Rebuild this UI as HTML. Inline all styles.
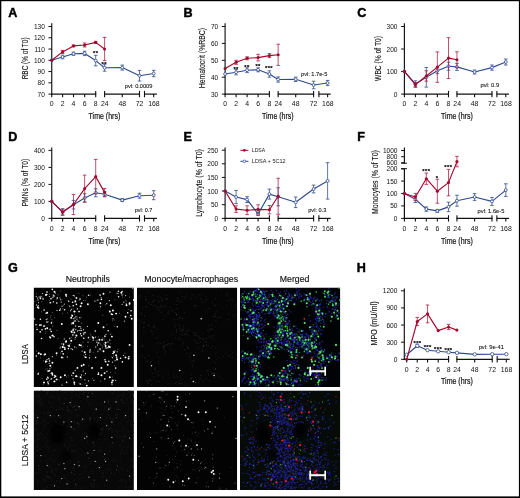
<!DOCTYPE html>
<html lang="en"><head><meta charset="utf-8"><title>Figure</title>
<style>html,body{margin:0;padding:0;background:#fff;}body{width:520px;height:498px;overflow:hidden;font-family:"Liberation Sans", Arial, sans-serif;}body>svg{display:block;will-change:transform;transform:translateZ(0);}</style>
</head><body>
<svg width="520" height="498" viewBox="0 0 520 498" font-family='"Liberation Sans", Arial, sans-serif'>
<rect x="0" y="0" width="520" height="498" fill="#fff"/>
<text x="8.2" y="17.1" font-size="12.6" text-anchor="start" font-weight="bold" fill="#000" stroke="#000" stroke-width="0.45" stroke-linejoin="round">A</text>
<line x1="51.75" y1="23.2" x2="51.75" y2="94.7" stroke="#111" stroke-width="1.15" />
<line x1="48.45" y1="26.5" x2="51.75" y2="26.5" stroke="#111" stroke-width="1.0" />
<text x="44.85" y="29" font-size="6.55" text-anchor="end" font-weight="normal" fill="#111" >130</text>
<line x1="48.45" y1="37.77" x2="51.75" y2="37.77" stroke="#111" stroke-width="1.0" />
<text x="44.85" y="40.27" font-size="6.55" text-anchor="end" font-weight="normal" fill="#111" >120</text>
<line x1="48.45" y1="49.04" x2="51.75" y2="49.04" stroke="#111" stroke-width="1.0" />
<text x="44.85" y="51.54" font-size="6.55" text-anchor="end" font-weight="normal" fill="#111" >110</text>
<line x1="48.45" y1="60.3" x2="51.75" y2="60.3" stroke="#111" stroke-width="1.0" />
<text x="44.85" y="62.8" font-size="6.55" text-anchor="end" font-weight="normal" fill="#111" >100</text>
<line x1="48.45" y1="71.57" x2="51.75" y2="71.57" stroke="#111" stroke-width="1.0" />
<text x="44.85" y="74.07" font-size="6.55" text-anchor="end" font-weight="normal" fill="#111" >90</text>
<line x1="48.45" y1="82.84" x2="51.75" y2="82.84" stroke="#111" stroke-width="1.0" />
<text x="44.85" y="85.34" font-size="6.55" text-anchor="end" font-weight="normal" fill="#111" >80</text>
<line x1="48.45" y1="94.1" x2="51.75" y2="94.1" stroke="#111" stroke-width="1.0" />
<text x="44.85" y="96.6" font-size="6.55" text-anchor="end" font-weight="normal" fill="#111" >70</text>
<line x1="51.2" y1="94.1" x2="96.2" y2="94.1" stroke="#111" stroke-width="1.2" />
<line x1="51.75" y1="94.1" x2="51.75" y2="97.3" stroke="#111" stroke-width="1.1" />
<line x1="62.6" y1="94.1" x2="62.6" y2="97.3" stroke="#111" stroke-width="1.1" />
<line x1="73.5" y1="94.1" x2="73.5" y2="97.3" stroke="#111" stroke-width="1.1" />
<line x1="84.65" y1="94.1" x2="84.65" y2="97.3" stroke="#111" stroke-width="1.1" />
<line x1="95.7" y1="90.9" x2="95.7" y2="97.3" stroke="#111" stroke-width="1.1" />
<line x1="104.1" y1="94.1" x2="140" y2="94.1" stroke="#111" stroke-width="1.2" />
<line x1="104.6" y1="90.9" x2="104.6" y2="97.3" stroke="#111" stroke-width="1.1" />
<line x1="122.25" y1="94.1" x2="122.25" y2="97.3" stroke="#111" stroke-width="1.1" />
<line x1="139.5" y1="90.9" x2="139.5" y2="97.3" stroke="#111" stroke-width="1.1" />
<line x1="144" y1="94.1" x2="156.9" y2="94.1" stroke="#111" stroke-width="1.2" />
<line x1="144.5" y1="90.9" x2="144.5" y2="97.3" stroke="#111" stroke-width="1.1" />
<line x1="153.7" y1="94.1" x2="153.7" y2="97.3" stroke="#111" stroke-width="1.1" />
<text x="51.75" y="106.3" font-size="6.9" text-anchor="middle" font-weight="normal" fill="#111" >0</text>
<text x="62.6" y="106.3" font-size="6.9" text-anchor="middle" font-weight="normal" fill="#111" >2</text>
<text x="73.5" y="106.3" font-size="6.9" text-anchor="middle" font-weight="normal" fill="#111" >4</text>
<text x="84.65" y="106.3" font-size="6.9" text-anchor="middle" font-weight="normal" fill="#111" >6</text>
<text x="95.7" y="106.3" font-size="6.9" text-anchor="middle" font-weight="normal" fill="#111" >8</text>
<text x="104.8" y="106.3" font-size="6.9" text-anchor="middle" font-weight="normal" fill="#111" >24</text>
<text x="122.25" y="106.3" font-size="6.9" text-anchor="middle" font-weight="normal" fill="#111" >48</text>
<text x="139.5" y="106.3" font-size="6.9" text-anchor="middle" font-weight="normal" fill="#111" >72</text>
<text x="153.9" y="106.3" font-size="6.9" text-anchor="middle" font-weight="normal" fill="#111" >168</text>
<text transform="translate(104.4,119)" x="0" y="0" font-size="8.7" text-anchor="middle" textLength="31.7" lengthAdjust="spacingAndGlyphs" fill="#111" stroke="#111" stroke-width="0.2">Time (hrs)</text>
<line x1="62.6" y1="55.2" x2="62.6" y2="58.8" stroke="#2F4B8C" stroke-width="0.75" />
<line x1="60.8" y1="55.2" x2="64.4" y2="55.2" stroke="#2F4B8C" stroke-width="0.8" />
<line x1="60.8" y1="58.8" x2="64.4" y2="58.8" stroke="#2F4B8C" stroke-width="0.8" />
<line x1="73.5" y1="52.1" x2="73.5" y2="55.3" stroke="#2F4B8C" stroke-width="0.75" />
<line x1="71.7" y1="52.1" x2="75.3" y2="52.1" stroke="#2F4B8C" stroke-width="0.8" />
<line x1="71.7" y1="55.3" x2="75.3" y2="55.3" stroke="#2F4B8C" stroke-width="0.8" />
<line x1="84.65" y1="51.2" x2="84.65" y2="55.6" stroke="#2F4B8C" stroke-width="0.75" />
<line x1="82.85" y1="51.2" x2="86.45" y2="51.2" stroke="#2F4B8C" stroke-width="0.8" />
<line x1="82.85" y1="55.6" x2="86.45" y2="55.6" stroke="#2F4B8C" stroke-width="0.8" />
<line x1="95.7" y1="55.3" x2="95.7" y2="65.9" stroke="#2F4B8C" stroke-width="0.75" />
<line x1="93.9" y1="55.3" x2="97.5" y2="55.3" stroke="#2F4B8C" stroke-width="0.8" />
<line x1="93.9" y1="65.9" x2="97.5" y2="65.9" stroke="#2F4B8C" stroke-width="0.8" />
<line x1="104.6" y1="64.2" x2="104.6" y2="71.2" stroke="#2F4B8C" stroke-width="0.75" />
<line x1="102.8" y1="64.2" x2="106.4" y2="64.2" stroke="#2F4B8C" stroke-width="0.8" />
<line x1="102.8" y1="71.2" x2="106.4" y2="71.2" stroke="#2F4B8C" stroke-width="0.8" />
<line x1="122.25" y1="65.1" x2="122.25" y2="70.1" stroke="#2F4B8C" stroke-width="0.75" />
<line x1="120.45" y1="65.1" x2="124.05" y2="65.1" stroke="#2F4B8C" stroke-width="0.8" />
<line x1="120.45" y1="70.1" x2="124.05" y2="70.1" stroke="#2F4B8C" stroke-width="0.8" />
<line x1="139.5" y1="70.4" x2="139.5" y2="81" stroke="#2F4B8C" stroke-width="0.75" />
<line x1="137.7" y1="70.4" x2="141.3" y2="70.4" stroke="#2F4B8C" stroke-width="0.8" />
<line x1="137.7" y1="81" x2="141.3" y2="81" stroke="#2F4B8C" stroke-width="0.8" />
<line x1="153.7" y1="70.3" x2="153.7" y2="76.7" stroke="#2F4B8C" stroke-width="0.75" />
<line x1="151.9" y1="70.3" x2="155.5" y2="70.3" stroke="#2F4B8C" stroke-width="0.8" />
<line x1="151.9" y1="76.7" x2="155.5" y2="76.7" stroke="#2F4B8C" stroke-width="0.8" />
<polyline points="51.75,60.2 62.6,57 73.5,53.7 84.65,53.4 95.7,60.6 104.6,67.7 122.25,67.6 139.5,75.7 153.7,73.5" fill="none" stroke="#2F4B8C" stroke-width="1.15" stroke-linejoin="round"/>
<circle cx="51.75" cy="60.2" r="1.45" fill="#fff" stroke="#2F4B8C" stroke-width="0.8"/>
<circle cx="62.6" cy="57" r="1.45" fill="#fff" stroke="#2F4B8C" stroke-width="0.8"/>
<circle cx="73.5" cy="53.7" r="1.45" fill="#fff" stroke="#2F4B8C" stroke-width="0.8"/>
<circle cx="84.65" cy="53.4" r="1.45" fill="#fff" stroke="#2F4B8C" stroke-width="0.8"/>
<circle cx="95.7" cy="60.6" r="1.45" fill="#fff" stroke="#2F4B8C" stroke-width="0.8"/>
<circle cx="104.6" cy="67.7" r="1.45" fill="#fff" stroke="#2F4B8C" stroke-width="0.8"/>
<circle cx="122.25" cy="67.6" r="1.45" fill="#fff" stroke="#2F4B8C" stroke-width="0.8"/>
<circle cx="139.5" cy="75.7" r="1.45" fill="#fff" stroke="#2F4B8C" stroke-width="0.8"/>
<circle cx="153.7" cy="73.5" r="1.45" fill="#fff" stroke="#2F4B8C" stroke-width="0.8"/>
<line x1="62.6" y1="50.4" x2="62.6" y2="53.4" stroke="#AE1A40" stroke-width="0.75" />
<line x1="60.8" y1="50.4" x2="64.4" y2="50.4" stroke="#AE1A40" stroke-width="0.8" />
<line x1="60.8" y1="53.4" x2="64.4" y2="53.4" stroke="#AE1A40" stroke-width="0.8" />
<line x1="73.5" y1="45.1" x2="73.5" y2="46.7" stroke="#AE1A40" stroke-width="0.75" />
<line x1="71.7" y1="45.1" x2="75.3" y2="45.1" stroke="#AE1A40" stroke-width="0.8" />
<line x1="71.7" y1="46.7" x2="75.3" y2="46.7" stroke="#AE1A40" stroke-width="0.8" />
<line x1="84.65" y1="43" x2="84.65" y2="47" stroke="#AE1A40" stroke-width="0.75" />
<line x1="82.85" y1="43" x2="86.45" y2="43" stroke="#AE1A40" stroke-width="0.8" />
<line x1="82.85" y1="47" x2="86.45" y2="47" stroke="#AE1A40" stroke-width="0.8" />
<line x1="95.7" y1="41.4" x2="95.7" y2="43.4" stroke="#AE1A40" stroke-width="0.75" />
<line x1="93.9" y1="41.4" x2="97.5" y2="41.4" stroke="#AE1A40" stroke-width="0.8" />
<line x1="93.9" y1="43.4" x2="97.5" y2="43.4" stroke="#AE1A40" stroke-width="0.8" />
<line x1="104.6" y1="37.4" x2="104.6" y2="60.6" stroke="#AE1A40" stroke-width="0.75" />
<line x1="102.8" y1="37.4" x2="106.4" y2="37.4" stroke="#AE1A40" stroke-width="0.8" />
<line x1="102.8" y1="60.6" x2="106.4" y2="60.6" stroke="#AE1A40" stroke-width="0.8" />
<polyline points="51.75,60.2 62.6,51.9 73.5,45.9 84.65,45 95.7,42.4 104.6,49" fill="none" stroke="#A5082E" stroke-width="1.15" stroke-linejoin="round"/>
<circle cx="51.75" cy="60.2" r="1.55" fill="#A5082E"/>
<circle cx="62.6" cy="51.9" r="1.55" fill="#A5082E"/>
<circle cx="73.5" cy="45.9" r="1.55" fill="#A5082E"/>
<circle cx="84.65" cy="45" r="1.55" fill="#A5082E"/>
<circle cx="95.7" cy="42.4" r="1.55" fill="#A5082E"/>
<circle cx="104.6" cy="49" r="1.55" fill="#A5082E"/>
<text transform="translate(28.3,58.4) rotate(-90)" x="0" y="0" font-size="8.7" text-anchor="middle" textLength="41.9" lengthAdjust="spacingAndGlyphs" fill="#111" stroke="#111" stroke-width="0.1">RBC (% of T0)</text>
<text x="95.72" y="55.3" font-size="5.8" text-anchor="middle" font-weight="bold" fill="#000" letter-spacing="0.45" stroke="#000" stroke-width="0.15">**</text>
<text x="104.22" y="66" font-size="5.8" text-anchor="middle" font-weight="bold" fill="#000" letter-spacing="0.45" stroke="#000" stroke-width="0.15">**</text>
<text x="138.6" y="87.7" font-size="6.0" text-anchor="middle" textLength="27.6" lengthAdjust="spacingAndGlyphs" fill="#1a1a1a" stroke="#1a1a1a" stroke-width="0.12">pvl: 0.0009</text>
<text x="183.6" y="17.1" font-size="12.6" text-anchor="start" font-weight="bold" fill="#000" stroke="#000" stroke-width="0.45" stroke-linejoin="round">B</text>
<line x1="225.1" y1="23.2" x2="225.1" y2="94.7" stroke="#111" stroke-width="1.15" />
<line x1="221.8" y1="26.5" x2="225.1" y2="26.5" stroke="#111" stroke-width="1.0" />
<text x="218.2" y="29" font-size="6.55" text-anchor="end" font-weight="normal" fill="#111" >70</text>
<line x1="221.8" y1="43.4" x2="225.1" y2="43.4" stroke="#111" stroke-width="1.0" />
<text x="218.2" y="45.9" font-size="6.55" text-anchor="end" font-weight="normal" fill="#111" >60</text>
<line x1="221.8" y1="60.3" x2="225.1" y2="60.3" stroke="#111" stroke-width="1.0" />
<text x="218.2" y="62.8" font-size="6.55" text-anchor="end" font-weight="normal" fill="#111" >50</text>
<line x1="221.8" y1="77.2" x2="225.1" y2="77.2" stroke="#111" stroke-width="1.0" />
<text x="218.2" y="79.7" font-size="6.55" text-anchor="end" font-weight="normal" fill="#111" >40</text>
<line x1="221.8" y1="94.1" x2="225.1" y2="94.1" stroke="#111" stroke-width="1.0" />
<text x="218.2" y="96.6" font-size="6.55" text-anchor="end" font-weight="normal" fill="#111" >30</text>
<line x1="224.55" y1="94.1" x2="269.9" y2="94.1" stroke="#111" stroke-width="1.2" />
<line x1="225.1" y1="94.1" x2="225.1" y2="97.3" stroke="#111" stroke-width="1.1" />
<line x1="236.1" y1="94.1" x2="236.1" y2="97.3" stroke="#111" stroke-width="1.1" />
<line x1="247.1" y1="94.1" x2="247.1" y2="97.3" stroke="#111" stroke-width="1.1" />
<line x1="258.1" y1="94.1" x2="258.1" y2="97.3" stroke="#111" stroke-width="1.1" />
<line x1="269.4" y1="90.9" x2="269.4" y2="97.3" stroke="#111" stroke-width="1.1" />
<line x1="277.65" y1="94.1" x2="314.1" y2="94.1" stroke="#111" stroke-width="1.2" />
<line x1="278.15" y1="90.9" x2="278.15" y2="97.3" stroke="#111" stroke-width="1.1" />
<line x1="295.7" y1="94.1" x2="295.7" y2="97.3" stroke="#111" stroke-width="1.1" />
<line x1="313.6" y1="90.9" x2="313.6" y2="97.3" stroke="#111" stroke-width="1.1" />
<line x1="318.4" y1="94.1" x2="330.7" y2="94.1" stroke="#111" stroke-width="1.2" />
<line x1="318.9" y1="90.9" x2="318.9" y2="97.3" stroke="#111" stroke-width="1.1" />
<line x1="327.6" y1="94.1" x2="327.6" y2="97.3" stroke="#111" stroke-width="1.1" />
<text x="225.1" y="106.3" font-size="6.9" text-anchor="middle" font-weight="normal" fill="#111" >0</text>
<text x="236.1" y="106.3" font-size="6.9" text-anchor="middle" font-weight="normal" fill="#111" >2</text>
<text x="247.1" y="106.3" font-size="6.9" text-anchor="middle" font-weight="normal" fill="#111" >4</text>
<text x="258.1" y="106.3" font-size="6.9" text-anchor="middle" font-weight="normal" fill="#111" >6</text>
<text x="269.4" y="106.3" font-size="6.9" text-anchor="middle" font-weight="normal" fill="#111" >8</text>
<text x="278.35" y="106.3" font-size="6.9" text-anchor="middle" font-weight="normal" fill="#111" >24</text>
<text x="295.7" y="106.3" font-size="6.9" text-anchor="middle" font-weight="normal" fill="#111" >48</text>
<text x="313.6" y="106.3" font-size="6.9" text-anchor="middle" font-weight="normal" fill="#111" >72</text>
<text x="327.8" y="106.3" font-size="6.9" text-anchor="middle" font-weight="normal" fill="#111" >168</text>
<text transform="translate(277.8,119)" x="0" y="0" font-size="8.7" text-anchor="middle" textLength="31.7" lengthAdjust="spacingAndGlyphs" fill="#111" stroke="#111" stroke-width="0.2">Time (hrs)</text>
<line x1="236.1" y1="69.6" x2="236.1" y2="74.8" stroke="#2F4B8C" stroke-width="0.75" />
<line x1="234.3" y1="69.6" x2="237.9" y2="69.6" stroke="#2F4B8C" stroke-width="0.8" />
<line x1="234.3" y1="74.8" x2="237.9" y2="74.8" stroke="#2F4B8C" stroke-width="0.8" />
<line x1="247.1" y1="67.8" x2="247.1" y2="72.6" stroke="#2F4B8C" stroke-width="0.75" />
<line x1="245.3" y1="67.8" x2="248.9" y2="67.8" stroke="#2F4B8C" stroke-width="0.8" />
<line x1="245.3" y1="72.6" x2="248.9" y2="72.6" stroke="#2F4B8C" stroke-width="0.8" />
<line x1="258.1" y1="67.8" x2="258.1" y2="71.8" stroke="#2F4B8C" stroke-width="0.75" />
<line x1="256.3" y1="67.8" x2="259.9" y2="67.8" stroke="#2F4B8C" stroke-width="0.8" />
<line x1="256.3" y1="71.8" x2="259.9" y2="71.8" stroke="#2F4B8C" stroke-width="0.8" />
<line x1="269.4" y1="70.8" x2="269.4" y2="77.2" stroke="#2F4B8C" stroke-width="0.75" />
<line x1="267.6" y1="70.8" x2="271.2" y2="70.8" stroke="#2F4B8C" stroke-width="0.8" />
<line x1="267.6" y1="77.2" x2="271.2" y2="77.2" stroke="#2F4B8C" stroke-width="0.8" />
<line x1="278.15" y1="76.9" x2="278.15" y2="82.1" stroke="#2F4B8C" stroke-width="0.75" />
<line x1="276.35" y1="76.9" x2="279.95" y2="76.9" stroke="#2F4B8C" stroke-width="0.8" />
<line x1="276.35" y1="82.1" x2="279.95" y2="82.1" stroke="#2F4B8C" stroke-width="0.8" />
<line x1="295.7" y1="77.1" x2="295.7" y2="81.5" stroke="#2F4B8C" stroke-width="0.75" />
<line x1="293.9" y1="77.1" x2="297.5" y2="77.1" stroke="#2F4B8C" stroke-width="0.8" />
<line x1="293.9" y1="81.5" x2="297.5" y2="81.5" stroke="#2F4B8C" stroke-width="0.8" />
<line x1="313.6" y1="81.2" x2="313.6" y2="88.8" stroke="#2F4B8C" stroke-width="0.75" />
<line x1="311.8" y1="81.2" x2="315.4" y2="81.2" stroke="#2F4B8C" stroke-width="0.8" />
<line x1="311.8" y1="88.8" x2="315.4" y2="88.8" stroke="#2F4B8C" stroke-width="0.8" />
<line x1="327.6" y1="80.4" x2="327.6" y2="85.6" stroke="#2F4B8C" stroke-width="0.75" />
<line x1="325.8" y1="80.4" x2="329.4" y2="80.4" stroke="#2F4B8C" stroke-width="0.8" />
<line x1="325.8" y1="85.6" x2="329.4" y2="85.6" stroke="#2F4B8C" stroke-width="0.8" />
<polyline points="225.1,74 236.1,72.2 247.1,70.2 258.1,69.8 269.4,74 278.15,79.5 295.7,79.3 313.6,85 327.6,83" fill="none" stroke="#2F4B8C" stroke-width="1.15" stroke-linejoin="round"/>
<circle cx="225.1" cy="74" r="1.45" fill="#fff" stroke="#2F4B8C" stroke-width="0.8"/>
<circle cx="236.1" cy="72.2" r="1.45" fill="#fff" stroke="#2F4B8C" stroke-width="0.8"/>
<circle cx="247.1" cy="70.2" r="1.45" fill="#fff" stroke="#2F4B8C" stroke-width="0.8"/>
<circle cx="258.1" cy="69.8" r="1.45" fill="#fff" stroke="#2F4B8C" stroke-width="0.8"/>
<circle cx="269.4" cy="74" r="1.45" fill="#fff" stroke="#2F4B8C" stroke-width="0.8"/>
<circle cx="278.15" cy="79.5" r="1.45" fill="#fff" stroke="#2F4B8C" stroke-width="0.8"/>
<circle cx="295.7" cy="79.3" r="1.45" fill="#fff" stroke="#2F4B8C" stroke-width="0.8"/>
<circle cx="313.6" cy="85" r="1.45" fill="#fff" stroke="#2F4B8C" stroke-width="0.8"/>
<circle cx="327.6" cy="83" r="1.45" fill="#fff" stroke="#2F4B8C" stroke-width="0.8"/>
<line x1="236.1" y1="60.3" x2="236.1" y2="64.3" stroke="#AE1A40" stroke-width="0.75" />
<line x1="234.3" y1="60.3" x2="237.9" y2="60.3" stroke="#AE1A40" stroke-width="0.8" />
<line x1="234.3" y1="64.3" x2="237.9" y2="64.3" stroke="#AE1A40" stroke-width="0.8" />
<line x1="247.1" y1="56.8" x2="247.1" y2="59.8" stroke="#AE1A40" stroke-width="0.75" />
<line x1="245.3" y1="56.8" x2="248.9" y2="56.8" stroke="#AE1A40" stroke-width="0.8" />
<line x1="245.3" y1="59.8" x2="248.9" y2="59.8" stroke="#AE1A40" stroke-width="0.8" />
<line x1="258.1" y1="54.3" x2="258.1" y2="60.9" stroke="#AE1A40" stroke-width="0.75" />
<line x1="256.3" y1="54.3" x2="259.9" y2="54.3" stroke="#AE1A40" stroke-width="0.8" />
<line x1="256.3" y1="60.9" x2="259.9" y2="60.9" stroke="#AE1A40" stroke-width="0.8" />
<line x1="269.4" y1="53.6" x2="269.4" y2="57.6" stroke="#AE1A40" stroke-width="0.75" />
<line x1="267.6" y1="53.6" x2="271.2" y2="53.6" stroke="#AE1A40" stroke-width="0.8" />
<line x1="267.6" y1="57.6" x2="271.2" y2="57.6" stroke="#AE1A40" stroke-width="0.8" />
<line x1="278.15" y1="44.2" x2="278.15" y2="65.4" stroke="#AE1A40" stroke-width="0.75" />
<line x1="276.35" y1="44.2" x2="279.95" y2="44.2" stroke="#AE1A40" stroke-width="0.8" />
<line x1="276.35" y1="65.4" x2="279.95" y2="65.4" stroke="#AE1A40" stroke-width="0.8" />
<polyline points="225.1,68.5 236.1,62.3 247.1,58.3 258.1,57.6 269.4,55.6 278.15,54.8" fill="none" stroke="#A5082E" stroke-width="1.15" stroke-linejoin="round"/>
<circle cx="225.1" cy="68.5" r="1.55" fill="#A5082E"/>
<circle cx="236.1" cy="62.3" r="1.55" fill="#A5082E"/>
<circle cx="247.1" cy="58.3" r="1.55" fill="#A5082E"/>
<circle cx="258.1" cy="57.6" r="1.55" fill="#A5082E"/>
<circle cx="269.4" cy="55.6" r="1.55" fill="#A5082E"/>
<circle cx="278.15" cy="54.8" r="1.55" fill="#A5082E"/>
<text transform="translate(205.4,58.1) rotate(-90)" x="0" y="0" font-size="8.7" text-anchor="middle" textLength="60.3" lengthAdjust="spacingAndGlyphs" fill="#111" stroke="#111" stroke-width="0.1">Hematocrit (%RBC)</text>
<text x="236.12" y="71.1" font-size="5.8" text-anchor="middle" font-weight="bold" fill="#000" letter-spacing="0.45" stroke="#000" stroke-width="0.15">**</text>
<text x="247.02" y="69.4" font-size="5.8" text-anchor="middle" font-weight="bold" fill="#000" letter-spacing="0.45" stroke="#000" stroke-width="0.15">**</text>
<text x="258.12" y="68.3" font-size="5.8" text-anchor="middle" font-weight="bold" fill="#000" letter-spacing="0.45" stroke="#000" stroke-width="0.15">**</text>
<text x="269.02" y="70.4" font-size="5.8" text-anchor="middle" font-weight="bold" fill="#000" letter-spacing="0.45" stroke="#000" stroke-width="0.15">***</text>
<text x="314.2" y="76" font-size="6.0" text-anchor="middle" textLength="26.3" lengthAdjust="spacingAndGlyphs" fill="#1a1a1a" stroke="#1a1a1a" stroke-width="0.12">pvl: 1.7e-5</text>
<text x="357.2" y="17.1" font-size="12.6" text-anchor="start" font-weight="bold" fill="#000" stroke="#000" stroke-width="0.45" stroke-linejoin="round">C</text>
<line x1="404.4" y1="23.2" x2="404.4" y2="94.7" stroke="#111" stroke-width="1.15" />
<line x1="401.1" y1="26.5" x2="404.4" y2="26.5" stroke="#111" stroke-width="1.0" />
<text x="397.5" y="29" font-size="6.55" text-anchor="end" font-weight="normal" fill="#111" >300</text>
<line x1="401.1" y1="49.03" x2="404.4" y2="49.03" stroke="#111" stroke-width="1.0" />
<text x="397.5" y="51.53" font-size="6.55" text-anchor="end" font-weight="normal" fill="#111" >200</text>
<line x1="401.1" y1="71.57" x2="404.4" y2="71.57" stroke="#111" stroke-width="1.0" />
<text x="397.5" y="74.07" font-size="6.55" text-anchor="end" font-weight="normal" fill="#111" >100</text>
<line x1="401.1" y1="94.1" x2="404.4" y2="94.1" stroke="#111" stroke-width="1.0" />
<text x="397.5" y="96.6" font-size="6.55" text-anchor="end" font-weight="normal" fill="#111" >0</text>
<line x1="403.85" y1="94.1" x2="449" y2="94.1" stroke="#111" stroke-width="1.2" />
<line x1="404.4" y1="94.1" x2="404.4" y2="97.3" stroke="#111" stroke-width="1.1" />
<line x1="415.4" y1="94.1" x2="415.4" y2="97.3" stroke="#111" stroke-width="1.1" />
<line x1="426.3" y1="94.1" x2="426.3" y2="97.3" stroke="#111" stroke-width="1.1" />
<line x1="437.35" y1="94.1" x2="437.35" y2="97.3" stroke="#111" stroke-width="1.1" />
<line x1="448.5" y1="90.9" x2="448.5" y2="97.3" stroke="#111" stroke-width="1.1" />
<line x1="456.45" y1="94.1" x2="492.45" y2="94.1" stroke="#111" stroke-width="1.2" />
<line x1="456.95" y1="90.9" x2="456.95" y2="97.3" stroke="#111" stroke-width="1.1" />
<line x1="474.6" y1="94.1" x2="474.6" y2="97.3" stroke="#111" stroke-width="1.1" />
<line x1="491.95" y1="90.9" x2="491.95" y2="97.3" stroke="#111" stroke-width="1.1" />
<line x1="496.4" y1="94.1" x2="509.1" y2="94.1" stroke="#111" stroke-width="1.2" />
<line x1="496.9" y1="90.9" x2="496.9" y2="97.3" stroke="#111" stroke-width="1.1" />
<line x1="505.8" y1="94.1" x2="505.8" y2="97.3" stroke="#111" stroke-width="1.1" />
<text x="404.4" y="106.3" font-size="6.9" text-anchor="middle" font-weight="normal" fill="#111" >0</text>
<text x="415.4" y="106.3" font-size="6.9" text-anchor="middle" font-weight="normal" fill="#111" >2</text>
<text x="426.3" y="106.3" font-size="6.9" text-anchor="middle" font-weight="normal" fill="#111" >4</text>
<text x="437.35" y="106.3" font-size="6.9" text-anchor="middle" font-weight="normal" fill="#111" >6</text>
<text x="448.5" y="106.3" font-size="6.9" text-anchor="middle" font-weight="normal" fill="#111" >8</text>
<text x="457.15" y="106.3" font-size="6.9" text-anchor="middle" font-weight="normal" fill="#111" >24</text>
<text x="474.6" y="106.3" font-size="6.9" text-anchor="middle" font-weight="normal" fill="#111" >48</text>
<text x="491.95" y="106.3" font-size="6.9" text-anchor="middle" font-weight="normal" fill="#111" >72</text>
<text x="506" y="106.3" font-size="6.9" text-anchor="middle" font-weight="normal" fill="#111" >168</text>
<text transform="translate(456.9,119)" x="0" y="0" font-size="8.7" text-anchor="middle" textLength="31.7" lengthAdjust="spacingAndGlyphs" fill="#111" stroke="#111" stroke-width="0.2">Time (hrs)</text>
<line x1="415.4" y1="80.8" x2="415.4" y2="87.4" stroke="#2F4B8C" stroke-width="0.75" />
<line x1="413.6" y1="80.8" x2="417.2" y2="80.8" stroke="#2F4B8C" stroke-width="0.8" />
<line x1="413.6" y1="87.4" x2="417.2" y2="87.4" stroke="#2F4B8C" stroke-width="0.8" />
<line x1="426.3" y1="67.5" x2="426.3" y2="87.1" stroke="#2F4B8C" stroke-width="0.75" />
<line x1="424.5" y1="67.5" x2="428.1" y2="67.5" stroke="#2F4B8C" stroke-width="0.8" />
<line x1="424.5" y1="87.1" x2="428.1" y2="87.1" stroke="#2F4B8C" stroke-width="0.8" />
<line x1="437.35" y1="67.7" x2="437.35" y2="73.7" stroke="#2F4B8C" stroke-width="0.75" />
<line x1="435.55" y1="67.7" x2="439.15" y2="67.7" stroke="#2F4B8C" stroke-width="0.8" />
<line x1="435.55" y1="73.7" x2="439.15" y2="73.7" stroke="#2F4B8C" stroke-width="0.8" />
<line x1="448.5" y1="62.2" x2="448.5" y2="70.2" stroke="#2F4B8C" stroke-width="0.75" />
<line x1="446.7" y1="62.2" x2="450.3" y2="62.2" stroke="#2F4B8C" stroke-width="0.8" />
<line x1="446.7" y1="70.2" x2="450.3" y2="70.2" stroke="#2F4B8C" stroke-width="0.8" />
<line x1="456.95" y1="63.4" x2="456.95" y2="70.4" stroke="#2F4B8C" stroke-width="0.75" />
<line x1="455.15" y1="63.4" x2="458.75" y2="63.4" stroke="#2F4B8C" stroke-width="0.8" />
<line x1="455.15" y1="70.4" x2="458.75" y2="70.4" stroke="#2F4B8C" stroke-width="0.8" />
<line x1="474.6" y1="70" x2="474.6" y2="74" stroke="#2F4B8C" stroke-width="0.75" />
<line x1="472.8" y1="70" x2="476.4" y2="70" stroke="#2F4B8C" stroke-width="0.8" />
<line x1="472.8" y1="74" x2="476.4" y2="74" stroke="#2F4B8C" stroke-width="0.8" />
<line x1="491.95" y1="65" x2="491.95" y2="70.2" stroke="#2F4B8C" stroke-width="0.75" />
<line x1="490.15" y1="65" x2="493.75" y2="65" stroke="#2F4B8C" stroke-width="0.8" />
<line x1="490.15" y1="70.2" x2="493.75" y2="70.2" stroke="#2F4B8C" stroke-width="0.8" />
<line x1="505.8" y1="59" x2="505.8" y2="65" stroke="#2F4B8C" stroke-width="0.75" />
<line x1="504" y1="59" x2="507.6" y2="59" stroke="#2F4B8C" stroke-width="0.8" />
<line x1="504" y1="65" x2="507.6" y2="65" stroke="#2F4B8C" stroke-width="0.8" />
<polyline points="404.4,71.3 415.4,84.1 426.3,77.3 437.35,70.7 448.5,66.2 456.95,66.9 474.6,72 491.95,67.6 505.8,62" fill="none" stroke="#2F4B8C" stroke-width="1.15" stroke-linejoin="round"/>
<circle cx="404.4" cy="71.3" r="1.45" fill="#fff" stroke="#2F4B8C" stroke-width="0.8"/>
<circle cx="415.4" cy="84.1" r="1.45" fill="#fff" stroke="#2F4B8C" stroke-width="0.8"/>
<circle cx="426.3" cy="77.3" r="1.45" fill="#fff" stroke="#2F4B8C" stroke-width="0.8"/>
<circle cx="437.35" cy="70.7" r="1.45" fill="#fff" stroke="#2F4B8C" stroke-width="0.8"/>
<circle cx="448.5" cy="66.2" r="1.45" fill="#fff" stroke="#2F4B8C" stroke-width="0.8"/>
<circle cx="456.95" cy="66.9" r="1.45" fill="#fff" stroke="#2F4B8C" stroke-width="0.8"/>
<circle cx="474.6" cy="72" r="1.45" fill="#fff" stroke="#2F4B8C" stroke-width="0.8"/>
<circle cx="491.95" cy="67.6" r="1.45" fill="#fff" stroke="#2F4B8C" stroke-width="0.8"/>
<circle cx="505.8" cy="62" r="1.45" fill="#fff" stroke="#2F4B8C" stroke-width="0.8"/>
<line x1="415.4" y1="82.6" x2="415.4" y2="86.6" stroke="#AE1A40" stroke-width="0.75" />
<line x1="413.6" y1="82.6" x2="417.2" y2="82.6" stroke="#AE1A40" stroke-width="0.8" />
<line x1="413.6" y1="86.6" x2="417.2" y2="86.6" stroke="#AE1A40" stroke-width="0.8" />
<line x1="426.3" y1="70.8" x2="426.3" y2="81.2" stroke="#AE1A40" stroke-width="0.75" />
<line x1="424.5" y1="70.8" x2="428.1" y2="70.8" stroke="#AE1A40" stroke-width="0.8" />
<line x1="424.5" y1="81.2" x2="428.1" y2="81.2" stroke="#AE1A40" stroke-width="0.8" />
<line x1="437.35" y1="51.9" x2="437.35" y2="82.3" stroke="#AE1A40" stroke-width="0.75" />
<line x1="435.55" y1="51.9" x2="439.15" y2="51.9" stroke="#AE1A40" stroke-width="0.8" />
<line x1="435.55" y1="82.3" x2="439.15" y2="82.3" stroke="#AE1A40" stroke-width="0.8" />
<line x1="448.5" y1="37.7" x2="448.5" y2="78.5" stroke="#AE1A40" stroke-width="0.75" />
<line x1="446.7" y1="37.7" x2="450.3" y2="37.7" stroke="#AE1A40" stroke-width="0.8" />
<line x1="446.7" y1="78.5" x2="450.3" y2="78.5" stroke="#AE1A40" stroke-width="0.8" />
<line x1="456.95" y1="51.8" x2="456.95" y2="67.8" stroke="#AE1A40" stroke-width="0.75" />
<line x1="455.15" y1="51.8" x2="458.75" y2="51.8" stroke="#AE1A40" stroke-width="0.8" />
<line x1="455.15" y1="67.8" x2="458.75" y2="67.8" stroke="#AE1A40" stroke-width="0.8" />
<polyline points="404.4,71.3 415.4,84.6 426.3,76 437.35,67.1 448.5,58.1 456.95,59.8" fill="none" stroke="#A5082E" stroke-width="1.15" stroke-linejoin="round"/>
<circle cx="404.4" cy="71.3" r="1.55" fill="#A5082E"/>
<circle cx="415.4" cy="84.6" r="1.55" fill="#A5082E"/>
<circle cx="426.3" cy="76" r="1.55" fill="#A5082E"/>
<circle cx="437.35" cy="67.1" r="1.55" fill="#A5082E"/>
<circle cx="448.5" cy="58.1" r="1.55" fill="#A5082E"/>
<circle cx="456.95" cy="59.8" r="1.55" fill="#A5082E"/>
<text transform="translate(381,58.5) rotate(-90)" x="0" y="0" font-size="8.7" text-anchor="middle" textLength="44.9" lengthAdjust="spacingAndGlyphs" fill="#111" stroke="#111" stroke-width="0.1">WBC (% of T0)</text>
<text x="489.8" y="87.2" font-size="6.0" text-anchor="middle" textLength="18.8" lengthAdjust="spacingAndGlyphs" fill="#1a1a1a" stroke="#1a1a1a" stroke-width="0.12">pvl: 0.9</text>
<text x="8.2" y="141.4" font-size="12.6" text-anchor="start" font-weight="bold" fill="#000" stroke="#000" stroke-width="0.45" stroke-linejoin="round">D</text>
<line x1="51.75" y1="147.4" x2="51.75" y2="219" stroke="#111" stroke-width="1.15" />
<line x1="48.45" y1="150.4" x2="51.75" y2="150.4" stroke="#111" stroke-width="1.0" />
<text x="44.85" y="152.9" font-size="6.55" text-anchor="end" font-weight="normal" fill="#111" >400</text>
<line x1="48.45" y1="167.4" x2="51.75" y2="167.4" stroke="#111" stroke-width="1.0" />
<text x="44.85" y="169.9" font-size="6.55" text-anchor="end" font-weight="normal" fill="#111" >300</text>
<line x1="48.45" y1="184.4" x2="51.75" y2="184.4" stroke="#111" stroke-width="1.0" />
<text x="44.85" y="186.9" font-size="6.55" text-anchor="end" font-weight="normal" fill="#111" >200</text>
<line x1="48.45" y1="201.4" x2="51.75" y2="201.4" stroke="#111" stroke-width="1.0" />
<text x="44.85" y="203.9" font-size="6.55" text-anchor="end" font-weight="normal" fill="#111" >100</text>
<line x1="48.45" y1="218.4" x2="51.75" y2="218.4" stroke="#111" stroke-width="1.0" />
<text x="44.85" y="220.9" font-size="6.55" text-anchor="end" font-weight="normal" fill="#111" >0</text>
<line x1="51.2" y1="218.4" x2="96.2" y2="218.4" stroke="#111" stroke-width="1.2" />
<line x1="51.75" y1="218.4" x2="51.75" y2="221.6" stroke="#111" stroke-width="1.1" />
<line x1="62.6" y1="218.4" x2="62.6" y2="221.6" stroke="#111" stroke-width="1.1" />
<line x1="73.5" y1="218.4" x2="73.5" y2="221.6" stroke="#111" stroke-width="1.1" />
<line x1="84.65" y1="218.4" x2="84.65" y2="221.6" stroke="#111" stroke-width="1.1" />
<line x1="95.7" y1="215.2" x2="95.7" y2="221.6" stroke="#111" stroke-width="1.1" />
<line x1="104.1" y1="218.4" x2="140" y2="218.4" stroke="#111" stroke-width="1.2" />
<line x1="104.6" y1="215.2" x2="104.6" y2="221.6" stroke="#111" stroke-width="1.1" />
<line x1="122.25" y1="218.4" x2="122.25" y2="221.6" stroke="#111" stroke-width="1.1" />
<line x1="139.5" y1="215.2" x2="139.5" y2="221.6" stroke="#111" stroke-width="1.1" />
<line x1="144" y1="218.4" x2="156.9" y2="218.4" stroke="#111" stroke-width="1.2" />
<line x1="144.5" y1="215.2" x2="144.5" y2="221.6" stroke="#111" stroke-width="1.1" />
<line x1="153.7" y1="218.4" x2="153.7" y2="221.6" stroke="#111" stroke-width="1.1" />
<text x="51.75" y="230.6" font-size="6.9" text-anchor="middle" font-weight="normal" fill="#111" >0</text>
<text x="62.6" y="230.6" font-size="6.9" text-anchor="middle" font-weight="normal" fill="#111" >2</text>
<text x="73.5" y="230.6" font-size="6.9" text-anchor="middle" font-weight="normal" fill="#111" >4</text>
<text x="84.65" y="230.6" font-size="6.9" text-anchor="middle" font-weight="normal" fill="#111" >6</text>
<text x="95.7" y="230.6" font-size="6.9" text-anchor="middle" font-weight="normal" fill="#111" >8</text>
<text x="104.8" y="230.6" font-size="6.9" text-anchor="middle" font-weight="normal" fill="#111" >24</text>
<text x="122.25" y="230.6" font-size="6.9" text-anchor="middle" font-weight="normal" fill="#111" >48</text>
<text x="139.5" y="230.6" font-size="6.9" text-anchor="middle" font-weight="normal" fill="#111" >72</text>
<text x="153.9" y="230.6" font-size="6.9" text-anchor="middle" font-weight="normal" fill="#111" >168</text>
<text transform="translate(104.4,243.5)" x="0" y="0" font-size="8.7" text-anchor="middle" textLength="31.7" lengthAdjust="spacingAndGlyphs" fill="#111" stroke="#111" stroke-width="0.2">Time (hrs)</text>
<line x1="62.6" y1="208.8" x2="62.6" y2="214.8" stroke="#2F4B8C" stroke-width="0.75" />
<line x1="60.8" y1="208.8" x2="64.4" y2="208.8" stroke="#2F4B8C" stroke-width="0.8" />
<line x1="60.8" y1="214.8" x2="64.4" y2="214.8" stroke="#2F4B8C" stroke-width="0.8" />
<line x1="73.5" y1="200.4" x2="73.5" y2="209" stroke="#2F4B8C" stroke-width="0.75" />
<line x1="71.7" y1="200.4" x2="75.3" y2="200.4" stroke="#2F4B8C" stroke-width="0.8" />
<line x1="71.7" y1="209" x2="75.3" y2="209" stroke="#2F4B8C" stroke-width="0.8" />
<line x1="84.65" y1="193.7" x2="84.65" y2="202.1" stroke="#2F4B8C" stroke-width="0.75" />
<line x1="82.85" y1="193.7" x2="86.45" y2="193.7" stroke="#2F4B8C" stroke-width="0.8" />
<line x1="82.85" y1="202.1" x2="86.45" y2="202.1" stroke="#2F4B8C" stroke-width="0.8" />
<line x1="95.7" y1="188.8" x2="95.7" y2="196.8" stroke="#2F4B8C" stroke-width="0.75" />
<line x1="93.9" y1="188.8" x2="97.5" y2="188.8" stroke="#2F4B8C" stroke-width="0.8" />
<line x1="93.9" y1="196.8" x2="97.5" y2="196.8" stroke="#2F4B8C" stroke-width="0.8" />
<line x1="104.6" y1="191.8" x2="104.6" y2="196.8" stroke="#2F4B8C" stroke-width="0.75" />
<line x1="102.8" y1="191.8" x2="106.4" y2="191.8" stroke="#2F4B8C" stroke-width="0.8" />
<line x1="102.8" y1="196.8" x2="106.4" y2="196.8" stroke="#2F4B8C" stroke-width="0.8" />
<line x1="122.25" y1="198.6" x2="122.25" y2="201.6" stroke="#2F4B8C" stroke-width="0.75" />
<line x1="120.45" y1="198.6" x2="124.05" y2="198.6" stroke="#2F4B8C" stroke-width="0.8" />
<line x1="120.45" y1="201.6" x2="124.05" y2="201.6" stroke="#2F4B8C" stroke-width="0.8" />
<line x1="139.5" y1="193.2" x2="139.5" y2="198.2" stroke="#2F4B8C" stroke-width="0.75" />
<line x1="137.7" y1="193.2" x2="141.3" y2="193.2" stroke="#2F4B8C" stroke-width="0.8" />
<line x1="137.7" y1="198.2" x2="141.3" y2="198.2" stroke="#2F4B8C" stroke-width="0.8" />
<line x1="153.7" y1="190.7" x2="153.7" y2="199.7" stroke="#2F4B8C" stroke-width="0.75" />
<line x1="151.9" y1="190.7" x2="155.5" y2="190.7" stroke="#2F4B8C" stroke-width="0.8" />
<line x1="151.9" y1="199.7" x2="155.5" y2="199.7" stroke="#2F4B8C" stroke-width="0.8" />
<polyline points="51.75,201.4 62.6,211.8 73.5,204.7 84.65,197.9 95.7,192.8 104.6,194.3 122.25,200.1 139.5,195.7 153.7,195.2" fill="none" stroke="#2F4B8C" stroke-width="1.15" stroke-linejoin="round"/>
<circle cx="51.75" cy="201.4" r="1.45" fill="#fff" stroke="#2F4B8C" stroke-width="0.8"/>
<circle cx="62.6" cy="211.8" r="1.45" fill="#fff" stroke="#2F4B8C" stroke-width="0.8"/>
<circle cx="73.5" cy="204.7" r="1.45" fill="#fff" stroke="#2F4B8C" stroke-width="0.8"/>
<circle cx="84.65" cy="197.9" r="1.45" fill="#fff" stroke="#2F4B8C" stroke-width="0.8"/>
<circle cx="95.7" cy="192.8" r="1.45" fill="#fff" stroke="#2F4B8C" stroke-width="0.8"/>
<circle cx="104.6" cy="194.3" r="1.45" fill="#fff" stroke="#2F4B8C" stroke-width="0.8"/>
<circle cx="122.25" cy="200.1" r="1.45" fill="#fff" stroke="#2F4B8C" stroke-width="0.8"/>
<circle cx="139.5" cy="195.7" r="1.45" fill="#fff" stroke="#2F4B8C" stroke-width="0.8"/>
<circle cx="153.7" cy="195.2" r="1.45" fill="#fff" stroke="#2F4B8C" stroke-width="0.8"/>
<line x1="62.6" y1="209.1" x2="62.6" y2="215.3" stroke="#AE1A40" stroke-width="0.75" />
<line x1="60.8" y1="209.1" x2="64.4" y2="209.1" stroke="#AE1A40" stroke-width="0.8" />
<line x1="60.8" y1="215.3" x2="64.4" y2="215.3" stroke="#AE1A40" stroke-width="0.8" />
<line x1="73.5" y1="194.4" x2="73.5" y2="214.6" stroke="#AE1A40" stroke-width="0.75" />
<line x1="71.7" y1="194.4" x2="75.3" y2="194.4" stroke="#AE1A40" stroke-width="0.8" />
<line x1="71.7" y1="214.6" x2="75.3" y2="214.6" stroke="#AE1A40" stroke-width="0.8" />
<line x1="84.65" y1="175.1" x2="84.65" y2="202.1" stroke="#AE1A40" stroke-width="0.75" />
<line x1="82.85" y1="175.1" x2="86.45" y2="175.1" stroke="#AE1A40" stroke-width="0.8" />
<line x1="82.85" y1="202.1" x2="86.45" y2="202.1" stroke="#AE1A40" stroke-width="0.8" />
<line x1="95.7" y1="159.4" x2="95.7" y2="193.8" stroke="#AE1A40" stroke-width="0.75" />
<line x1="93.9" y1="159.4" x2="97.5" y2="159.4" stroke="#AE1A40" stroke-width="0.8" />
<line x1="93.9" y1="193.8" x2="97.5" y2="193.8" stroke="#AE1A40" stroke-width="0.8" />
<line x1="104.6" y1="188.5" x2="104.6" y2="196.3" stroke="#AE1A40" stroke-width="0.75" />
<line x1="102.8" y1="188.5" x2="106.4" y2="188.5" stroke="#AE1A40" stroke-width="0.8" />
<line x1="102.8" y1="196.3" x2="106.4" y2="196.3" stroke="#AE1A40" stroke-width="0.8" />
<polyline points="51.75,201.4 62.6,212.2 73.5,204.5 84.65,188.6 95.7,176.6 104.6,192.4" fill="none" stroke="#A5082E" stroke-width="1.15" stroke-linejoin="round"/>
<circle cx="51.75" cy="201.4" r="1.55" fill="#A5082E"/>
<circle cx="62.6" cy="212.2" r="1.55" fill="#A5082E"/>
<circle cx="73.5" cy="204.5" r="1.55" fill="#A5082E"/>
<circle cx="84.65" cy="188.6" r="1.55" fill="#A5082E"/>
<circle cx="95.7" cy="176.6" r="1.55" fill="#A5082E"/>
<circle cx="104.6" cy="192.4" r="1.55" fill="#A5082E"/>
<text transform="translate(28.1,182.6) rotate(-90)" x="0" y="0" font-size="8.7" text-anchor="middle" textLength="47.7" lengthAdjust="spacingAndGlyphs" fill="#111" stroke="#111" stroke-width="0.1">PMNs (% of T0)</text>
<text x="143.5" y="212.2" font-size="6.0" text-anchor="middle" textLength="17.7" lengthAdjust="spacingAndGlyphs" fill="#1a1a1a" stroke="#1a1a1a" stroke-width="0.12">pvl: 0.7</text>
<text x="183.6" y="141.4" font-size="12.6" text-anchor="start" font-weight="bold" fill="#000" stroke="#000" stroke-width="0.45" stroke-linejoin="round">E</text>
<line x1="225.1" y1="147.4" x2="225.1" y2="219" stroke="#111" stroke-width="1.15" />
<line x1="221.8" y1="150.2" x2="225.1" y2="150.2" stroke="#111" stroke-width="1.0" />
<text x="218.2" y="152.7" font-size="6.55" text-anchor="end" font-weight="normal" fill="#111" >250</text>
<line x1="221.8" y1="163.8" x2="225.1" y2="163.8" stroke="#111" stroke-width="1.0" />
<text x="218.2" y="166.3" font-size="6.55" text-anchor="end" font-weight="normal" fill="#111" >200</text>
<line x1="221.8" y1="177.4" x2="225.1" y2="177.4" stroke="#111" stroke-width="1.0" />
<text x="218.2" y="179.9" font-size="6.55" text-anchor="end" font-weight="normal" fill="#111" >150</text>
<line x1="221.8" y1="191" x2="225.1" y2="191" stroke="#111" stroke-width="1.0" />
<text x="218.2" y="193.5" font-size="6.55" text-anchor="end" font-weight="normal" fill="#111" >100</text>
<line x1="221.8" y1="204.7" x2="225.1" y2="204.7" stroke="#111" stroke-width="1.0" />
<text x="218.2" y="207.2" font-size="6.55" text-anchor="end" font-weight="normal" fill="#111" >50</text>
<line x1="221.8" y1="218.4" x2="225.1" y2="218.4" stroke="#111" stroke-width="1.0" />
<text x="218.2" y="220.9" font-size="6.55" text-anchor="end" font-weight="normal" fill="#111" >0</text>
<line x1="224.55" y1="218.4" x2="269.9" y2="218.4" stroke="#111" stroke-width="1.2" />
<line x1="225.1" y1="218.4" x2="225.1" y2="221.6" stroke="#111" stroke-width="1.1" />
<line x1="236.1" y1="218.4" x2="236.1" y2="221.6" stroke="#111" stroke-width="1.1" />
<line x1="247.1" y1="218.4" x2="247.1" y2="221.6" stroke="#111" stroke-width="1.1" />
<line x1="258.1" y1="218.4" x2="258.1" y2="221.6" stroke="#111" stroke-width="1.1" />
<line x1="269.4" y1="215.2" x2="269.4" y2="221.6" stroke="#111" stroke-width="1.1" />
<line x1="277.65" y1="218.4" x2="314.1" y2="218.4" stroke="#111" stroke-width="1.2" />
<line x1="278.15" y1="215.2" x2="278.15" y2="221.6" stroke="#111" stroke-width="1.1" />
<line x1="295.7" y1="218.4" x2="295.7" y2="221.6" stroke="#111" stroke-width="1.1" />
<line x1="313.6" y1="215.2" x2="313.6" y2="221.6" stroke="#111" stroke-width="1.1" />
<line x1="318.4" y1="218.4" x2="330.7" y2="218.4" stroke="#111" stroke-width="1.2" />
<line x1="318.9" y1="215.2" x2="318.9" y2="221.6" stroke="#111" stroke-width="1.1" />
<line x1="327.6" y1="218.4" x2="327.6" y2="221.6" stroke="#111" stroke-width="1.1" />
<text x="225.1" y="230.6" font-size="6.9" text-anchor="middle" font-weight="normal" fill="#111" >0</text>
<text x="236.1" y="230.6" font-size="6.9" text-anchor="middle" font-weight="normal" fill="#111" >2</text>
<text x="247.1" y="230.6" font-size="6.9" text-anchor="middle" font-weight="normal" fill="#111" >4</text>
<text x="258.1" y="230.6" font-size="6.9" text-anchor="middle" font-weight="normal" fill="#111" >6</text>
<text x="269.4" y="230.6" font-size="6.9" text-anchor="middle" font-weight="normal" fill="#111" >8</text>
<text x="278.35" y="230.6" font-size="6.9" text-anchor="middle" font-weight="normal" fill="#111" >24</text>
<text x="295.7" y="230.6" font-size="6.9" text-anchor="middle" font-weight="normal" fill="#111" >48</text>
<text x="313.6" y="230.6" font-size="6.9" text-anchor="middle" font-weight="normal" fill="#111" >72</text>
<text x="327.8" y="230.6" font-size="6.9" text-anchor="middle" font-weight="normal" fill="#111" >168</text>
<text transform="translate(277.8,243.5)" x="0" y="0" font-size="8.7" text-anchor="middle" textLength="31.7" lengthAdjust="spacingAndGlyphs" fill="#111" stroke="#111" stroke-width="0.2">Time (hrs)</text>
<line x1="236.1" y1="190.4" x2="236.1" y2="203.6" stroke="#2F4B8C" stroke-width="0.75" />
<line x1="234.3" y1="190.4" x2="237.9" y2="190.4" stroke="#2F4B8C" stroke-width="0.8" />
<line x1="234.3" y1="203.6" x2="237.9" y2="203.6" stroke="#2F4B8C" stroke-width="0.8" />
<line x1="247.1" y1="196.7" x2="247.1" y2="202.5" stroke="#2F4B8C" stroke-width="0.75" />
<line x1="245.3" y1="196.7" x2="248.9" y2="196.7" stroke="#2F4B8C" stroke-width="0.8" />
<line x1="245.3" y1="202.5" x2="248.9" y2="202.5" stroke="#2F4B8C" stroke-width="0.8" />
<line x1="258.1" y1="212.5" x2="258.1" y2="215.5" stroke="#2F4B8C" stroke-width="0.75" />
<line x1="256.3" y1="212.5" x2="259.9" y2="212.5" stroke="#2F4B8C" stroke-width="0.8" />
<line x1="256.3" y1="215.5" x2="259.9" y2="215.5" stroke="#2F4B8C" stroke-width="0.8" />
<line x1="269.4" y1="189.1" x2="269.4" y2="199.1" stroke="#2F4B8C" stroke-width="0.75" />
<line x1="267.6" y1="189.1" x2="271.2" y2="189.1" stroke="#2F4B8C" stroke-width="0.8" />
<line x1="267.6" y1="199.1" x2="271.2" y2="199.1" stroke="#2F4B8C" stroke-width="0.8" />
<line x1="278.15" y1="187.8" x2="278.15" y2="205.8" stroke="#2F4B8C" stroke-width="0.75" />
<line x1="276.35" y1="187.8" x2="279.95" y2="187.8" stroke="#2F4B8C" stroke-width="0.8" />
<line x1="276.35" y1="205.8" x2="279.95" y2="205.8" stroke="#2F4B8C" stroke-width="0.8" />
<line x1="295.7" y1="197" x2="295.7" y2="207.6" stroke="#2F4B8C" stroke-width="0.75" />
<line x1="293.9" y1="197" x2="297.5" y2="197" stroke="#2F4B8C" stroke-width="0.8" />
<line x1="293.9" y1="207.6" x2="297.5" y2="207.6" stroke="#2F4B8C" stroke-width="0.8" />
<line x1="313.6" y1="185.1" x2="313.6" y2="192.9" stroke="#2F4B8C" stroke-width="0.75" />
<line x1="311.8" y1="185.1" x2="315.4" y2="185.1" stroke="#2F4B8C" stroke-width="0.8" />
<line x1="311.8" y1="192.9" x2="315.4" y2="192.9" stroke="#2F4B8C" stroke-width="0.8" />
<line x1="327.6" y1="162.7" x2="327.6" y2="199.1" stroke="#2F4B8C" stroke-width="0.75" />
<line x1="325.8" y1="162.7" x2="329.4" y2="162.7" stroke="#2F4B8C" stroke-width="0.8" />
<line x1="325.8" y1="199.1" x2="329.4" y2="199.1" stroke="#2F4B8C" stroke-width="0.8" />
<polyline points="225.1,191 236.1,197 247.1,199.6 258.1,214 269.4,194.1 278.15,196.8 295.7,202.3 313.6,189 327.6,180.9" fill="none" stroke="#2F4B8C" stroke-width="1.15" stroke-linejoin="round"/>
<circle cx="225.1" cy="191" r="1.45" fill="#fff" stroke="#2F4B8C" stroke-width="0.8"/>
<circle cx="236.1" cy="197" r="1.45" fill="#fff" stroke="#2F4B8C" stroke-width="0.8"/>
<circle cx="247.1" cy="199.6" r="1.45" fill="#fff" stroke="#2F4B8C" stroke-width="0.8"/>
<circle cx="258.1" cy="214" r="1.45" fill="#fff" stroke="#2F4B8C" stroke-width="0.8"/>
<circle cx="269.4" cy="194.1" r="1.45" fill="#fff" stroke="#2F4B8C" stroke-width="0.8"/>
<circle cx="278.15" cy="196.8" r="1.45" fill="#fff" stroke="#2F4B8C" stroke-width="0.8"/>
<circle cx="295.7" cy="202.3" r="1.45" fill="#fff" stroke="#2F4B8C" stroke-width="0.8"/>
<circle cx="313.6" cy="189" r="1.45" fill="#fff" stroke="#2F4B8C" stroke-width="0.8"/>
<circle cx="327.6" cy="180.9" r="1.45" fill="#fff" stroke="#2F4B8C" stroke-width="0.8"/>
<line x1="236.1" y1="205.8" x2="236.1" y2="212.4" stroke="#AE1A40" stroke-width="0.75" />
<line x1="234.3" y1="205.8" x2="237.9" y2="205.8" stroke="#AE1A40" stroke-width="0.8" />
<line x1="234.3" y1="212.4" x2="237.9" y2="212.4" stroke="#AE1A40" stroke-width="0.8" />
<line x1="247.1" y1="205.8" x2="247.1" y2="214.6" stroke="#AE1A40" stroke-width="0.75" />
<line x1="245.3" y1="205.8" x2="248.9" y2="205.8" stroke="#AE1A40" stroke-width="0.8" />
<line x1="245.3" y1="214.6" x2="248.9" y2="214.6" stroke="#AE1A40" stroke-width="0.8" />
<line x1="258.1" y1="204.8" x2="258.1" y2="214" stroke="#AE1A40" stroke-width="0.75" />
<line x1="256.3" y1="204.8" x2="259.9" y2="204.8" stroke="#AE1A40" stroke-width="0.8" />
<line x1="256.3" y1="214" x2="259.9" y2="214" stroke="#AE1A40" stroke-width="0.8" />
<line x1="269.4" y1="205.5" x2="269.4" y2="213.9" stroke="#AE1A40" stroke-width="0.75" />
<line x1="267.6" y1="205.5" x2="271.2" y2="205.5" stroke="#AE1A40" stroke-width="0.8" />
<line x1="267.6" y1="213.9" x2="271.2" y2="213.9" stroke="#AE1A40" stroke-width="0.8" />
<line x1="278.15" y1="178.3" x2="278.15" y2="214.3" stroke="#AE1A40" stroke-width="0.75" />
<line x1="276.35" y1="178.3" x2="279.95" y2="178.3" stroke="#AE1A40" stroke-width="0.8" />
<line x1="276.35" y1="214.3" x2="279.95" y2="214.3" stroke="#AE1A40" stroke-width="0.8" />
<polyline points="225.1,191 236.1,209.1 247.1,210.2 258.1,209.4 269.4,209.7 278.15,196.3" fill="none" stroke="#A5082E" stroke-width="1.15" stroke-linejoin="round"/>
<circle cx="225.1" cy="191" r="1.55" fill="#A5082E"/>
<circle cx="236.1" cy="209.1" r="1.55" fill="#A5082E"/>
<circle cx="247.1" cy="210.2" r="1.55" fill="#A5082E"/>
<circle cx="258.1" cy="209.4" r="1.55" fill="#A5082E"/>
<circle cx="269.4" cy="209.7" r="1.55" fill="#A5082E"/>
<circle cx="278.15" cy="196.3" r="1.55" fill="#A5082E"/>
<text transform="translate(201.9,183) rotate(-90)" x="0" y="0" font-size="8.7" text-anchor="middle" textLength="67.7" lengthAdjust="spacingAndGlyphs" fill="#111" stroke="#111" stroke-width="0.1">Lymphocyte (% of T0)</text>
<text x="317.3" y="212.2" font-size="6.0" text-anchor="middle" textLength="18.1" lengthAdjust="spacingAndGlyphs" fill="#1a1a1a" stroke="#1a1a1a" stroke-width="0.12">pvl: 0.3</text>
<line x1="240.4" y1="150.3" x2="248.4" y2="150.3" stroke="#A5082E" stroke-width="1.0" />
<circle cx="244.4" cy="150.3" r="1.35" fill="#A5082E"/>
<line x1="240.4" y1="161.3" x2="248.4" y2="161.3" stroke="#2F4B8C" stroke-width="1.0" />
<circle cx="244.4" cy="161.3" r="1.3" fill="#fff" stroke="#2F4B8C" stroke-width="0.75"/>
<text x="251.8" y="152.4" font-size="6.1" text-anchor="start" font-weight="normal" fill="#1a1a1a" textLength="13.4" lengthAdjust="spacingAndGlyphs">LDSA</text>
<text x="251.8" y="163.4" font-size="6.1" text-anchor="start" font-weight="normal" fill="#1a1a1a" textLength="33.9" lengthAdjust="spacingAndGlyphs">LDSA + 5C12</text>
<text x="357.2" y="141.4" font-size="12.6" text-anchor="start" font-weight="bold" fill="#000" stroke="#000" stroke-width="0.45" stroke-linejoin="round">F</text>
<line x1="404.4" y1="147.4" x2="404.4" y2="163.5" stroke="#111" stroke-width="1.15" />
<line x1="401.1" y1="163.2" x2="407" y2="163.2" stroke="#111" stroke-width="1.0" />
<line x1="404.4" y1="168.4" x2="404.4" y2="218.9" stroke="#111" stroke-width="1.2" />
<line x1="401" y1="168.7" x2="407" y2="168.7" stroke="#111" stroke-width="1.0" />
<line x1="401.1" y1="150.55" x2="404.4" y2="150.55" stroke="#111" stroke-width="1.0" />
<text x="397.5" y="153.05" font-size="6.55" text-anchor="end" font-weight="normal" fill="#111" >1000</text>
<line x1="401.1" y1="156.7" x2="404.4" y2="156.7" stroke="#111" stroke-width="1.0" />
<text x="397.5" y="159.2" font-size="6.55" text-anchor="end" font-weight="normal" fill="#111" >800</text>
<line x1="401.1" y1="162.75" x2="404.4" y2="162.75" stroke="#111" stroke-width="1.0" />
<text x="397.5" y="165.25" font-size="6.55" text-anchor="end" font-weight="normal" fill="#111" >600</text>
<line x1="401.1" y1="168.9" x2="404.4" y2="168.9" stroke="#111" stroke-width="1.0" />
<text x="397.5" y="171.4" font-size="6.55" text-anchor="end" font-weight="normal" fill="#111" >200</text>
<line x1="401.1" y1="181.1" x2="404.4" y2="181.1" stroke="#111" stroke-width="1.0" />
<text x="397.5" y="183.6" font-size="6.55" text-anchor="end" font-weight="normal" fill="#111" >150</text>
<line x1="401.1" y1="193.5" x2="404.4" y2="193.5" stroke="#111" stroke-width="1.0" />
<text x="397.5" y="196" font-size="6.55" text-anchor="end" font-weight="normal" fill="#111" >100</text>
<line x1="401.1" y1="205.9" x2="404.4" y2="205.9" stroke="#111" stroke-width="1.0" />
<text x="397.5" y="208.4" font-size="6.55" text-anchor="end" font-weight="normal" fill="#111" >50</text>
<line x1="401.1" y1="218.4" x2="404.4" y2="218.4" stroke="#111" stroke-width="1.0" />
<text x="397.5" y="220.9" font-size="6.55" text-anchor="end" font-weight="normal" fill="#111" >0</text>
<line x1="403.85" y1="218.4" x2="449" y2="218.4" stroke="#111" stroke-width="1.2" />
<line x1="404.4" y1="218.4" x2="404.4" y2="221.6" stroke="#111" stroke-width="1.1" />
<line x1="415.4" y1="218.4" x2="415.4" y2="221.6" stroke="#111" stroke-width="1.1" />
<line x1="426.3" y1="218.4" x2="426.3" y2="221.6" stroke="#111" stroke-width="1.1" />
<line x1="437.35" y1="218.4" x2="437.35" y2="221.6" stroke="#111" stroke-width="1.1" />
<line x1="448.5" y1="215.2" x2="448.5" y2="221.6" stroke="#111" stroke-width="1.1" />
<line x1="456.45" y1="218.4" x2="492.45" y2="218.4" stroke="#111" stroke-width="1.2" />
<line x1="456.95" y1="215.2" x2="456.95" y2="221.6" stroke="#111" stroke-width="1.1" />
<line x1="474.6" y1="218.4" x2="474.6" y2="221.6" stroke="#111" stroke-width="1.1" />
<line x1="491.95" y1="215.2" x2="491.95" y2="221.6" stroke="#111" stroke-width="1.1" />
<line x1="496.4" y1="218.4" x2="509.1" y2="218.4" stroke="#111" stroke-width="1.2" />
<line x1="496.9" y1="215.2" x2="496.9" y2="221.6" stroke="#111" stroke-width="1.1" />
<line x1="505.8" y1="218.4" x2="505.8" y2="221.6" stroke="#111" stroke-width="1.1" />
<text x="404.4" y="230.6" font-size="6.9" text-anchor="middle" font-weight="normal" fill="#111" >0</text>
<text x="415.4" y="230.6" font-size="6.9" text-anchor="middle" font-weight="normal" fill="#111" >2</text>
<text x="426.3" y="230.6" font-size="6.9" text-anchor="middle" font-weight="normal" fill="#111" >4</text>
<text x="437.35" y="230.6" font-size="6.9" text-anchor="middle" font-weight="normal" fill="#111" >6</text>
<text x="448.5" y="230.6" font-size="6.9" text-anchor="middle" font-weight="normal" fill="#111" >8</text>
<text x="457.15" y="230.6" font-size="6.9" text-anchor="middle" font-weight="normal" fill="#111" >24</text>
<text x="474.6" y="230.6" font-size="6.9" text-anchor="middle" font-weight="normal" fill="#111" >48</text>
<text x="491.95" y="230.6" font-size="6.9" text-anchor="middle" font-weight="normal" fill="#111" >72</text>
<text x="506" y="230.6" font-size="6.9" text-anchor="middle" font-weight="normal" fill="#111" >168</text>
<text transform="translate(456.9,243.5)" x="0" y="0" font-size="8.7" text-anchor="middle" textLength="31.7" lengthAdjust="spacingAndGlyphs" fill="#111" stroke="#111" stroke-width="0.2">Time (hrs)</text>
<line x1="415.4" y1="195.9" x2="415.4" y2="202.5" stroke="#2F4B8C" stroke-width="0.75" />
<line x1="413.6" y1="195.9" x2="417.2" y2="195.9" stroke="#2F4B8C" stroke-width="0.8" />
<line x1="413.6" y1="202.5" x2="417.2" y2="202.5" stroke="#2F4B8C" stroke-width="0.8" />
<line x1="426.3" y1="206.9" x2="426.3" y2="211.3" stroke="#2F4B8C" stroke-width="0.75" />
<line x1="424.5" y1="206.9" x2="428.1" y2="206.9" stroke="#2F4B8C" stroke-width="0.8" />
<line x1="424.5" y1="211.3" x2="428.1" y2="211.3" stroke="#2F4B8C" stroke-width="0.8" />
<line x1="437.35" y1="209.4" x2="437.35" y2="212.4" stroke="#2F4B8C" stroke-width="0.75" />
<line x1="435.55" y1="209.4" x2="439.15" y2="209.4" stroke="#2F4B8C" stroke-width="0.8" />
<line x1="435.55" y1="212.4" x2="439.15" y2="212.4" stroke="#2F4B8C" stroke-width="0.8" />
<line x1="448.5" y1="202.2" x2="448.5" y2="211.6" stroke="#2F4B8C" stroke-width="0.75" />
<line x1="446.7" y1="202.2" x2="450.3" y2="202.2" stroke="#2F4B8C" stroke-width="0.8" />
<line x1="446.7" y1="211.6" x2="450.3" y2="211.6" stroke="#2F4B8C" stroke-width="0.8" />
<line x1="456.95" y1="195.2" x2="456.95" y2="206.2" stroke="#2F4B8C" stroke-width="0.75" />
<line x1="455.15" y1="195.2" x2="458.75" y2="195.2" stroke="#2F4B8C" stroke-width="0.8" />
<line x1="455.15" y1="206.2" x2="458.75" y2="206.2" stroke="#2F4B8C" stroke-width="0.8" />
<line x1="474.6" y1="193.6" x2="474.6" y2="200.4" stroke="#2F4B8C" stroke-width="0.75" />
<line x1="472.8" y1="193.6" x2="476.4" y2="193.6" stroke="#2F4B8C" stroke-width="0.8" />
<line x1="472.8" y1="200.4" x2="476.4" y2="200.4" stroke="#2F4B8C" stroke-width="0.8" />
<line x1="491.95" y1="197.4" x2="491.95" y2="205.4" stroke="#2F4B8C" stroke-width="0.75" />
<line x1="490.15" y1="197.4" x2="493.75" y2="197.4" stroke="#2F4B8C" stroke-width="0.8" />
<line x1="490.15" y1="205.4" x2="493.75" y2="205.4" stroke="#2F4B8C" stroke-width="0.8" />
<line x1="505.8" y1="183.8" x2="505.8" y2="196.4" stroke="#2F4B8C" stroke-width="0.75" />
<line x1="504" y1="183.8" x2="507.6" y2="183.8" stroke="#2F4B8C" stroke-width="0.8" />
<line x1="504" y1="196.4" x2="507.6" y2="196.4" stroke="#2F4B8C" stroke-width="0.8" />
<polyline points="404.4,193.5 415.4,199.2 426.3,209.1 437.35,210.9 448.5,206.9 456.95,200.7 474.6,197 491.95,201.4 505.8,190.1" fill="none" stroke="#2F4B8C" stroke-width="1.15" stroke-linejoin="round"/>
<circle cx="404.4" cy="193.5" r="1.45" fill="#fff" stroke="#2F4B8C" stroke-width="0.8"/>
<circle cx="415.4" cy="199.2" r="1.45" fill="#fff" stroke="#2F4B8C" stroke-width="0.8"/>
<circle cx="426.3" cy="209.1" r="1.45" fill="#fff" stroke="#2F4B8C" stroke-width="0.8"/>
<circle cx="437.35" cy="210.9" r="1.45" fill="#fff" stroke="#2F4B8C" stroke-width="0.8"/>
<circle cx="448.5" cy="206.9" r="1.45" fill="#fff" stroke="#2F4B8C" stroke-width="0.8"/>
<circle cx="456.95" cy="200.7" r="1.45" fill="#fff" stroke="#2F4B8C" stroke-width="0.8"/>
<circle cx="474.6" cy="197" r="1.45" fill="#fff" stroke="#2F4B8C" stroke-width="0.8"/>
<circle cx="491.95" cy="201.4" r="1.45" fill="#fff" stroke="#2F4B8C" stroke-width="0.8"/>
<circle cx="505.8" cy="190.1" r="1.45" fill="#fff" stroke="#2F4B8C" stroke-width="0.8"/>
<line x1="415.4" y1="193.4" x2="415.4" y2="200.6" stroke="#AE1A40" stroke-width="0.75" />
<line x1="413.6" y1="193.4" x2="417.2" y2="193.4" stroke="#AE1A40" stroke-width="0.8" />
<line x1="413.6" y1="200.6" x2="417.2" y2="200.6" stroke="#AE1A40" stroke-width="0.8" />
<line x1="426.3" y1="173" x2="426.3" y2="184.4" stroke="#AE1A40" stroke-width="0.75" />
<line x1="424.5" y1="173" x2="428.1" y2="173" stroke="#AE1A40" stroke-width="0.8" />
<line x1="424.5" y1="184.4" x2="428.1" y2="184.4" stroke="#AE1A40" stroke-width="0.8" />
<line x1="437.35" y1="179.2" x2="437.35" y2="203.2" stroke="#AE1A40" stroke-width="0.75" />
<line x1="435.55" y1="179.2" x2="439.15" y2="179.2" stroke="#AE1A40" stroke-width="0.8" />
<line x1="435.55" y1="203.2" x2="439.15" y2="203.2" stroke="#AE1A40" stroke-width="0.8" />
<line x1="448.5" y1="169.4" x2="448.5" y2="195.8" stroke="#AE1A40" stroke-width="0.75" />
<line x1="446.7" y1="169.4" x2="450.3" y2="169.4" stroke="#AE1A40" stroke-width="0.8" />
<line x1="446.7" y1="195.8" x2="450.3" y2="195.8" stroke="#AE1A40" stroke-width="0.8" />
<line x1="456.95" y1="156.4" x2="456.95" y2="166.8" stroke="#AE1A40" stroke-width="0.75" />
<line x1="455.15" y1="156.4" x2="458.75" y2="156.4" stroke="#AE1A40" stroke-width="0.8" />
<line x1="455.15" y1="166.8" x2="458.75" y2="166.8" stroke="#AE1A40" stroke-width="0.8" />
<polyline points="404.4,193.5 415.4,197 426.3,178.7 437.35,191.2 448.5,182.6 456.95,161.6" fill="none" stroke="#A5082E" stroke-width="1.15" stroke-linejoin="round"/>
<circle cx="404.4" cy="193.5" r="1.55" fill="#A5082E"/>
<circle cx="415.4" cy="197" r="1.55" fill="#A5082E"/>
<circle cx="426.3" cy="178.7" r="1.55" fill="#A5082E"/>
<circle cx="437.35" cy="191.2" r="1.55" fill="#A5082E"/>
<circle cx="448.5" cy="182.6" r="1.55" fill="#A5082E"/>
<circle cx="456.95" cy="161.6" r="1.55" fill="#A5082E"/>
<text transform="translate(377.5,182.1) rotate(-90)" x="0" y="0" font-size="8.7" text-anchor="middle" textLength="63.8" lengthAdjust="spacingAndGlyphs" fill="#111" stroke="#111" stroke-width="0.1">Monocytes (% of T0)</text>
<text x="426.42" y="172.5" font-size="5.8" text-anchor="middle" font-weight="bold" fill="#000" letter-spacing="0.45" stroke="#000" stroke-width="0.15">***</text>
<text x="437.22" y="179.5" font-size="5.8" text-anchor="middle" font-weight="bold" fill="#000" letter-spacing="0.45" stroke="#000" stroke-width="0.15">*</text>
<text x="448.32" y="169.1" font-size="5.8" text-anchor="middle" font-weight="bold" fill="#000" letter-spacing="0.45" stroke="#000" stroke-width="0.15">***</text>
<text x="491" y="213.1" font-size="6.0" text-anchor="middle" textLength="26.9" lengthAdjust="spacingAndGlyphs" fill="#1a1a1a" stroke="#1a1a1a" stroke-width="0.12">pvl: 1.6e-5</text>
<text x="356.8" y="272.1" font-size="12.6" text-anchor="start" font-weight="bold" fill="#000" stroke="#000" stroke-width="0.45" stroke-linejoin="round">H</text>
<line x1="404.3" y1="288.4" x2="404.3" y2="359.9" stroke="#111" stroke-width="1.15" />
<line x1="401" y1="290.8" x2="404.3" y2="290.8" stroke="#111" stroke-width="1.0" />
<text x="397.4" y="293.3" font-size="6.55" text-anchor="end" font-weight="normal" fill="#111" >1200</text>
<line x1="401" y1="307.9" x2="404.3" y2="307.9" stroke="#111" stroke-width="1.0" />
<text x="397.4" y="310.4" font-size="6.55" text-anchor="end" font-weight="normal" fill="#111" >900</text>
<line x1="401" y1="325.05" x2="404.3" y2="325.05" stroke="#111" stroke-width="1.0" />
<text x="397.4" y="327.55" font-size="6.55" text-anchor="end" font-weight="normal" fill="#111" >600</text>
<line x1="401" y1="342.2" x2="404.3" y2="342.2" stroke="#111" stroke-width="1.0" />
<text x="397.4" y="344.7" font-size="6.55" text-anchor="end" font-weight="normal" fill="#111" >300</text>
<line x1="401" y1="359.3" x2="404.3" y2="359.3" stroke="#111" stroke-width="1.0" />
<text x="397.4" y="361.8" font-size="6.55" text-anchor="end" font-weight="normal" fill="#111" >0</text>
<line x1="403.75" y1="359.3" x2="449.1" y2="359.3" stroke="#111" stroke-width="1.2" />
<line x1="406.7" y1="359.3" x2="406.7" y2="362.5" stroke="#111" stroke-width="1.1" />
<line x1="417.25" y1="359.3" x2="417.25" y2="362.5" stroke="#111" stroke-width="1.1" />
<line x1="427.55" y1="359.3" x2="427.55" y2="362.5" stroke="#111" stroke-width="1.1" />
<line x1="438.2" y1="359.3" x2="438.2" y2="362.5" stroke="#111" stroke-width="1.1" />
<line x1="448.6" y1="356.1" x2="448.6" y2="362.5" stroke="#111" stroke-width="1.1" />
<line x1="456.4" y1="359.3" x2="492.7" y2="359.3" stroke="#111" stroke-width="1.2" />
<line x1="456.9" y1="356.1" x2="456.9" y2="362.5" stroke="#111" stroke-width="1.1" />
<line x1="474.7" y1="359.3" x2="474.7" y2="362.5" stroke="#111" stroke-width="1.1" />
<line x1="492.2" y1="356.1" x2="492.2" y2="362.5" stroke="#111" stroke-width="1.1" />
<line x1="496.7" y1="359.3" x2="509.6" y2="359.3" stroke="#111" stroke-width="1.2" />
<line x1="497.2" y1="356.1" x2="497.2" y2="362.5" stroke="#111" stroke-width="1.1" />
<line x1="506.3" y1="359.3" x2="506.3" y2="362.5" stroke="#111" stroke-width="1.1" />
<text x="406.7" y="371.5" font-size="6.9" text-anchor="middle" font-weight="normal" fill="#111" >0</text>
<text x="417.25" y="371.5" font-size="6.9" text-anchor="middle" font-weight="normal" fill="#111" >2</text>
<text x="427.55" y="371.5" font-size="6.9" text-anchor="middle" font-weight="normal" fill="#111" >4</text>
<text x="438.2" y="371.5" font-size="6.9" text-anchor="middle" font-weight="normal" fill="#111" >6</text>
<text x="448.6" y="371.5" font-size="6.9" text-anchor="middle" font-weight="normal" fill="#111" >8</text>
<text x="457.1" y="371.5" font-size="6.9" text-anchor="middle" font-weight="normal" fill="#111" >24</text>
<text x="474.7" y="371.5" font-size="6.9" text-anchor="middle" font-weight="normal" fill="#111" >48</text>
<text x="492.2" y="371.5" font-size="6.9" text-anchor="middle" font-weight="normal" fill="#111" >72</text>
<text x="506.5" y="371.5" font-size="6.9" text-anchor="middle" font-weight="normal" fill="#111" >168</text>
<text transform="translate(456.9,384.2)" x="0" y="0" font-size="8.7" text-anchor="middle" textLength="31.7" lengthAdjust="spacingAndGlyphs" fill="#111" stroke="#111" stroke-width="0.2">Time (hrs)</text>
<line x1="417.25" y1="344.2" x2="417.25" y2="347.4" stroke="#2F4B8C" stroke-width="0.75" />
<line x1="415.45" y1="344.2" x2="419.05" y2="344.2" stroke="#2F4B8C" stroke-width="0.8" />
<line x1="415.45" y1="347.4" x2="419.05" y2="347.4" stroke="#2F4B8C" stroke-width="0.8" />
<polyline points="406.7,354.7 417.25,345.8 427.55,350.2 438.2,351.3 448.6,352.2 456.9,352.9 474.7,354.4 492.2,354.2 506.3,354.2" fill="none" stroke="#2F4B8C" stroke-width="1.15" stroke-linejoin="round"/>
<circle cx="406.7" cy="354.7" r="1.7" fill="#fff" stroke="#2F4B8C" stroke-width="0.8"/>
<circle cx="417.25" cy="345.8" r="1.7" fill="#fff" stroke="#2F4B8C" stroke-width="0.8"/>
<circle cx="427.55" cy="350.2" r="1.7" fill="#fff" stroke="#2F4B8C" stroke-width="0.8"/>
<circle cx="438.2" cy="351.3" r="1.7" fill="#fff" stroke="#2F4B8C" stroke-width="0.8"/>
<circle cx="448.6" cy="352.2" r="1.7" fill="#fff" stroke="#2F4B8C" stroke-width="0.8"/>
<circle cx="456.9" cy="352.9" r="1.7" fill="#fff" stroke="#2F4B8C" stroke-width="0.8"/>
<circle cx="474.7" cy="354.4" r="1.7" fill="#fff" stroke="#2F4B8C" stroke-width="0.8"/>
<circle cx="492.2" cy="354.2" r="1.7" fill="#fff" stroke="#2F4B8C" stroke-width="0.8"/>
<circle cx="506.3" cy="354.2" r="1.7" fill="#fff" stroke="#2F4B8C" stroke-width="0.8"/>
<line x1="417.25" y1="317.4" x2="417.25" y2="325.6" stroke="#AE1A40" stroke-width="0.75" />
<line x1="415.45" y1="317.4" x2="419.05" y2="317.4" stroke="#AE1A40" stroke-width="0.8" />
<line x1="415.45" y1="325.6" x2="419.05" y2="325.6" stroke="#AE1A40" stroke-width="0.8" />
<line x1="427.55" y1="305" x2="427.55" y2="322.8" stroke="#AE1A40" stroke-width="0.75" />
<line x1="425.75" y1="305" x2="429.35" y2="305" stroke="#AE1A40" stroke-width="0.8" />
<line x1="425.75" y1="322.8" x2="429.35" y2="322.8" stroke="#AE1A40" stroke-width="0.8" />
<line x1="448.6" y1="324.4" x2="448.6" y2="329.6" stroke="#AE1A40" stroke-width="0.75" />
<line x1="446.8" y1="324.4" x2="450.4" y2="324.4" stroke="#AE1A40" stroke-width="0.8" />
<line x1="446.8" y1="329.6" x2="450.4" y2="329.6" stroke="#AE1A40" stroke-width="0.8" />
<polyline points="406.7,359.3 417.25,321.5 427.55,313.9 438.2,330.6 448.6,327 456.9,330.1" fill="none" stroke="#A5082E" stroke-width="1.15" stroke-linejoin="round"/>
<circle cx="406.7" cy="359.3" r="1.55" fill="#A5082E"/>
<circle cx="417.25" cy="321.5" r="1.55" fill="#A5082E"/>
<circle cx="427.55" cy="313.9" r="1.55" fill="#A5082E"/>
<circle cx="438.2" cy="330.6" r="1.55" fill="#A5082E"/>
<circle cx="448.6" cy="327" r="1.55" fill="#A5082E"/>
<circle cx="456.9" cy="330.1" r="1.55" fill="#A5082E"/>
<text transform="translate(376.8,323.5) rotate(-90)" x="0" y="0" font-size="8.7" text-anchor="middle" textLength="44.1" lengthAdjust="spacingAndGlyphs" fill="#111" stroke="#111" stroke-width="0.1">MPO (mU/ml)</text>
<text x="417.52" y="345.4" font-size="5.8" text-anchor="middle" font-weight="bold" fill="#000" letter-spacing="0.45" stroke="#000" stroke-width="0.15">***</text>
<text x="427.72" y="348.7" font-size="5.8" text-anchor="middle" font-weight="bold" fill="#000" letter-spacing="0.45" stroke="#000" stroke-width="0.15">***</text>
<text x="438.12" y="350.5" font-size="5.8" text-anchor="middle" font-weight="bold" fill="#000" letter-spacing="0.45" stroke="#000" stroke-width="0.15">***</text>
<text x="448.52" y="351.9" font-size="5.8" text-anchor="middle" font-weight="bold" fill="#000" letter-spacing="0.45" stroke="#000" stroke-width="0.15">***</text>
<text x="491.3" y="348.7" font-size="6.0" text-anchor="middle" textLength="25.3" lengthAdjust="spacingAndGlyphs" fill="#1a1a1a" stroke="#1a1a1a" stroke-width="0.12">pvl: 9e-41</text>
<text x="7.9" y="272.2" font-size="12.6" text-anchor="start" font-weight="bold" fill="#000" stroke="#000" stroke-width="0.45" stroke-linejoin="round">G</text>
<text transform="translate(87.8,282.45)" font-size="8.7" text-anchor="middle" textLength="44.2" lengthAdjust="spacingAndGlyphs" fill="#111" stroke="#111" stroke-width="0.15">Neutrophils</text>
<text transform="translate(191.2,282.45)" font-size="8.7" text-anchor="middle" textLength="93.9" lengthAdjust="spacingAndGlyphs" fill="#111" stroke="#111" stroke-width="0.15">Monocyte/macrophages</text>
<text transform="translate(294.6,282.45)" font-size="8.7" text-anchor="middle" textLength="29.6" lengthAdjust="spacingAndGlyphs" fill="#111" stroke="#111" stroke-width="0.15">Merged</text>
<text transform="translate(28.4,354.2) rotate(-90)" font-size="8.7" text-anchor="middle" textLength="19.8" lengthAdjust="spacingAndGlyphs" fill="#111" stroke="#111" stroke-width="0.15">LDSA</text>
<text transform="translate(28.4,440.4) rotate(-90)" font-size="8.7" text-anchor="middle" textLength="51.8" lengthAdjust="spacingAndGlyphs" fill="#111" stroke="#111" stroke-width="0.15">LDSA + 5C12</text>
<defs><filter id="sb" x="-5%" y="-5%" width="110%" height="110%"><feGaussianBlur stdDeviation="0.45"/></filter><filter id="hb" x="-20%" y="-20%" width="140%" height="140%"><feGaussianBlur stdDeviation="2.6"/></filter></defs>
<svg x="33.6" y="287.5" width="100.3" height="99.6" viewBox="33.6 287.5 100.3 99.6" overflow="hidden">
<rect x="33.6" y="287.5" width="100.3" height="99.6" fill="#030303"/>
<g filter="url(#sb)"><path d="M90.7 295.1h.01M114.1 326.4h.01M88.7 365.7h.01M74.5 314.4h.01M96.1 340.4h.01M59.4 297.8h.01M47.3 313.4h.01M71.7 314.5h.01M111.1 313.9h.01M104.1 339.9h.01M75.3 329.9h.01M92.6 378.4h.01M100.3 344.1h.01M99.8 343.2h.01M63.6 305.3h.01M79.6 311.4h.01M49.4 294.2h.01M51.9 321.3h.01M51.9 297.8h.01M93.2 352.3h.01M51.8 319.5h.01M77.2 320.4h.01M102.1 375.7h.01M73.6 321.3h.01M110.3 343.6h.01M129.7 317.2h.01M99.3 349.6h.01M112.3 377.1h.01M52.3 312.6h.01M63.8 345h.01M50.3 317.8h.01M125.6 300.2h.01M97.5 340.4h.01M83.6 300.6h.01M115 299.8h.01M91.1 336.1h.01M71 299.3h.01M67 383h.01M102.8 315.3h.01M60.6 298.1h.01M84 375.4h.01M105.8 336.2h.01M79.1 300.3h.01M81.7 347.1h.01M73.2 308.8h.01M66.5 377h.01M81 317.8h.01M41.8 301.9h.01M45.9 369.3h.01M69.6 344.4h.01M54.7 317.6h.01M74.1 319.8h.01M51 315.7h.01M110.4 372.6h.01M62 384.3h.01M85.2 300.6h.01M83.4 355.4h.01M90 339.6h.01M124.9 353.1h.01M83.5 332.4h.01M83 295.8h.01M58 294.7h.01M89.5 355.3h.01M43.3 360.9h.01M42.3 297.3h.01M60.8 346.5h.01M76.4 347.8h.01M98.6 336.9h.01M117.9 349.6h.01M46.8 379.5h.01M68.1 375.9h.01M57 330.5h.01M101.2 345.1h.01M40.4 357.9h.01M126.2 301.4h.01M45.2 325.7h.01M93.2 338.3h.01M114.7 320.1h.01M49.3 380.6h.01M45.2 333.6h.01M89.2 357.6h.01M81.6 323.2h.01M50.4 330.2h.01M116.6 293.1h.01M75.1 339.2h.01M107.8 365.2h.01M47.2 368.8h.01M98.2 350.1h.01M105.3 304.8h.01M100.9 350.1h.01M47.3 318.5h.01M103.9 343.8h.01M52.6 297.9h.01M104.8 335.9h.01M110.8 333.9h.01M89.5 357.6h.01M36.5 351.2h.01M45.9 331.8h.01M71.7 337.7h.01M58.1 338.6h.01M114.6 365.9h.01M51.3 367.7h.01M106.9 324.6h.01M41.6 311.8h.01M122.5 297.2h.01M49.3 300.6h.01M42.1 378.6h.01M96.8 300.7h.01M112.8 320.9h.01M62.7 385.2h.01M79 382.9h.01M119.5 313.3h.01M59.1 379.7h.01M83 342.2h.01M65.3 341.7h.01M52.7 326.1h.01M52.2 373.6h.01M61.6 385.3h.01M36.5 293.9h.01M72 324h.01M73 376h.01M90.6 334.2h.01M74.5 328.8h.01M70.7 343.7h.01M111.2 356.9h.01M129.6 297h.01M93.5 339.8h.01M87.5 346.4h.01M69.2 305.5h.01M74.9 339h.01M104.1 337.9h.01M81.4 375.1h.01M56.4 355.3h.01M62.8 308.8h.01M81.7 379h.01M62.4 313.3h.01M74.1 334.9h.01M73.6 380.2h.01M70.2 338h.01M47.7 319.2h.01M86.2 297.2h.01M130.1 304.6h.01M99.1 342.1h.01M60.3 291.1h.01M102.9 339.2h.01M129 309.5h.01M77 336.1h.01M35 301.6h.01M83 346.5h.01M67.4 312.9h.01M113.7 356.2h.01M85.2 383.6h.01M49.5 329.5h.01M78.9 293.3h.01M77.8 376.5h.01M82 384.6h.01M77.3 317.1h.01M122.9 294.6h.01M100.4 381.3h.01M56.3 299.6h.01M60.5 353h.01M102.3 338h.01M102.5 347.9h.01M36.9 327.2h.01M43.1 384.4h.01M102.7 346.2h.01M48.4 321.7h.01M61.9 347h.01M115.2 372.9h.01M110.7 334.5h.01" stroke="#7a7a7a" stroke-width="0.9" stroke-linecap="round" fill="none"/><path d="M68.8 301.4h.01M78.8 321.3h.01M85.5 373.5h.01M102.1 340.2h.01M88 342.1h.01M73.1 378.6h.01M64.3 338.9h.01M68 345.3h.01M106 334.3h.01M112.6 353.4h.01M47 359.4h.01M55.3 292.9h.01M50.7 302.7h.01M38 300h.01M72.2 322.9h.01M46.3 319.5h.01M80.7 326.8h.01M68.2 345.6h.01M126.3 304h.01M69.8 306.6h.01M105 344.4h.01M81.5 374.8h.01M108 342h.01M61.2 302.1h.01M114.9 350.9h.01M71.1 348.7h.01M54.4 296h.01M70.6 310.7h.01M109.4 300.7h.01M38.2 353.6h.01M95.6 337.1h.01M109.8 340h.01M79.2 330.5h.01M94.9 301.2h.01M39.2 296.9h.01M63.7 343.6h.01M51.6 378.7h.01M53.3 302h.01M82.2 351.1h.01M48.6 358.7h.01M69.6 338.5h.01M48.3 378.2h.01M54.5 336.8h.01M49.9 368.8h.01M61.8 343.8h.01M60.8 299.7h.01M97.9 351.6h.01M93.9 380.3h.01M74.4 295.9h.01M92.7 338.1h.01M36.6 305h.01M42.4 293.6h.01M63.1 347.4h.01M95.7 347h.01M75.1 302h.01M89.5 357.9h.01M124.5 321.1h.01M113.3 351.5h.01M53.6 295.8h.01M132.6 288.2h.01M53.4 335.8h.01M45.6 362.3h.01M53.5 336.6h.01M49.5 296.6h.01M75.2 370.6h.01M113.5 353.6h.01M50.1 329.1h.01M117.9 293.5h.01M122 295h.01M49.2 358.9h.01M101.2 297.9h.01M84.8 379.8h.01M60.2 347.9h.01M123.8 302.2h.01M75.9 316.7h.01M71.7 375.3h.01M88.6 380.9h.01M47 294.4h.01M60.4 309h.01M77.5 331h.01M97.5 345h.01M77.2 308.9h.01M53.2 295h.01M72.1 332h.01M112.2 380.7h.01M87.5 326.3h.01M100.5 306.7h.01M115.7 380.3h.01M109.9 292.1h.01M49.7 336.7h.01M53.5 301.7h.01M112 384.6h.01M51 379.2h.01M74.9 317.9h.01M38.3 305.6h.01M117.2 351.8h.01M79.8 317.7h.01M67.4 357h.01M75.1 311.6h.01M74.7 347h.01M71.3 309.3h.01M63 357.8h.01M72.9 335.6h.01M112.5 357.7h.01M122.2 304.3h.01M98.5 372.7h.01M49.2 363.3h.01M98.5 374.4h.01M77.6 308.8h.01M75.6 326h.01M106.8 303.7h.01M129.3 304.7h.01M38.5 302.6h.01M72.5 349.5h.01M125.6 295.6h.01M68.4 300.9h.01M85.5 354.4h.01M76.9 319.1h.01M73.2 295.4h.01M57 310.4h.01M72.8 334.5h.01M75.4 337.3h.01M41 296.4h.01M112.5 362.2h.01M53 297.2h.01M73.3 318.6h.01M97.9 300h.01M96.7 342.2h.01M83.2 371.1h.01M123.5 355.3h.01M106.9 371.5h.01M50.4 329.1h.01M64.4 304.1h.01M83.4 329.7h.01M116.4 358.8h.01M51 373.3h.01M34.6 319h.01M54 381.6h.01M38.5 373.2h.01M93.1 340.3h.01M71.7 323.7h.01M112.9 318.8h.01M36.3 296.6h.01M75.8 329.3h.01M54.4 375.4h.01M62 306.2h.01M115.1 360.6h.01M52.4 356.7h.01M37.6 298.1h.01M80.9 328.3h.01" stroke="#c8c8c8" stroke-width="1.3" stroke-linecap="round" fill="none"/><path d="M40.4 319.2h.01M116.7 357.1h.01M79 311.6h.01M88.5 337.6h.01M115.7 368.1h.01M71.2 331.2h.01M66.3 296.1h.01M48 371.1h.01M64.6 309.7h.01M127.7 312.8h.01M45.8 295.1h.01M68.4 348.6h.01M85.1 357h.01M47.7 377.2h.01M76.4 304.4h.01M128.9 356.8h.01M51 298.8h.01M83.8 338.3h.01M49.6 361h.01M108.8 361.2h.01M118.6 296.7h.01M81.1 345.3h.01M78.9 326.5h.01M100.1 349h.01M111.4 314.1h.01M80.2 384h.01M83.7 334h.01M59.7 310.3h.01M52.3 289.4h.01M72.6 302.3h.01M73.1 330.4h.01M54.4 377.3h.01M95.3 331h.01M122.1 291.5h.01M64.7 347.6h.01M45.7 361.4h.01M130.8 315.6h.01M49 370.9h.01M48.3 383.8h.01M43.1 299h.01M81.5 335.8h.01M104.9 336.2h.01M42 329.7h.01M89.9 352h.01M52 372.9h.01M44.1 310h.01M101.4 299.5h.01M118.4 291.2h.01M73.2 323.6h.01M56.8 303h.01M38.6 308.1h.01M40.2 331.9h.01M51.2 331.5h.01M74.4 384.1h.01M120.6 358.2h.01M66.6 382.3h.01M40.5 298h.01M81.1 330.5h.01M71.7 332.2h.01M37.1 329.5h.01M63.5 344.8h.01M46.8 379.1h.01M92.6 337h.01M108.8 346.4h.01M106 348.1h.01M98.2 343h.01M75.7 376.2h.01M46.6 361.4h.01M102 339.7h.01M105 359.8h.01M41.5 338.5h.01M50.1 302.8h.01M47 322.1h.01M62 351.4h.01M46.1 313.3h.01M85.9 357.4h.01M90.1 350h.01M117.3 326.7h.01M49.5 370.7h.01M108 347.7h.01M112.4 314.5h.01M131.1 310.7h.01M100.1 295.1h.01M57.3 298.1h.01M66.2 341h.01M41.1 325.1h.01M122.4 361.9h.01M88.6 295.2h.01M63.2 353.9h.01M104.8 379h.01M36.3 356h.01M36 324.7h.01M47 292.1h.01M40.4 298.5h.01M95.6 357.5h.01M51.5 322.9h.01M45.4 328.9h.01M85 332.6h.01M80.6 345.5h.01M52.4 375h.01M47.9 382.1h.01M93.6 337.9h.01M80.6 333.8h.01M73.2 305.8h.01M108.2 330.7h.01M73.2 329.2h.01M44.3 354.7h.01M38.1 374.1h.01M80 299.1h.01M75 321.1h.01" stroke="#f6f6f6" stroke-width="1.6" stroke-linecap="round" fill="none"/><path d="M54.5 291.7h.01M66 294.8h.01M46.1 294.8h.01M103.5 293.8h.01M121.3 292.7h.01M126.5 305.2h.01M129.6 303.2h.01M133.8 300h.01M76.4 297.9h.01M75.4 301.1h.01M81.6 303.2h.01M80.6 306.3h.01M87.9 304.2h.01M100.4 303.2h.01M110.8 305.2h.01M112.9 310.5h.01M109.8 311.5h.01M116.1 313.6h.01M47.2 312.6h.01M74.3 311.5h.01M72.2 315.7h.01M71.2 317.8h.01M73.3 323h.01M61.8 324h.01M37.8 307.3h.01M125.5 316.7h.01M131.7 318.8h.01M39.9 325.1h.01M44 326.1h.01M47.2 328.2h.01M98.3 323h.01M103.5 327.2h.01M74.3 332.4h.01M76.4 335.5h.01M52.4 335.5h.01M50.3 337.6h.01M111.9 336.6h.01M71.2 340.7h.01M66 341.8h.01M69.1 346h.01M62.8 347h.01M64.9 349.1h.01M99.4 339.7h.01M105.6 342.8h.01M105.6 346h.01M109.8 347h.01M79.5 344.9h.01M129.6 344.9h.01M38.8 353.3h.01M40.9 354.3h.01M45.1 354.3h.01M56.6 353.3h.01M61.8 357.4h.01M84.7 352.2h.01M103.5 351.2h.01M114 352.2h.01M116.1 355.3h.01M117.1 359.5h.01M125.5 357.4h.01M128.6 358.5h.01M52.4 362.7h.01M50.3 365.8h.01M105.6 361.6h.01M107.7 364.7h.01M83.7 364.7h.01M81.6 365.8h.01M77.4 367.9h.01M92.1 367.9h.01M101.4 367.9h.01M52.4 374.1h.01M55.5 376.2h.01M56.6 379.4h.01M54.5 381.4h.01M73.3 373.1h.01M76.4 376.2h.01M80.6 377.3h.01M74.3 382.5h.01M98.3 374.1h.01M101.4 375.2h.01M104.6 373.1h.01M109.8 377.3h.01M112.9 380.4h.01M60.7 377.3h.01M64.9 375.2h.01M44 382.5h.01M86.8 385.6h.01M111.9 382.5h.01" stroke="#fff" stroke-width="1.9" stroke-linecap="round" fill="none"/></g>
</svg>
<svg x="136.9" y="287.5" width="100.3" height="99.6" viewBox="136.9 287.5 100.3 99.6" overflow="hidden">
<rect x="136.9" y="287.5" width="100.3" height="99.6" fill="#050505"/>
<g filter="url(#sb)"><path d="M147.6 361.8h.01M213.3 373.1h.01M151.4 331.4h.01M182.5 318.4h.01M215.7 353h.01M195.9 297.2h.01M158.9 363.3h.01M193.8 333.3h.01M169 383.8h.01M217.5 374.8h.01M153.8 327.4h.01M179.7 383.3h.01M190 357.1h.01M176.6 382.3h.01M162 300.7h.01M138.9 297.9h.01M159 301.1h.01M158 296.5h.01M217.5 317.7h.01M182.3 296.5h.01M228.3 296.1h.01M142.3 355.3h.01M221.2 358.6h.01M184.8 297.2h.01M187.5 385.3h.01M192.5 365.7h.01M167.6 313.2h.01M188.3 330h.01M146.5 380.7h.01M216.9 359.1h.01M206.4 344.9h.01M184.6 312.7h.01M160.3 307.2h.01M177.7 319.6h.01M206.1 296.5h.01M145.7 299.6h.01M228.7 319.9h.01M205 341h.01M176.4 329.7h.01M157.2 309.3h.01M144.4 322.5h.01M158.5 361.4h.01M157.6 343.8h.01M214.2 373.6h.01M156.6 305.9h.01M195.3 352.8h.01M232.6 300.5h.01M154.5 368.2h.01M207.2 370.8h.01M191.3 298.7h.01M181.5 383.3h.01M180.4 377.4h.01M179.8 330.5h.01M143.6 323.1h.01M160.9 297.3h.01M176.3 304.4h.01M213.2 316.7h.01M162.4 300.9h.01M153.3 327.1h.01M228.8 313.7h.01M157.3 337.7h.01M188.7 334.8h.01M167.9 344.8h.01M164.4 315.3h.01M172.1 309.9h.01M198.6 343.5h.01M145.3 300.1h.01M193.8 332.4h.01M148.6 325.9h.01M148.7 325.3h.01M201.7 376h.01M158.7 371.3h.01M148.8 355.7h.01M174.4 326.9h.01M158.9 357.8h.01M165.2 353.2h.01M232.9 353.1h.01M181 339.8h.01M177.4 376.8h.01M166.3 317h.01M175.1 324.8h.01M149.4 380h.01M182 331h.01M183.4 372.8h.01M226.8 293h.01M228.8 355.7h.01M154.7 300.5h.01M144.4 357.7h.01M209.9 329.4h.01M214.1 305.5h.01M200.9 298.9h.01M196.8 343h.01M202.4 333.1h.01M158.8 374.9h.01M141 296.8h.01M183.2 343.1h.01M215.7 327h.01M228.9 356.6h.01M160.5 343.3h.01M200.3 378.5h.01M148.6 324.5h.01M196.1 335.4h.01M168.2 344.2h.01M150.8 369.2h.01M144.6 316.3h.01M206.1 378.7h.01M171 350h.01M144.4 315.8h.01M174.1 376.9h.01M168.5 313.1h.01M177.2 308.1h.01M202.7 350.9h.01M208.7 375.1h.01M211 348.1h.01M215.6 305.1h.01M215.9 347.8h.01M157.1 329.4h.01M208.4 345.4h.01M151.5 384.8h.01M219.7 377.2h.01M205.7 350h.01M158 307.5h.01M181.3 331h.01M209.7 331.9h.01M148.2 383.2h.01M187.9 330.2h.01M165.1 298.6h.01M143.3 328h.01M164 347.2h.01M183.7 329.7h.01M161.7 312.6h.01M154.8 326.1h.01M215.1 313.5h.01M146.6 299.6h.01M184.8 349.7h.01M183.4 326.6h.01M177.8 300.7h.01M203.2 338.7h.01M207.9 370.6h.01M157.4 352.9h.01M235.6 305.2h.01M174.2 319.7h.01M215.2 315.7h.01M146.1 306.2h.01M193.1 361.8h.01M212.7 302.9h.01M186.4 295.8h.01M165.5 351.5h.01M209.4 308.4h.01M214.8 316.7h.01M216.2 311.8h.01M172.1 344.5h.01M151.1 361.7h.01M141.4 321.5h.01M178.1 339.2h.01M198.6 336.4h.01M147.5 381.4h.01M166.1 295.3h.01M151 304.7h.01M187.4 346.1h.01M227.4 352.1h.01M229.7 300.3h.01M217.5 352h.01M138.1 319.9h.01M153.8 376.4h.01M146.2 307.1h.01M198.9 335.9h.01M202.5 339.6h.01M186.3 334.1h.01M148.4 302.9h.01M180.9 384h.01M176.7 331.7h.01M206.2 338.4h.01M181 301.5h.01M179.8 337.4h.01M191.7 374.8h.01M209.5 380.6h.01M212.7 329h.01M170 307.7h.01M169.9 377.4h.01M159.2 381.4h.01M214.4 305.3h.01M158.6 302.5h.01M148.5 291.4h.01M213.8 361.2h.01M168.6 310.8h.01M206.5 299.3h.01M201.6 294.5h.01M206.5 310.4h.01M153.9 301.5h.01M211.8 324.6h.01M168.7 343.3h.01M206.8 345.3h.01M187.2 353.8h.01M192.2 294.8h.01M223.4 356.6h.01M215.4 362.8h.01M173.7 376h.01M180.2 318h.01M203.5 345.3h.01M145.7 296.4h.01M170.3 346.2h.01M152.8 334.1h.01M163.2 348.3h.01M163.6 378h.01M171.7 334.6h.01M186.4 331.7h.01M175.5 383.2h.01M212 337.9h.01M215.9 381.4h.01M178.9 292.7h.01M199.4 338.6h.01M206.2 342h.01M156.4 373.6h.01M164.6 350.1h.01M218.5 357.1h.01M235.6 359.8h.01M171.2 343.1h.01M155.6 337.8h.01M155.8 371h.01M202.1 302.4h.01M231.4 299.1h.01M182.1 329.2h.01M195.7 342h.01M202.7 348.1h.01M162.3 376.1h.01M179.2 325.1h.01M175.1 312.8h.01M210 336.2h.01M200.5 338h.01M164.1 306.8h.01M142.9 307.4h.01M180.4 334.1h.01M200.5 341.8h.01M172.9 343.4h.01M175.6 338h.01M220.7 316.8h.01M188.6 348.5h.01M177.5 297.9h.01M211.2 329.1h.01M179.4 317.7h.01M143.8 327.4h.01M225.6 353.4h.01M179.3 383.5h.01M222.2 379.1h.01M165.2 305.8h.01M219.3 317.3h.01M185.1 334.3h.01M167.7 298.9h.01M226.7 305.8h.01M234.2 315.1h.01M207.7 330.2h.01M140.2 295.4h.01M162.8 319.6h.01M221.7 290.8h.01M153.4 331.5h.01M154 305.6h.01M180.2 327h.01M190.9 361.7h.01M227.7 294h.01M150.1 380.2h.01M179.7 328.5h.01M159.1 310h.01M168.7 343.4h.01M189.9 356h.01M159.9 311.9h.01M160.4 305h.01M182.6 330.2h.01M141.6 314.7h.01M227.1 300h.01M172.9 311.3h.01M198.9 294.4h.01M203.2 380.7h.01M167 299.2h.01M232.2 357.6h.01M163.9 342.2h.01M152.8 295.3h.01M150.8 330.3h.01M213.2 335.7h.01M215.9 320.9h.01M187.6 347.9h.01M214.3 378.2h.01M212.5 345.7h.01M165.8 344.8h.01M156.7 381.2h.01M150.2 362.1h.01M184.9 386h.01M194.1 340.8h.01M194.7 335.5h.01M167.1 299.6h.01M200.8 375.1h.01M184.2 334.2h.01M147 360.7h.01M155.1 369.3h.01M226.2 295.9h.01M141.6 312.3h.01M190.7 353.2h.01M215.4 298.7h.01M178.9 298.5h.01M181.7 379.8h.01M214.9 373h.01M162.3 299.5h.01M168.7 374h.01M162.1 306.9h.01M158.8 342.1h.01M206.3 341.9h.01M180.2 317.9h.01M208.8 325.8h.01M196 333.6h.01M212.3 373.5h.01M152.3 373.5h.01M193.5 360.4h.01M167.3 344.5h.01M152.7 301.9h.01M198.3 347.6h.01M209.9 329.1h.01M205.2 301.6h.01M182.5 335h.01M150.1 362.5h.01M181.9 345.3h.01" stroke="#202020" stroke-width="1.2" stroke-linecap="round" fill="none"/><path d="M194.9 305.7h.01M176.6 314.6h.01M203.7 346h.01M164 346h.01M142.3 346h.01M215.2 368.9h.01M191.2 378.3h.01M195.4 382.5h.01" stroke="#5a5a5a" stroke-width="1.0" stroke-linecap="round" fill="none"/><path d="M193.9 355.3h.01M208.9 357.9h.01M151.5 365.8h.01M179.7 370.6h.01M214.1 375.6h.01M193.3 381.4h.01M201.2 318.8h.01" stroke="#e0e0e0" stroke-width="1.5" stroke-linecap="round" fill="none"/></g>
</svg>
<svg x="240" y="287.5" width="100.3" height="99.6" viewBox="240 287.5 100.3 99.6" overflow="hidden">
<rect x="240" y="287.5" width="100.3" height="99.6" fill="#020305"/>
<g filter="url(#sb)"><path d="M316.4 347.8h.01M320.2 376h.01M323.9 379.8h.01M252.8 324.5h.01M247.1 381.4h.01M319.2 386.3h.01M281.4 348.8h.01M261.3 332.5h.01M253.7 384.5h.01M308.4 348.3h.01M282.1 298.7h.01M277.7 335.8h.01M287.5 385.3h.01M256.7 376.9h.01M279.3 307.5h.01M289 370.4h.01M303.1 345.8h.01M285.8 339.6h.01M335.9 360.5h.01M315.7 356h.01M307 334.1h.01M252.4 370.2h.01M283.4 334.4h.01M306.8 352.3h.01M276.5 300.8h.01M279 342.9h.01M305.3 342.3h.01M284 295.7h.01M292.1 366h.01M245.8 297.7h.01M240.9 309.8h.01M319.6 344.3h.01M268.5 299.6h.01M273.9 313.4h.01M306.5 334.3h.01M295.1 380.4h.01M248.3 359.5h.01M317 320.5h.01M316.5 371.3h.01M265.4 305.2h.01M280.2 310.2h.01M312 369.9h.01M258.9 306.4h.01M264 300.7h.01M281.4 375.4h.01M299.9 295.1h.01M264.1 298h.01M260.9 301.2h.01M280.1 302.7h.01M304.4 377.6h.01M254.3 301.8h.01M305.2 345.2h.01M277.3 330.1h.01M279.6 311.6h.01M294.5 293.9h.01M330.7 294.6h.01M312.3 343.7h.01M259.8 380.3h.01M314.5 347.2h.01M264.2 340.9h.01M255.5 310.5h.01M306.8 379h.01M300.3 382.1h.01M305.2 337h.01M251.9 329.3h.01M244.5 376.3h.01M242 326.6h.01M269.2 350h.01M328.7 358.1h.01M261.6 354.6h.01M251.2 332.6h.01M293.5 334.8h.01M280.2 302.5h.01M261.5 351.9h.01M318.7 311.2h.01M259.8 356h.01M309.1 296.1h.01M294.9 297.1h.01M308.9 372.7h.01M300 374.8h.01M319 375.5h.01M306.8 334.7h.01M241.6 352h.01M292.1 346.4h.01M323.4 361.7h.01M269.7 303.1h.01M291.3 332.8h.01M291.1 380.6h.01M270.4 308h.01M249 379.7h.01M297.2 328.6h.01M257 300.7h.01M251.9 296.3h.01M289.1 309.9h.01M306 349.9h.01M301.6 295.4h.01M294.3 337.6h.01M252.8 328.5h.01M283.5 312.9h.01M284.9 338.9h.01M274.1 375.8h.01M315.8 318.9h.01M302.2 343.3h.01M265.4 319.6h.01M312.2 349.8h.01M263.9 336.9h.01M319.5 305.2h.01M253.6 362.7h.01M297.9 352.4h.01M246.9 328.1h.01M254.1 364.4h.01M320.7 363.4h.01M286.9 299.8h.01M250.6 299.2h.01M281.4 342.9h.01M282.9 367.7h.01M284.7 370.1h.01M258.2 334.5h.01M288.2 340.7h.01M311.2 337.6h.01M302.7 335h.01M299 336.6h.01M319.7 359.9h.01M287 332.9h.01M278.2 310.7h.01M253.5 327.3h.01M250.8 361.5h.01M313.9 330.8h.01M305.2 333.4h.01M268.4 377.5h.01M260.8 297.1h.01M305.1 347.7h.01M297.7 356.7h.01M323.3 319.2h.01M269.8 312.7h.01M253.4 360.9h.01M311.2 346.3h.01M281.4 339.6h.01M262.8 305.1h.01M280.2 380.9h.01M275.9 305.8h.01M288 297.1h.01M308.9 339.3h.01M274 384.9h.01M332.6 308.9h.01M248.8 362.3h.01M319.2 343h.01M303.6 376.8h.01M263.2 294.4h.01M292.4 340.1h.01M263.1 298.3h.01M314.4 353.6h.01M320.5 329.4h.01M331.7 354.7h.01M258.1 375.3h.01M287.6 299.1h.01M312.3 332.8h.01M273 309.6h.01M299.8 339.8h.01M281.8 311.6h.01M311.6 330h.01M272.5 349.6h.01M267.9 380.3h.01M252.6 331.1h.01M279.3 315.9h.01M271.2 290.4h.01M324 363.1h.01M253.6 381.9h.01M277.2 312.4h.01M262.7 297.4h.01M337.6 305.5h.01M274 303.7h.01M252.9 296.3h.01M319.3 300.6h.01M251.7 329.6h.01M300.6 380.4h.01M287.8 314.3h.01M320.6 384h.01M275.4 307.9h.01M278.6 303.4h.01M268.9 300.9h.01M244.5 357.1h.01M310.4 373.4h.01M299.9 296.8h.01M286.5 290.9h.01M328.3 359.1h.01M263.5 339h.01M253.9 310.3h.01M255.3 381.5h.01M332.2 295.7h.01M264.2 320.4h.01M336.3 357h.01M282.7 332.2h.01M265 356.8h.01M269.3 341.1h.01M306.2 340.3h.01M291.2 369.3h.01M284.7 344.1h.01M276 306.7h.01M252.7 374.7h.01M286.6 342.9h.01M291.7 333.9h.01M292.5 363.1h.01M327.2 295.2h.01M251.8 363.6h.01M252.4 356.3h.01M257.1 318.6h.01M270.1 350.5h.01M313.2 326.4h.01M290.3 348.4h.01M305.3 302.1h.01M331.4 313.2h.01M293.5 384.1h.01M302.2 339.5h.01M322.1 349.4h.01M276.3 377.4h.01M284.7 379h.01M286.1 378.9h.01M266.7 380h.01M250 316.7h.01M317.6 369.6h.01M322.4 330.3h.01M262.7 302.3h.01M294.9 362.4h.01M285.6 317.9h.01M313.7 298.6h.01M287.4 331.6h.01M311 302.2h.01M280.5 309.2h.01M293.6 344.9h.01M277.1 326.1h.01M273.9 337.9h.01M271.6 353h.01M279.1 308.7h.01M337.4 296.7h.01M284.2 316.8h.01M254.6 329.5h.01M322.6 315.3h.01M302.9 337.1h.01M304.9 348.5h.01M311.1 297.2h.01M254.8 322.8h.01M336.1 307.8h.01M319.2 328.5h.01M338.7 313.5h.01M292.8 339h.01M281.2 315.6h.01M280.7 317.8h.01M300.6 384.4h.01M293.9 343h.01M268.1 379.7h.01M308.5 379h.01M250 325.1h.01M285.8 313.7h.01M297.1 381.4h.01M279.2 376.5h.01M310.2 335.7h.01M247 300.2h.01M280.9 381.7h.01M281.7 339.6h.01M314.4 374.9h.01M282.4 329.8h.01M280.6 378.9h.01M265.1 322.1h.01M300.5 338.6h.01M285.8 372.3h.01M280.6 322.6h.01M315.1 322.8h.01M248.9 315.8h.01M280.9 339.8h.01M291.8 366.4h.01M323.4 377.4h.01M257.9 376.1h.01M281.6 372.3h.01M283.1 344.8h.01M257.4 380.6h.01M289 293.2h.01M301.1 370.4h.01M291.1 294.8h.01M260.6 338.8h.01M308.3 345.7h.01M257.6 377.9h.01M314.5 375.7h.01M270.3 304.5h.01M270.8 349h.01M269.6 313.7h.01M256.1 358.9h.01M262.2 305.1h.01M281.7 301.5h.01M332.3 359.9h.01M289.2 344.9h.01M255.6 385.5h.01M290.7 364.3h.01M309.3 305.1h.01M271 300.2h.01M305.7 341.7h.01M284.4 349.8h.01M307.9 349.5h.01M251.4 358.6h.01M317.2 354.8h.01M278.5 304.6h.01M298.2 344.6h.01M244.1 377.6h.01M311.3 343.5h.01M290 384.7h.01M269.4 346.7h.01M274.3 327.1h.01M288 304.5h.01M297.6 337.5h.01M319.5 312.3h.01M260.8 309.2h.01M265.2 355.4h.01M298.3 385.3h.01M257.2 306.4h.01M308.1 372.6h.01M248.9 309.2h.01M255.3 293.8h.01M295.1 302.7h.01M308.3 335.8h.01M247 318.1h.01M252.3 303.8h.01M310.5 296.7h.01M259.1 356h.01M262.3 300.8h.01M254.4 379.6h.01M278.8 315.1h.01M307 344.1h.01M284.6 312.6h.01M250.8 381.3h.01M287.8 336.8h.01M318.9 351.4h.01M296.1 294.7h.01M326.3 356.5h.01M277.6 376.7h.01M320.6 322.9h.01M250.5 326.2h.01M270.1 350.1h.01M249.1 315.3h.01M276.9 342h.01M288.1 378.1h.01M287.6 297h.01M304.5 294.8h.01M270.9 303.5h.01M266.3 303.1h.01M295.2 352.5h.01M284.1 380.6h.01M247.1 358.4h.01M268.7 343.9h.01M293.6 385.8h.01M290.3 339.7h.01M300.9 384.6h.01M303.3 344.1h.01M290.3 377.6h.01M318.1 317.3h.01M287.1 360.6h.01M265.9 351.7h.01M243.1 293.4h.01M333.3 298.4h.01M283.7 378.1h.01M312.2 345.4h.01M272.2 301.3h.01M304.8 380.1h.01M252.8 358.2h.01M292.7 298.6h.01M287.7 344.7h.01M315 333.4h.01M306.7 298.7h.01M266 356.9h.01M252.3 319.9h.01M315 340h.01M309.9 342.2h.01M244.8 307.8h.01M307.1 353h.01M285.5 331.9h.01M265.8 354h.01M311.6 373.2h.01M320.3 304.4h.01M298.4 336.9h.01M291 311.9h.01M317.1 324.9h.01M310.9 371.2h.01M265 299.9h.01M287.1 331.9h.01M266.9 303.1h.01M334.4 310.9h.01M252.9 369.5h.01M259.3 316.6h.01M290.4 347.7h.01M323.5 320.2h.01M313.2 329h.01M261.2 376.7h.01M248 311.5h.01M301.1 340.9h.01M298.8 297.7h.01M334 301.8h.01M285 342h.01M330.9 355.4h.01M282.4 327.8h.01M328.2 296.2h.01M276.7 313.8h.01M294.8 334h.01M245.3 302.5h.01M267.9 307.3h.01M314.9 297h.01M317.5 318.7h.01M309 371.5h.01M255.7 318.4h.01M280.1 329.5h.01M303.6 342.8h.01M254.9 376h.01M334.2 297.2h.01M249 320.9h.01M295.3 358.2h.01M317 365.9h.01M262.3 381.4h.01M281.8 343.4h.01M297 347.5h.01M282 378.1h.01M259.3 313.4h.01M285 318.7h.01M336.6 314.6h.01M286.7 332.4h.01M263.6 352.6h.01M283 329.6h.01M300.7 344.4h.01M245.6 311h.01M265.2 291.3h.01M263 294.4h.01M316.6 339.9h.01M312 374.1h.01M245 377.6h.01M290.8 339.7h.01M311.2 371.7h.01M252.7 325.5h.01M274.2 315.3h.01M295.5 368.7h.01M312.1 344.4h.01M308.3 351.7h.01M280.8 321.6h.01M302 336.5h.01M279.2 345.9h.01M269.3 381h.01M315.8 331.8h.01M314.3 335.5h.01M302 335.2h.01M248.4 325.5h.01M278.7 315.5h.01M278.6 331h.01M290 300.1h.01M256.1 328h.01M278.8 337.2h.01M318.6 372.6h.01M321 320.2h.01M253.9 306h.01M258.5 330.8h.01M258.4 297.6h.01M300.5 338.4h.01M304.1 343.2h.01M258.6 309.4h.01M303.6 355.9h.01M280 347h.01M247.9 325.5h.01M244.3 374h.01M317.4 299.5h.01M319.3 370.2h.01M280 327.6h.01M301.5 343.9h.01M272.4 347.5h.01M285.4 302.7h.01M323.5 307.5h.01M284.1 339.8h.01M269 296.2h.01M311 370h.01M289.9 324.2h.01M267.4 305.7h.01M258.3 297h.01M295.3 333.9h.01M269.3 382h.01M293.8 368.2h.01M257 347h.01M310 347.7h.01M277.8 381.7h.01M263.3 299.6h.01M261.9 318.3h.01M294.1 360.5h.01M254.3 375.4h.01M284.5 305.8h.01M243.1 327.1h.01M256.7 359.7h.01M262 377.6h.01M289 350.2h.01M286.9 343.4h.01M325.2 361.3h.01M286.3 319.7h.01M316.1 375.8h.01M254.1 378.7h.01M278.7 319.8h.01M288.5 370.7h.01M249.6 327.1h.01M306.3 300.1h.01M244 320.1h.01M287.1 373.4h.01M322.9 350.9h.01M255.5 371.8h.01M269.6 354.5h.01M262.2 311.5h.01M313 369.6h.01M320.6 316.8h.01M249.7 296.4h.01M263.7 327.1h.01M306.9 347h.01M334.2 359.4h.01M307.3 341.9h.01M298 378.5h.01M301.1 375.5h.01M334.5 302.9h.01M296.2 292.7h.01M248.8 384.9h.01M324 357.4h.01M254.3 322.5h.01M300.7 341.5h.01M254.5 325.7h.01M312.6 334.6h.01M256.7 365.8h.01M254.8 299.7h.01M248.9 359h.01M285.4 382.3h.01M253.5 330.3h.01M267.4 379.4h.01M285.8 293.7h.01M301.1 337.7h.01M277.4 383.2h.01M286.6 290.6h.01M243.5 325h.01M253.6 327.8h.01M322.4 354.9h.01M284.6 376.4h.01M262 310.6h.01M329 303h.01M267.9 345.3h.01M258.6 358.1h.01M295.7 347.3h.01M316.9 316.2h.01M256.1 368.6h.01M282.9 311.3h.01M314.9 342.4h.01M299.3 290h.01M316.9 308.5h.01M310.2 364.4h.01M317.9 333.8h.01M316.6 321.1h.01M257.6 365.7h.01M273.4 335.7h.01M297.7 339.3h.01M264 300.2h.01M338.9 303.9h.01M282.7 334.5h.01M327.7 307.4h.01M282.4 306.3h.01M272 348.6h.01M313.1 336h.01M283.5 344.6h.01M288.6 293.3h.01M244 323.5h.01M308.1 353h.01M252.6 359h.01M253.1 369.1h.01M316.2 377.6h.01M283 373.6h.01M290.8 370h.01M269.5 348.3h.01M285.2 373.5h.01M291.4 361.6h.01M319.1 368.8h.01M259.2 297.7h.01M280.9 342.3h.01M292.5 348h.01M263.7 339.7h.01M264.9 305h.01M287.2 337.3h.01M289.1 341.4h.01M316.9 349.5h.01M282.7 319.5h.01M266.9 298.1h.01M294 339.8h.01M249.7 297.7h.01M241.9 302.6h.01M314.7 351.8h.01M246.8 312.2h.01M251.7 295.8h.01M249.6 336.5h.01M277.8 341.2h.01M315.6 332.1h.01M256 291h.01M255.3 380.2h.01M322.2 351.9h.01M244.8 359.8h.01M325.7 314.4h.01M318.3 371.2h.01M315.5 309.3h.01M330.4 291.5h.01M269.9 352h.01M284.3 290.9h.01M275.4 342.1h.01M291 352.6h.01M321.1 359h.01M309.2 343.4h.01M332 295.2h.01M318.2 381.6h.01M253.9 326.8h.01M293.1 340.6h.01M290 362h.01M251.4 299.6h.01M326.8 300.8h.01M304.2 342.2h.01M318.3 378.4h.01M250 357.5h.01M311.6 332h.01M304.5 341.9h.01M316.9 375h.01M252.6 380.2h.01M298.5 297.2h.01M271.7 308.7h.01M280.6 319.6h.01M328.1 292.1h.01M311.9 352.1h.01M255.4 369.4h.01M316 318.5h.01M258.4 336.3h.01M339.2 353h.01M287.7 297.4h.01M307.8 336.3h.01M284 375h.01M277.1 371.8h.01M265.8 294.9h.01M251.5 328.6h.01M318.1 327h.01M258.2 300.2h.01M326.3 378h.01M273.8 341.2h.01M254.3 291h.01M319.5 358.8h.01M291 366.4h.01M270.8 349.1h.01M291.7 296.2h.01M286.1 337.6h.01M249.5 356.9h.01M312.5 304.6h.01M286.7 341.4h.01M326.5 292.1h.01M307.4 375.7h.01M249.7 298.4h.01M330.4 359.9h.01M279.4 318.6h.01M283.6 342.1h.01M257.3 365.9h.01M294 381.1h.01M282.4 308.3h.01M304.6 340.4h.01M304.7 337.9h.01M291.8 329.1h.01M263.7 379.9h.01M251.6 370.3h.01M258.2 370.7h.01M259.2 292.4h.01M311.5 298.1h.01M302.2 334.9h.01M255.4 358h.01M298.8 336.3h.01M304.6 343.5h.01M241.7 306.8h.01M294 349.1h.01M329.3 296.9h.01M315.3 349.1h.01M259 315.1h.01M299.4 330h.01M302.9 342.2h.01M251.7 379.4h.01M252.4 311.8h.01M252 316.6h.01M269.6 344.8h.01M243.2 378.9h.01M281.8 328.1h.01M315.1 331.5h.01M306 294.6h.01M293.5 342.2h.01M296.4 378.8h.01M299.6 331.3h.01M302.2 342h.01M296.4 299.3h.01M335.4 292.4h.01M249.4 315.7h.01M272.4 296.9h.01M325 295.8h.01M275 317.1h.01M266.7 304.3h.01M279.1 324.1h.01M259.5 314.2h.01M297.9 342.4h.01M260.4 374.3h.01M261.6 333.5h.01M269.2 312h.01M279.3 317h.01M322.4 317.7h.01M252.7 295.1h.01M256.2 315.9h.01M245.1 383h.01M316.2 307.8h.01M325.8 380h.01M256.1 368.7h.01M269.3 341h.01M257.4 292.1h.01M262.9 335.2h.01M332.2 297.7h.01M251.7 365.5h.01M276.6 304.2h.01M254.6 312.9h.01M317.3 308.1h.01M291.5 348.7h.01M287.1 384.6h.01M265.3 350.8h.01M273.8 308h.01M254.9 314.8h.01M314.4 330.8h.01M256.7 331.1h.01M269.4 297.5h.01M267.9 343.3h.01M268.5 352.9h.01M251.7 327.6h.01M293.3 338.2h.01M276.7 318.2h.01M304.5 340h.01M297.4 380.6h.01M306.1 299.9h.01M302.7 357.3h.01M287.1 376.3h.01M322.8 356h.01M281.1 331.1h.01M292.7 366.8h.01M284.2 298.5h.01M252.7 362.6h.01M313.7 326.4h.01M304.6 344.1h.01M314.8 332.3h.01M257.7 378h.01M296.4 337.3h.01M255.1 380.2h.01M283.5 311.7h.01M247.8 302.3h.01M271.1 300.3h.01M324.9 295.6h.01M293.9 342.5h.01M259 359.3h.01M308.3 340h.01M264.2 348.8h.01M248.9 294h.01M257.2 321.3h.01M258.6 378.6h.01M261.1 294.9h.01M317.3 386.3h.01M316 337.8h.01M278.4 297h.01M288.3 368.9h.01M310.2 341.9h.01M256.7 301.2h.01M258.7 322.5h.01M312.2 329.7h.01M289.2 333.5h.01M300.5 301.8h.01M252.3 324.6h.01M264.9 294.9h.01M278.6 329.4h.01M259.9 295.5h.01M317.2 350.3h.01M261.3 346.8h.01M254.3 331.1h.01M260.3 364.4h.01M245.3 319.7h.01M320.5 308.5h.01M298.8 344.8h.01M289.5 374.7h.01M316.1 359.8h.01M321.9 366.7h.01M303.8 338.3h.01M279.8 299.8h.01M280.4 325.1h.01M254.5 327.6h.01M296.9 291.9h.01M262 299h.01M271.5 302.6h.01M314.9 332.4h.01M269.3 312.9h.01M274.3 298.4h.01M241 299h.01M264.4 380.1h.01M256.4 355.8h.01M253.9 293h.01M284.6 371.8h.01M282.7 347.9h.01M277.8 342.9h.01" stroke="#1e1e84" stroke-width="1.5" stroke-linecap="round" fill="none"/><path d="M307.9 349.2h.01M272.7 342.5h.01M320.2 318h.01M317.6 299.1h.01M317.7 379.2h.01M264 297h.01M252.6 376.5h.01M319.3 304.5h.01M318.5 330h.01M317.8 366.9h.01M277.8 376.4h.01M246.9 293.3h.01M259.5 325.2h.01M294.1 354.6h.01M256.5 324.2h.01M249.5 381.4h.01M297.9 331.4h.01M267.5 349.1h.01M326.7 366h.01M288.8 343.3h.01M255.1 310.8h.01M316.8 332.2h.01M259.3 355.4h.01M282.6 323.6h.01M259 356.5h.01M328.9 301.6h.01M309.9 298.5h.01M313 356.9h.01M243.1 299.4h.01M272.9 292.5h.01M319.5 307.9h.01M268 313.2h.01M287.6 340.9h.01M281.3 377.1h.01M244.2 373.3h.01M302.7 342h.01M279 326.7h.01M295 335.7h.01M277.1 340h.01M284.6 301.5h.01M270.7 310.6h.01M326.4 303.5h.01M298.1 291.3h.01M283.7 301.3h.01M270.4 307.1h.01M318.5 374.8h.01M275.5 379.1h.01M316.9 304.8h.01M300.7 334.7h.01M319 378.4h.01M309.2 300h.01M243.3 326.7h.01M269.4 377.6h.01M280.6 328.1h.01M316 318.4h.01M280.5 318.1h.01M275.4 340h.01M260.7 321.3h.01M249.2 325.2h.01M315.7 344.8h.01M288.6 368.7h.01M315.2 377.2h.01M291.4 332.4h.01M288.3 347.4h.01M260.4 366.9h.01M269.7 347.3h.01M260 315.4h.01M276.7 378.8h.01M264.5 355.6h.01M242.3 358.4h.01M286.1 321.5h.01M269.4 311.4h.01M258.6 328.1h.01M309.1 344.1h.01M319.1 358.5h.01M260.1 355h.01M243.5 301h.01M260 378.1h.01M264.2 380.5h.01M328.8 288.6h.01M242.9 302.7h.01M289.2 294.8h.01M305.8 375.6h.01M319 380.7h.01M327.2 297.2h.01M287 336.6h.01M255.5 333.4h.01M252.1 362.5h.01M279.6 334.3h.01M261.8 312.5h.01M260.9 338.5h.01M266.1 334.2h.01M307.5 349.7h.01M248.8 332.8h.01M259.8 342.4h.01M297.2 343.9h.01M252.1 312.6h.01M283.9 380.2h.01M280.5 291.9h.01M320.4 379.9h.01M331.7 356.2h.01M282.6 313.9h.01M318 316.5h.01M276.7 309.2h.01M271.2 294.7h.01M321.7 377.9h.01M336 310.1h.01M290.4 345.3h.01M320.3 303.9h.01M306 371.9h.01M316.9 313.5h.01M307.2 378.4h.01M316.3 370.1h.01M329.8 359.4h.01M315.4 348.1h.01M317.5 383.4h.01M306.5 334.4h.01M258.9 306.6h.01M290.2 353.2h.01M303.5 341h.01M275.2 336.1h.01M257.5 330.2h.01M320.9 334.6h.01M267.4 304.3h.01M302.3 340.1h.01M297.2 361h.01M261.2 320.1h.01M303.9 348.1h.01M300.1 337.7h.01M252.8 305.1h.01M271.2 382.1h.01M284 330.1h.01M323.5 358.3h.01M310.3 340.1h.01M273.9 302.1h.01M309.2 300h.01M296.2 380.5h.01M307.7 299.4h.01M316.6 331h.01M305.8 373.2h.01M275 332.3h.01M283.6 379.8h.01M256.6 378h.01M329 311.8h.01M263.2 356.3h.01M273 299.8h.01M248.4 309.6h.01M256.8 375.4h.01M318.5 331.4h.01M296.1 333.3h.01M257.6 300.5h.01M248.2 351.9h.01M243.5 357.8h.01M295.7 339.9h.01M292.4 333.4h.01M279.2 339h.01M339.1 354h.01M258.7 317.9h.01M306.1 376h.01M285.3 378.9h.01M334.9 355.6h.01M242.7 293.6h.01M330 359.9h.01M294.4 334h.01M301.5 296.3h.01M250.1 307.6h.01M319.6 374.6h.01M264.8 325.3h.01M280.1 326.1h.01M260.5 356.6h.01M289.2 320.4h.01M281.9 330.9h.01M290 344.1h.01M286.3 323.4h.01M256.9 295.1h.01M333.7 301h.01M316 307.1h.01M298.8 365.2h.01M271.6 342.7h.01M269 305.6h.01M332.7 357.7h.01M277.2 327.9h.01M287.5 335.2h.01M325.1 294.4h.01M316.5 323.4h.01M297.6 341.6h.01M292.2 355.2h.01M321.1 364.4h.01M254.3 291.3h.01M265.2 345.2h.01M320.9 351.9h.01M242.4 380.2h.01M280.9 307.3h.01M287.7 336.1h.01M313.7 378.7h.01M249.6 322.2h.01M313.8 331.7h.01M284.4 311.9h.01M304 343.6h.01M246 371.9h.01M321.6 312.6h.01M263.4 345.4h.01M274.7 296.4h.01M253.1 360.7h.01M249 324.8h.01M269.1 340.4h.01M283.1 307.4h.01M321 333.5h.01M265.7 300.4h.01M243.2 335.4h.01M284.2 301.2h.01M336.8 298h.01M275 340.2h.01M309.5 343.7h.01M255.9 362.3h.01M304.2 380.7h.01M249.6 325h.01M338.6 317.3h.01M263.7 342.4h.01M279.7 342.8h.01M256.6 376.2h.01M304.8 337.8h.01M261.6 339.5h.01M317.3 354.2h.01M255.3 290.8h.01M303.6 344.2h.01M257.6 331.9h.01M288.4 301.2h.01M258.1 340.7h.01M260.1 308.8h.01M290.4 336.3h.01M262.8 292h.01M248 313h.01M261.6 307.7h.01M301.8 346.4h.01M327 306.7h.01M282.4 331.9h.01M246 358.4h.01M276.6 310.9h.01M287.5 335.4h.01M286.4 325.7h.01M280 327.4h.01M312.8 301h.01M253 320.3h.01M271.2 353.3h.01M310.1 343.9h.01M318.2 311.1h.01M312.3 331h.01M290.1 350.7h.01M270.8 312.2h.01M263 303h.01M278 381.6h.01M308.4 374.7h.01M336.2 312.1h.01M248.6 384h.01M287.3 340.6h.01M241.4 297.3h.01M295.9 337.3h.01M300.2 334.6h.01M254.8 312.9h.01M294.4 338.5h.01M306.3 342.5h.01M313.7 299h.01M291.7 377.7h.01M281.4 379.9h.01M299.6 347.3h.01M287 324.1h.01M294.7 340.5h.01M276.4 290.8h.01M259.7 335.6h.01M288.4 331.9h.01M313.1 369.7h.01M307.4 342.7h.01M308.4 301.1h.01M252.8 322.3h.01M268 300h.01M262.3 352.9h.01M296.2 288.6h.01M260.3 381.4h.01M317.9 365.6h.01M261.6 341.7h.01M288.5 366.9h.01M265.9 345.8h.01M282.9 327.2h.01M286.2 315.4h.01M254.4 294.9h.01M292.5 330.5h.01M243.8 378.6h.01M331.3 300.4h.01M253.7 324.8h.01M257.6 334.2h.01M280.6 304.3h.01M265.4 299.7h.01M313.5 333.7h.01M241.9 381.6h.01M254.5 382.7h.01M313 366.9h.01M251.7 329.4h.01M316.1 334.2h.01M262.9 294h.01M300.2 339.1h.01M307.2 350.1h.01M254.2 375.8h.01M259.1 323.9h.01M278 304.1h.01M288.1 367.9h.01M308.9 344.2h.01M268.9 354.9h.01M317.7 354.4h.01M334.1 314.9h.01M287.5 349.5h.01M251.6 376.4h.01M331.9 301.4h.01M310.8 345.6h.01M252.7 298.2h.01M280.2 378.8h.01M281.5 379.7h.01M253.3 294.4h.01M273.9 303.3h.01M283.4 333.5h.01M295.5 367.3h.01M265.3 380h.01M330.7 316h.01M292.6 335.3h.01M280.6 340h.01M307.3 353.6h.01M318.4 351.5h.01M252.7 385h.01M250.9 376.4h.01M252.5 308.9h.01M315.9 373.3h.01M276 297.9h.01M331 301.6h.01M296.6 343.3h.01M261.2 324.3h.01M253.7 332.1h.01M265 355.2h.01M317.4 365.8h.01M264.8 292.9h.01M250 311.7h.01M288.5 380.6h.01M287.2 381.7h.01M293.4 344.8h.01M304.9 299.2h.01M253.6 365.6h.01M287.1 379.8h.01M290.6 300.2h.01M266.2 356.3h.01M289.3 321.7h.01M287.3 332.2h.01M266.3 308.7h.01M293.7 373.8h.01M263.2 291.2h.01M264.7 292h.01M282.3 374.6h.01M335 299.7h.01M250.3 318.3h.01M253.7 300h.01M253.6 323.7h.01M247.4 319.8h.01M257.5 288.4h.01M293.9 363.4h.01M291.6 297.4h.01M274.9 315.8h.01M256.1 336.6h.01M266.5 342.6h.01M296.8 336.2h.01M268.2 348.4h.01M296.2 381.9h.01M287.5 344.3h.01M324.9 316.6h.01M256.8 290h.01M277.9 304.4h.01M308.4 346.2h.01M265.1 298h.01M257.8 300.6h.01M253.7 381h.01M291 385.8h.01M249.7 316.2h.01M338.9 313h.01M279 327.1h.01M275.1 343.9h.01M303.2 330.7h.01M296.2 381h.01M261.3 350.3h.01M289.3 365.6h.01M302.1 340.9h.01M319.2 317.2h.01M271.8 302.5h.01M290.3 329.6h.01M279.1 325.6h.01M266.4 349.5h.01M245.3 323.2h.01M248.9 330.7h.01M334.5 307h.01M254.7 365.9h.01M319 353.5h.01M254.5 330h.01M295.1 382h.01M269.8 301.9h.01M309.2 301.4h.01M268.2 386.4h.01M312.3 346.7h.01M275.6 335.2h.01M260.3 337h.01M257.8 379.5h.01M256.3 320h.01M256.7 359.7h.01M326.8 358.6h.01M254.3 320.2h.01M252.8 382.3h.01M316 306h.01M323.4 322.3h.01M280.4 307.5h.01M291.4 298.6h.01M295 365.5h.01M262.4 324.9h.01M305.4 344.1h.01M260.3 334.2h.01M281.4 298.7h.01M298.8 342.7h.01M282.5 380h.01M252.8 335.3h.01M251.2 326.6h.01M264.7 378.2h.01M263.3 349.9h.01M278.2 331.1h.01M323.6 355.6h.01M248.5 300.1h.01M301.4 342.5h.01M269.6 345.8h.01M249.4 328.6h.01M335.3 358.6h.01M274.9 306.3h.01M275.1 315.7h.01M254.6 320.8h.01M324.3 324.3h.01M296.4 382.4h.01M329.5 354.4h.01M280 376.9h.01M293 386.4h.01M277 306h.01M258.7 333.1h.01M247 297.7h.01M260.2 290.1h.01M280.4 377.2h.01M295.9 326.2h.01M245.3 355.2h.01M338.6 359.7h.01M314.9 374.3h.01M260.5 350.6h.01M335.5 305.6h.01M259.2 316.7h.01M304.2 294.1h.01M322.5 358h.01M272 309.1h.01M266.4 341.3h.01M277.3 332.4h.01M297.5 293.1h.01M253.1 326.4h.01M253.3 300.7h.01M247 325h.01M330.8 355.7h.01M265.2 379.6h.01M293.4 338.6h.01M276.1 316.3h.01M272.5 381.9h.01M258.3 339.9h.01M260.1 375.3h.01M314.1 345.4h.01M334.5 294.2h.01M337.8 360.5h.01M256.1 309.1h.01M335.4 300.3h.01M250 291.8h.01M320 313h.01M297.1 339.6h.01M285.2 306.1h.01M282.1 334h.01M298.1 342.3h.01M324.4 350.2h.01M277.9 336.9h.01M316.6 326.9h.01M262 305.2h.01M263.9 376.4h.01M279.2 381.4h.01M317 373.4h.01M265.5 383.2h.01M308.6 343h.01M277.8 380.9h.01M322.2 341.3h.01M332.4 308.8h.01M313.6 334.1h.01M276.2 301.8h.01M310.2 320.9h.01M319.1 367.2h.01M253.3 312h.01M266.9 343.1h.01M270.4 352.2h.01M275.1 341.8h.01" stroke="#2828a4" stroke-width="1.4" stroke-linecap="round" fill="none"/><path d="M273.6 311.5h.01M323 357h.01M253.9 316.7h.01M297.3 340.2h.01M253.6 332.4h.01M310.2 336.3h.01M322.3 360.9h.01M288.4 338.4h.01M306.9 350.7h.01M316 312.4h.01M294.1 339.4h.01M307.8 345h.01M249.8 332.5h.01M250 314.8h.01M277.9 334.5h.01M257.7 300.7h.01M242.2 360.7h.01M244.6 362.5h.01M275 309.8h.01M256.3 316.3h.01M290.4 347.4h.01M337.8 359.5h.01M280.7 337.3h.01M293.3 382.1h.01M290.1 347.4h.01M297.2 343.7h.01M310 372.8h.01M314 342.8h.01M268 309.9h.01M255.5 296.2h.01M258.3 383h.01M275.9 342.1h.01M255.1 383.9h.01M302.7 345.4h.01M310.1 352.7h.01M299.2 374.4h.01M254.9 367h.01M254.4 355.1h.01M308.2 298.5h.01M281.9 379.7h.01M292.1 382.2h.01M276 313h.01M285.8 370.9h.01M246.9 330.9h.01M307.8 349h.01M265.1 313.7h.01M329.4 356.1h.01M310.2 295.1h.01M255.8 305h.01M297.4 349.1h.01M307.8 295.1h.01M289.7 326.9h.01M290.3 343.4h.01M276.3 381.6h.01M334.1 309.6h.01M261.7 302.6h.01M266 385.7h.01M252.9 299h.01M243.3 304.8h.01M261.3 305h.01M333.6 312.2h.01M302.2 334.5h.01M258.4 369.5h.01M256.4 301.4h.01M282.2 300.9h.01M278.8 293.4h.01M263.3 309.7h.01M258.6 329.7h.01M252.1 360.1h.01M258.5 309.3h.01M316.4 326.4h.01M260.7 299.3h.01M263.1 306.4h.01M267.5 308.9h.01M314.8 303.9h.01M294.6 379.3h.01M260.8 383.4h.01M247.6 325.2h.01M319.1 320.4h.01M256.5 334.6h.01M299.6 293.5h.01M313.1 333.7h.01M258.6 378.7h.01M262 293.9h.01M291.7 344.2h.01M266.2 302.6h.01M248.7 326.5h.01M309.3 299.4h.01M273.8 346h.01M244.5 318.7h.01M253.5 327.9h.01M316.3 310h.01M297.5 381.7h.01M256.3 358.3h.01M299 332.1h.01M258.8 356.3h.01M241.2 294.9h.01M256.5 382.9h.01M254.1 324.2h.01M311.5 326.6h.01M297 381h.01M259.7 351.7h.01M282.1 343h.01M282.9 374.2h.01M281.7 318.9h.01M308.1 374.7h.01M293.9 340.2h.01M285.1 300.2h.01M315.5 345h.01M254.1 336h.01M258.6 303.9h.01M288.6 338.7h.01M259.5 335h.01M291.1 338.9h.01M264.6 346.8h.01M287.3 302.1h.01M265.2 299.6h.01M282.2 325.3h.01M319.9 313.9h.01M282.1 308.8h.01M302.1 336.2h.01M248.6 357.9h.01M308.7 341.1h.01M319 370.7h.01M285.5 324.1h.01M256.2 324.1h.01M277.3 305.7h.01M309.9 329.5h.01M253.9 293.9h.01M269 294.9h.01M289.5 328.8h.01M281.9 343.7h.01M317.1 350.4h.01M322.6 319.5h.01M321.2 363.4h.01M253.5 327h.01M317.6 318.1h.01M267.7 309h.01M253.6 357.1h.01M281.4 342.5h.01M337.3 356.1h.01M277.3 331.8h.01M254.6 318.4h.01M264.1 338.3h.01M303 340.6h.01M287.3 379h.01M286.8 379.2h.01M322.6 356h.01M255.6 322.3h.01M291.7 339.3h.01M294 297.7h.01M278.1 339.1h.01M288.2 297.8h.01M265.6 296.4h.01M257.2 325.2h.01M313.7 343.4h.01M259.9 328.5h.01M312 349.5h.01M286.9 330.3h.01M264.5 309.2h.01M264.2 307.3h.01M269.3 343.5h.01M256.4 314.5h.01M288.1 296.3h.01M315.1 384.8h.01M250.3 331.3h.01M299.5 339h.01M291.3 337h.01M278.8 340.9h.01M305.3 340.6h.01M272.9 303.8h.01M266.5 352h.01M308.2 337h.01M242.1 357.9h.01M244.3 291.7h.01M296.9 364.5h.01M290.6 336.6h.01M320.9 347.9h.01M292.8 351.9h.01M251.3 314.5h.01M251.4 367.4h.01M290.7 364.1h.01M314.6 338.2h.01M318.7 321.8h.01M273.8 380.5h.01M292 334.9h.01M262.7 305.4h.01M315.8 371.1h.01M316.7 299.9h.01M275.7 309.7h.01M261.9 327.9h.01M287.5 324.8h.01M287.1 342.8h.01M258.6 384.9h.01M320 342.9h.01M254.3 372.2h.01M248.1 331.4h.01M257.6 294.5h.01M255.2 358.3h.01M310 343.3h.01" stroke="#343cc0" stroke-width="1.2" stroke-linecap="round" fill="none"/><path d="M297.1 295.1h.01M320.5 326.4h.01M295.1 365.7h.01M280.9 314.4h.01M302.5 340.4h.01M265.8 297.8h.01M253.7 313.4h.01M278.1 314.5h.01M317.5 313.9h.01M310.5 339.9h.01M281.7 329.9h.01M299 378.4h.01M306.7 344.1h.01M306.2 343.2h.01M270 305.3h.01M286 311.4h.01M255.8 294.2h.01M258.3 321.3h.01M258.3 297.8h.01M299.6 352.3h.01M258.2 319.5h.01M283.6 320.4h.01M308.5 375.7h.01M280 321.3h.01M316.7 343.6h.01M336.1 317.2h.01M305.7 349.6h.01M318.7 377.1h.01M258.7 312.6h.01M270.2 345h.01M256.7 317.8h.01M332 300.2h.01M303.9 340.4h.01M290 300.6h.01M321.4 299.8h.01M297.5 336.1h.01M277.4 299.3h.01M273.4 383h.01M309.2 315.3h.01M267 298.1h.01M290.4 375.4h.01M312.2 336.2h.01M285.5 300.3h.01M288.1 347.1h.01M279.6 308.8h.01M272.9 377h.01M287.4 317.8h.01M248.2 301.9h.01M252.3 369.3h.01M276 344.4h.01M261.1 317.6h.01M280.5 319.8h.01M257.4 315.7h.01M316.8 372.6h.01M268.4 384.3h.01M291.6 300.6h.01M289.8 355.4h.01M296.4 339.6h.01M331.3 353.1h.01M289.9 332.4h.01M289.4 295.8h.01M264.4 294.7h.01M295.9 355.3h.01M249.7 360.9h.01M248.7 297.3h.01M267.2 346.5h.01M282.8 347.8h.01M305 336.9h.01M324.3 349.6h.01M253.2 379.5h.01M274.5 375.9h.01M263.4 330.5h.01M307.6 345.1h.01M246.8 357.9h.01M332.6 301.4h.01M251.6 325.7h.01M299.6 338.3h.01M321.1 320.1h.01M255.7 380.6h.01M251.6 333.6h.01M295.6 357.6h.01M288 323.2h.01M256.8 330.2h.01M323 293.1h.01M281.5 339.2h.01M314.2 365.2h.01M253.6 368.8h.01M304.6 350.1h.01M311.7 304.8h.01M307.3 350.1h.01M253.7 318.5h.01M310.3 343.8h.01M259 297.9h.01M311.2 335.9h.01M317.2 333.9h.01M295.9 357.6h.01M242.9 351.2h.01M252.3 331.8h.01M278.1 337.7h.01M264.5 338.6h.01M321 365.9h.01M257.7 367.7h.01M313.3 324.6h.01M248 311.8h.01M328.9 297.2h.01M255.7 300.6h.01M248.5 378.6h.01M303.2 300.7h.01M319.2 320.9h.01M269.1 385.2h.01M285.4 382.9h.01M325.9 313.3h.01M265.5 379.7h.01M289.4 342.2h.01M271.7 341.7h.01M259.1 326.1h.01M258.6 373.6h.01M268 385.3h.01M242.9 293.9h.01M278.4 324h.01M279.4 376h.01M297 334.2h.01M280.9 328.8h.01M277.1 343.7h.01M317.6 356.9h.01M336 297h.01M299.9 339.8h.01M293.9 346.4h.01M275.6 305.5h.01M281.3 339h.01M310.5 337.9h.01M287.8 375.1h.01M262.8 355.3h.01M269.2 308.8h.01M288.1 379h.01M268.8 313.3h.01M280.5 334.9h.01M280 380.2h.01M276.6 338h.01M254.1 319.2h.01M292.6 297.2h.01M336.5 304.6h.01M305.5 342.1h.01M266.7 291.1h.01M309.3 339.2h.01M335.4 309.5h.01M283.4 336.1h.01M241.4 301.6h.01M289.4 346.5h.01M273.8 312.9h.01M320.1 356.2h.01M291.6 383.6h.01M255.9 329.5h.01M285.3 293.3h.01M284.2 376.5h.01M288.4 384.6h.01M283.7 317.1h.01M329.3 294.6h.01M306.8 381.3h.01M262.7 299.6h.01M266.9 353h.01M308.7 338h.01M308.9 347.9h.01M243.3 327.2h.01M249.5 384.4h.01M309.1 346.2h.01M254.8 321.7h.01M268.3 347h.01M321.6 372.9h.01M317.1 334.5h.01" stroke="#1e8a30" stroke-width="1.2" stroke-linecap="round" fill="none"/><path d="M275.2 301.4h.01M285.2 321.3h.01M291.9 373.5h.01M308.5 340.2h.01M294.4 342.1h.01M279.5 378.6h.01M270.7 338.9h.01M274.4 345.3h.01M312.4 334.3h.01M319 353.4h.01M253.4 359.4h.01M261.7 292.9h.01M257.1 302.7h.01M244.4 300h.01M278.6 322.9h.01M252.7 319.5h.01M287.1 326.8h.01M274.6 345.6h.01M332.7 304h.01M276.2 306.6h.01M311.4 344.4h.01M287.9 374.8h.01M314.4 342h.01M267.6 302.1h.01M321.3 350.9h.01M277.5 348.7h.01M260.8 296h.01M277 310.7h.01M315.8 300.7h.01M244.6 353.6h.01M302 337.1h.01M316.2 340h.01M285.6 330.5h.01M301.3 301.2h.01M245.6 296.9h.01M270.1 343.6h.01M258 378.7h.01M259.7 302h.01M288.6 351.1h.01M255 358.7h.01M276 338.5h.01M254.7 378.2h.01M260.9 336.8h.01M256.3 368.8h.01M268.2 343.8h.01M267.2 299.7h.01M304.3 351.6h.01M300.3 380.3h.01M280.8 295.9h.01M299.1 338.1h.01M243 305h.01M248.8 293.6h.01M269.5 347.4h.01M302.1 347h.01M281.5 302h.01M295.9 357.9h.01M330.9 321.1h.01M319.7 351.5h.01M260 295.8h.01M339 288.2h.01M259.8 335.8h.01M252 362.3h.01M259.9 336.6h.01M255.9 296.6h.01M281.6 370.6h.01M319.9 353.6h.01M256.5 329.1h.01M324.3 293.5h.01M328.4 295h.01M255.6 358.9h.01M307.6 297.9h.01M291.2 379.8h.01M266.6 347.9h.01M330.2 302.2h.01M282.3 316.7h.01M278.1 375.3h.01M295 380.9h.01M253.4 294.4h.01M266.8 309h.01M283.9 331h.01M303.9 345h.01M283.6 308.9h.01M259.6 295h.01M278.5 332h.01M318.6 380.7h.01M293.9 326.3h.01M306.9 306.7h.01M322.1 380.3h.01M316.3 292.1h.01M256.1 336.7h.01M259.9 301.7h.01M318.4 384.6h.01M257.4 379.2h.01M281.3 317.9h.01M244.7 305.6h.01M323.6 351.8h.01M286.2 317.7h.01M273.8 357h.01M281.5 311.6h.01M281.1 347h.01M277.7 309.3h.01M269.4 357.8h.01M279.3 335.6h.01M318.9 357.7h.01M328.6 304.3h.01M304.9 372.7h.01M255.6 363.3h.01M304.9 374.4h.01M284 308.8h.01M282 326h.01M313.2 303.7h.01M335.7 304.7h.01M244.9 302.6h.01M278.9 349.5h.01M332 295.6h.01M274.8 300.9h.01M291.9 354.4h.01M283.3 319.1h.01M279.6 295.4h.01M263.4 310.4h.01M279.2 334.5h.01M281.8 337.3h.01M247.4 296.4h.01M318.9 362.2h.01M259.4 297.2h.01M279.7 318.6h.01M304.3 300h.01M303.1 342.2h.01M289.6 371.1h.01M329.9 355.3h.01M313.3 371.5h.01M256.8 329.1h.01M270.8 304.1h.01M289.8 329.7h.01M322.8 358.8h.01M257.4 373.3h.01M241 319h.01M260.4 381.6h.01M244.9 373.2h.01M299.5 340.3h.01M278.1 323.7h.01M319.3 318.8h.01M242.7 296.6h.01M282.2 329.3h.01M260.8 375.4h.01M268.4 306.2h.01M321.5 360.6h.01M258.8 356.7h.01M244 298.1h.01M287.3 328.3h.01" stroke="#34b846" stroke-width="1.6" stroke-linecap="round" fill="none"/><path d="M246.8 319.2h.01M323.1 357.1h.01M285.4 311.6h.01M294.9 337.6h.01M322.1 368.1h.01M277.6 331.2h.01M272.7 296.1h.01M254.4 371.1h.01M271 309.7h.01M334.1 312.8h.01M252.2 295.1h.01M274.8 348.6h.01M291.5 357h.01M254.1 377.2h.01M282.8 304.4h.01M335.3 356.8h.01M257.4 298.8h.01M290.2 338.3h.01M256 361h.01M315.2 361.2h.01M325 296.7h.01M287.5 345.3h.01M285.3 326.5h.01M306.5 349h.01M317.8 314.1h.01M286.6 384h.01M290.1 334h.01M266.1 310.3h.01M258.7 289.4h.01M279 302.3h.01M279.5 330.4h.01M260.8 377.3h.01M301.7 331h.01M328.5 291.5h.01M271.1 347.6h.01M252.1 361.4h.01M337.2 315.6h.01M255.4 370.9h.01M254.7 383.8h.01M249.5 299h.01M287.9 335.8h.01M311.3 336.2h.01M248.4 329.7h.01M296.3 352h.01M258.4 372.9h.01M250.5 310h.01M307.8 299.5h.01M324.8 291.2h.01M279.6 323.6h.01M263.2 303h.01M245 308.1h.01M246.6 331.9h.01M257.6 331.5h.01M280.8 384.1h.01M327 358.2h.01M273 382.3h.01M246.9 298h.01M287.5 330.5h.01M278.1 332.2h.01M243.5 329.5h.01M269.9 344.8h.01M253.2 379.1h.01M299 337h.01M315.2 346.4h.01M312.4 348.1h.01M304.6 343h.01M282.1 376.2h.01M253 361.4h.01M308.4 339.7h.01M311.4 359.8h.01M247.9 338.5h.01M256.5 302.8h.01M253.4 322.1h.01M268.4 351.4h.01M252.5 313.3h.01M292.3 357.4h.01M296.5 350h.01M323.7 326.7h.01M255.9 370.7h.01M314.4 347.7h.01M318.8 314.5h.01M337.5 310.7h.01M306.5 295.1h.01M263.7 298.1h.01M272.6 341h.01M247.5 325.1h.01M328.8 361.9h.01M295 295.2h.01M269.6 353.9h.01M311.2 379h.01M242.7 356h.01M242.4 324.7h.01M253.4 292.1h.01M246.8 298.5h.01M302 357.5h.01M257.9 322.9h.01M251.8 328.9h.01M291.4 332.6h.01M287 345.5h.01M258.8 375h.01M254.3 382.1h.01M300 337.9h.01M287 333.8h.01M279.6 305.8h.01M314.6 330.7h.01M279.6 329.2h.01M250.7 354.7h.01M244.5 374.1h.01M286.4 299.1h.01M281.4 321.1h.01" stroke="#4cdc5c" stroke-width="1.9" stroke-linecap="round" fill="none"/><path d="M260.9 291.7h.01M272.4 294.8h.01M252.5 294.8h.01M309.9 293.8h.01M327.7 292.7h.01M332.9 305.2h.01M336 303.2h.01M340.2 300h.01M282.8 297.9h.01M281.8 301.1h.01M288 303.2h.01M287 306.3h.01M294.3 304.2h.01M306.8 303.2h.01M317.2 305.2h.01M319.3 310.5h.01M316.2 311.5h.01M322.5 313.6h.01M253.6 312.6h.01M280.7 311.5h.01M278.6 315.7h.01M277.6 317.8h.01M279.7 323h.01M268.2 324h.01M244.2 307.3h.01M331.9 316.7h.01M338.1 318.8h.01M246.3 325.1h.01M250.4 326.1h.01M253.6 328.2h.01M304.7 323h.01M309.9 327.2h.01M280.7 332.4h.01M282.8 335.5h.01M258.8 335.5h.01M256.7 337.6h.01M318.3 336.6h.01M277.6 340.7h.01M272.4 341.8h.01M275.5 346h.01M269.2 347h.01M271.3 349.1h.01M305.8 339.7h.01M312 342.8h.01M312 346h.01M316.2 347h.01M285.9 344.9h.01M336 344.9h.01M245.2 353.3h.01M247.3 354.3h.01M251.5 354.3h.01M263 353.3h.01M268.2 357.4h.01M291.1 352.2h.01M309.9 351.2h.01M320.4 352.2h.01M322.5 355.3h.01M323.5 359.5h.01M331.9 357.4h.01M335 358.5h.01M258.8 362.7h.01M256.7 365.8h.01M312 361.6h.01M314.1 364.7h.01M290.1 364.7h.01M288 365.8h.01M283.8 367.9h.01M298.5 367.9h.01M307.8 367.9h.01M258.8 374.1h.01M261.9 376.2h.01M263 379.4h.01M260.9 381.4h.01M279.7 373.1h.01M282.8 376.2h.01M287 377.3h.01M280.7 382.5h.01M304.7 374.1h.01M307.8 375.2h.01M311 373.1h.01M316.2 377.3h.01M319.3 380.4h.01M267.1 377.3h.01M271.3 375.2h.01M250.4 382.5h.01M293.2 385.6h.01M318.3 382.5h.01" stroke="#58e868" stroke-width="2.1" stroke-linecap="round" fill="none"/><path d="M297 355.3h.01M312 357.9h.01M254.6 365.8h.01M282.8 370.6h.01M317.2 375.6h.01M296.4 381.4h.01M304.3 318.8h.01" stroke="#e8204a" stroke-width="1.8" stroke-linecap="round" fill="none"/></g>
</svg>
<svg x="33.6" y="390.4" width="100.3" height="99.6" viewBox="33.6 390.4 100.3 99.6" overflow="hidden">
<rect x="33.6" y="390.4" width="100.3" height="99.6" fill="#080808"/>
<g filter="url(#hb)" fill="#000" opacity="0.85"><ellipse cx="57.6" cy="433.4" rx="8" ry="11.5"/><ellipse cx="94.1" cy="430.4" rx="6.5" ry="8.5"/><ellipse cx="65.6" cy="455.4" rx="4.5" ry="5.5"/></g>
<g filter="url(#sb)"><path d="M63 404.5h.01M37.2 396.2h.01M44.4 412.4h.01M43.6 421.3h.01M44.8 406.5h.01M102 413.7h.01M98.7 418.7h.01M76.7 415.9h.01M43.2 489.2h.01M59.8 391.3h.01M95.2 396.5h.01M44.3 413.4h.01M67.4 421.4h.01M111.3 428.5h.01M123.4 460.1h.01M121.8 433.5h.01M67.6 448.1h.01M133.2 398.8h.01M101.7 472.2h.01M88.9 403.2h.01M133.1 423.2h.01M125.6 437.7h.01M45.9 443.5h.01M63.4 421.4h.01M122.5 479.6h.01M91.2 455.6h.01M100.1 435.2h.01M110.3 450.7h.01M132.6 470h.01M122.1 394.7h.01M80.5 405.9h.01M64.5 398.2h.01M120.3 435.8h.01M89.4 472.3h.01M110.4 476.4h.01M37.8 401h.01M81.2 448.6h.01M131.8 425.6h.01M47.9 415.1h.01M46.6 464.5h.01M88.2 415.6h.01M109.2 428.7h.01M53.7 398.1h.01M111.3 472.6h.01M104.6 485.4h.01M129.7 391.5h.01M47.5 440.5h.01M85.4 425.8h.01M55.6 417.1h.01M130.9 439.5h.01M75.9 463.8h.01M106.8 469.7h.01M111.9 421.3h.01M107.4 417.4h.01M124.1 402.9h.01M51.8 404h.01M65.1 391.8h.01M93.8 445h.01M48.4 463.9h.01M75 444.9h.01M121.9 440.2h.01M45 423.8h.01M49.4 478.4h.01M57.8 398h.01M78.9 424h.01M111.8 393.2h.01M56.3 422h.01M44.9 441.5h.01M122.8 481.8h.01M92.3 392.1h.01M97.4 405.7h.01M87.3 452.1h.01M128 446.9h.01M59.3 399.4h.01M108.7 425.8h.01M65.2 444.4h.01M100.7 450.5h.01M35.4 473.3h.01M99.8 476.6h.01M100.5 455.7h.01M126.7 421.9h.01M124.5 416.6h.01M79.5 485.9h.01M97.6 442.2h.01M35.1 429.8h.01M47.2 446.7h.01M131.1 416.6h.01M126.3 482h.01M51.3 478.1h.01M104.7 407.5h.01M48.4 451.4h.01M120.5 420.7h.01M110.5 454h.01M46.8 460.4h.01M62.9 407.7h.01M79.6 394.5h.01M120.8 394.6h.01M131.8 488.1h.01M122.4 449.6h.01M132.1 395.4h.01M70.9 437.7h.01M50.3 458.6h.01M115.3 434.9h.01M39.7 423.6h.01M119.2 488.1h.01M72.3 392.4h.01M120.4 460.4h.01M38.3 440.3h.01M70.2 488.5h.01M90.8 482.5h.01M75.6 425.1h.01M86.7 399.8h.01M74.3 421.9h.01M51.7 473.4h.01M91 461.8h.01M94.2 413.1h.01M61.8 409.2h.01M96.5 421.1h.01M47.1 471.8h.01M47.1 487h.01M131.8 415h.01M121.3 423.7h.01M87.3 435.6h.01M87.8 458.3h.01M110.2 428.3h.01M103 477.2h.01M84.7 437.3h.01M80.1 409h.01M94.4 416.9h.01M71.1 482.5h.01M62.8 423.8h.01M99.4 450.4h.01M118.4 403.4h.01M60.1 408.3h.01M48.3 429.8h.01M110.4 472.9h.01M53.8 460.8h.01M46.8 414.4h.01M114.9 461.6h.01M83.2 478.3h.01M45.2 420.2h.01M101.1 403.7h.01M78.5 433.1h.01M51.6 418.2h.01M60.1 444.5h.01M67.8 447h.01M66.8 462h.01M121.2 451.6h.01M116.9 436.7h.01M42.6 479.2h.01M53.8 398.3h.01M108.2 400.3h.01M84.8 433.1h.01M39.3 435.6h.01M45.5 459.9h.01M117.7 432.2h.01M93.5 486.4h.01M57.6 449.7h.01M35.5 481.2h.01M39.8 433.1h.01M70.5 444.7h.01M59 408.7h.01M86.4 471.2h.01M130.3 431.7h.01M45.9 477h.01M113.8 404.6h.01M124.5 439.9h.01M93 453.1h.01M108.4 411.9h.01M69.4 445.1h.01M96.7 462.1h.01M56.5 410.3h.01M101.1 432.9h.01M130.8 485.1h.01M129.3 487.5h.01M122 469.3h.01M39.4 469.5h.01M117.4 407.8h.01M45.2 479.8h.01M51.4 395.7h.01M69.5 425.4h.01M64.2 409.4h.01M79.5 474h.01M37.7 438.2h.01M127.3 470.6h.01M37 447h.01M53.4 406.1h.01M120 481h.01M132.9 392.5h.01M35.8 424.3h.01M71.3 401.6h.01M124.8 436.8h.01M131.9 395.5h.01M80.6 401.3h.01M130.5 479.3h.01M45.7 425.8h.01M130.6 449.5h.01M73.8 451h.01M80.9 474.1h.01M43.2 447.5h.01M124.6 393.9h.01M93.5 472.9h.01M87.9 399.4h.01M128.7 409.2h.01M114.2 402h.01M44.6 456.4h.01M73.8 474.3h.01M40.2 401.4h.01M42.3 435.1h.01M50.8 407h.01M79.2 467.5h.01M112.5 430.4h.01M68.6 416.6h.01M102.7 427.6h.01M104 402.4h.01M56.3 444.8h.01M34.7 479.3h.01M117.5 433.9h.01M44.1 428.2h.01M68.5 425.8h.01M77.5 405.1h.01M40.3 398.5h.01M48.3 410.3h.01M75.5 405.3h.01M48.7 448.2h.01M90.3 418.4h.01M104.1 443.4h.01M54.7 475.9h.01M90.6 404.8h.01M83.6 395.6h.01M64.7 478.3h.01M73.1 440.1h.01M37.4 434.4h.01M120.6 480.6h.01M79.8 487.9h.01M131.1 402h.01M115.6 415.3h.01M56.2 410.2h.01M131.9 476.6h.01M75 471.4h.01M103.4 428h.01M115.1 473.9h.01M67.9 481.1h.01M69.6 412.3h.01M122.4 469.4h.01M49.8 466.8h.01M44.9 489h.01M123.9 426.8h.01M124.5 435.6h.01M94.4 480.3h.01M36.4 391.7h.01M65.2 444h.01M107.2 410.7h.01M41.2 391.2h.01M34.6 411.3h.01M127.8 432.3h.01M60.5 409h.01M77.8 415h.01M75.7 486.9h.01M76 395.2h.01M40.1 461.3h.01M86.5 449.3h.01M129.1 420.2h.01M128.8 478.8h.01M90.2 464.2h.01M55.1 450h.01M111.9 446.1h.01M119.2 414.6h.01M112.4 460.7h.01M120 445.1h.01M105.4 419.7h.01M130.7 460h.01M133 432.3h.01M84.9 467.1h.01M130.4 400.9h.01M121.6 483.1h.01M71 426.7h.01M44.5 457.3h.01M77 427.6h.01M54.2 474h.01M38 482.1h.01M47.6 434.2h.01M60.5 396.9h.01M41 402.2h.01M36 415.1h.01M65.2 445.8h.01M124.1 441.3h.01M119.7 431.3h.01M117.4 414.4h.01M72.1 413.3h.01M71.6 439.4h.01M131.7 465.2h.01M74.4 418.9h.01M106.8 453.5h.01M130.4 481.7h.01M41.4 478.9h.01M43 422.2h.01M64.4 414.1h.01M72.3 411.9h.01M81.6 417.9h.01M86.4 487.5h.01M39.4 401h.01M50 411.9h.01M129.5 471.2h.01M81.2 489.2h.01M38.7 395h.01M51.9 470h.01M115.1 424.5h.01M123 430.3h.01M93.2 467.5h.01M109.4 446.4h.01M67.5 407.4h.01M75.5 485.5h.01M132.6 477.3h.01M106 392.6h.01M82.4 487.9h.01M84.7 454.6h.01M94.4 446.3h.01M99 439.6h.01M75.5 484.5h.01M72 452.2h.01M128.6 419.8h.01M47.2 392.1h.01M45 413.7h.01M82.5 393.4h.01M123.7 446.9h.01M97.9 485.7h.01M129.5 480.2h.01M112.8 418.8h.01M123.4 392.9h.01M45.6 444.6h.01M38.5 402.4h.01M131 425.3h.01M47.5 476.1h.01M51.5 474.2h.01M71.6 416.9h.01M115.6 413.8h.01M129.6 398.3h.01M40.1 405.1h.01M128.3 417.3h.01M36.9 449.8h.01M75.6 473.9h.01M118.1 441.4h.01M94.2 484h.01M70 483.3h.01M87.3 398.4h.01M51.4 466h.01M132.6 393.1h.01M48.4 467.4h.01M117.7 405.8h.01M72.2 449.7h.01M91.6 483.5h.01M123 419.6h.01M131.5 419h.01M66.4 434.2h.01M118 395.8h.01M125 469.4h.01M82.5 434.1h.01M108.7 469.3h.01M93.9 395.7h.01M79 421.4h.01M80.2 479h.01M52.1 485.1h.01M73.2 461.6h.01M101.3 466.7h.01M108.9 414.8h.01M129.6 403.2h.01M42.9 403.8h.01M37.4 401.6h.01M75.1 450h.01M78.8 397.1h.01M46.7 394h.01M94.8 419.1h.01M88.2 424.5h.01M120 436.8h.01M56.2 469h.01M82.5 451.2h.01M125.6 398.2h.01M68.3 425.2h.01M63.4 395.1h.01M70.1 464.3h.01M131.5 475.3h.01M120.4 410.1h.01M39.9 449.1h.01M130.6 394.5h.01M79.2 427.2h.01M112 469.4h.01M109.8 469h.01M35.9 460.6h.01M118.6 422.3h.01M37.8 472.9h.01M123 392.7h.01M89.7 420.6h.01M104.7 439.2h.01M118.7 472.1h.01M53.7 450.4h.01M49.1 402.1h.01M102.7 431.8h.01M122.9 481.5h.01M115.1 437.6h.01M47.8 423.3h.01M35.1 441.2h.01M113.1 394.5h.01M129 391.3h.01M130.7 421.6h.01M60 482.3h.01M81.4 437.2h.01M126.1 487.3h.01M36.9 456.2h.01M43.4 447.1h.01M74.3 466.2h.01M105.4 455h.01M116.4 435.1h.01M64.8 397.5h.01M75.4 463.7h.01M37.3 418.7h.01M132.6 426.4h.01M129.5 461.2h.01M53.8 416.3h.01M113.9 459.9h.01" stroke="#111111" stroke-width="2.0" stroke-linecap="round" fill="none"/><path d="M103.5 456.6h.01M116.2 431.2h.01M126.6 453.2h.01M91.1 486.1h.01M92.6 442.1h.01M39.1 396.6h.01M122.4 441.7h.01M72.4 407.2h.01M81.4 455.2h.01M48 412.4h.01M71.4 397.9h.01M92.1 473.7h.01M123.5 452.9h.01M56.5 480.7h.01M92.4 471.3h.01M51.7 396.8h.01M47 393.8h.01M87.5 441.6h.01M120.6 453.9h.01M84 392.5h.01M123.7 436.2h.01M37.8 450.5h.01M123.9 396.8h.01M100.8 447h.01M34.2 416.1h.01M45.8 437.4h.01M81.2 420.8h.01M103.2 473.4h.01M36.1 429.1h.01M70.9 461.5h.01M73.3 406.8h.01M110.4 418.1h.01M73.6 467.8h.01M71.2 405.2h.01M75.7 402.5h.01M88.5 392.4h.01M51.5 471.3h.01M122.7 402.8h.01M60.1 417.1h.01M108.9 428.9h.01M37.6 423.3h.01M39.8 402.5h.01M74.2 480.1h.01M67.7 449.7h.01M82.3 440h.01M116.4 408.9h.01M48 413.2h.01M69.4 419.2h.01M56.4 410.6h.01M96.6 408.7h.01" stroke="#2e2e2e" stroke-width="0.8" stroke-linecap="round" fill="none"/><path d="M68 410.3h.01M116.2 417.8h.01M64.1 403.4h.01M90.2 417.9h.01M101.7 429.7h.01M93.7 442.7h.01M125.9 415.4h.01M118.7 409.5h.01M89.1 458.2h.01M36.3 421.2h.01M74.7 406.3h.01M108.7 402h.01M76 409.8h.01M104.4 459.4h.01M112.6 442.8h.01M94.2 480.1h.01M75.4 484.2h.01M121.8 400h.01M78.3 461.9h.01M92.4 393.6h.01M71.5 472.3h.01M77.6 423.2h.01M58.9 464.7h.01M38.7 465.7h.01M116.6 469.9h.01M110.4 408h.01M48.1 476.8h.01M89.9 419.1h.01M74.1 429h.01M117.5 466h.01" stroke="#585858" stroke-width="0.9" stroke-linecap="round" fill="none"/><path d="M70.1 402.5h.01M79.1 406.7h.01M87.9 396.7h.01M116.1 401.9h.01M104.6 401.9h.01M63.9 422.1h.01M71.2 421.7h.01M82.7 419.2h.01M71.2 426.9h.01M106.7 425.5h.01M111.9 422.1h.01M84.7 438.4h.01M86.8 436.7h.01M111.9 437.4h.01M129.6 438h.01M94.1 450.3h.01M87.9 453h.01M104.6 454.1h.01M40.9 455.5h.01M63.9 463.5h.01M74.3 464.5h.01M79.1 465.6h.01M99.4 467.6h.01M64.9 468.7h.01M95.2 461.4h.01M105.6 461.4h.01M129.6 476h.01M88.9 477h.01M61.8 478.5h.01M106.7 480.2h.01M67 483.9h.01M54.5 485.8h.01M47.2 465.6h.01M58.7 415.5h.01M50.3 415.5h.01M37.8 417.5h.01M125.5 415.5h.01M100.4 417.5h.01M96.2 409.2h.01M108.8 409.2h.01" stroke="#bdbdbd" stroke-width="1.25" stroke-linecap="round" fill="none"/></g>
</svg>
<svg x="136.9" y="390.4" width="100.3" height="99.6" viewBox="136.9 390.4 100.3 99.6" overflow="hidden">
<rect x="136.9" y="390.4" width="100.3" height="99.6" fill="#030303"/>
<g filter="url(#sb)"><path d="M180.8 464.8h.01M164.8 409.9h.01M178.5 478.1h.01M149.5 477.7h.01M164.1 467.7h.01M176.5 452.2h.01M154.8 433.2h.01M188.6 438.7h.01M176.4 399.3h.01M176.6 476.9h.01M191.4 441.6h.01M160.9 402.5h.01M224.3 417.5h.01M146.5 391.4h.01M180.3 461h.01M215.6 474h.01M179.2 439.2h.01M178.3 411.2h.01M168.5 464.9h.01M188.9 400.8h.01M158.7 401.1h.01M162.6 414.7h.01M198.8 433.5h.01M151.2 406.8h.01M185.4 394.3h.01M180.3 397.2h.01M161.4 408.2h.01M147.8 417.8h.01M186.5 455.8h.01M166.4 430.2h.01M166.5 394.3h.01M161.5 398.4h.01M157.2 432.2h.01M172.3 445.5h.01M190.7 440.1h.01M175.2 423.1h.01M144.1 404.7h.01M192.5 453.5h.01M219 487.9h.01M175.3 456.4h.01M169.1 417.2h.01M188.8 452.1h.01M179.9 484.3h.01M192.1 433.6h.01M183.4 435.4h.01M194.1 470h.01M172.1 412.1h.01M162.8 415.5h.01M195.4 444.5h.01M179.8 404.4h.01M198.1 467.4h.01M230.9 467.4h.01M196 442.2h.01M192.8 469.1h.01M212.8 431.1h.01M172.3 418.4h.01M169 425h.01M167.1 455.7h.01M172.9 459.4h.01M180.2 470.8h.01M191.4 440.1h.01M178.3 422.2h.01M204.7 466.6h.01M149.3 433h.01M202 469.6h.01M192.9 463.6h.01M177.9 429.2h.01M203.2 424.2h.01M197.1 482.6h.01M195.6 446.6h.01M184.3 476.8h.01M187.1 443.6h.01M193.2 427.5h.01M163.5 429.2h.01M141.2 400.2h.01M153.7 441.5h.01M146.2 402.7h.01M174.7 449h.01M171.2 408.5h.01M177 463.6h.01M141.2 443.6h.01M167.8 394.4h.01M177.8 410.7h.01M180.5 396h.01M182.8 450.5h.01M157.5 422.6h.01M197.2 435.8h.01M156.5 477.1h.01M181.7 444.8h.01M156.2 456.9h.01M168.4 419.7h.01M186.8 474.5h.01M151.2 405h.01M161.9 412.4h.01M160.9 431.1h.01M193 458.1h.01M197.8 477.9h.01M149.8 395.7h.01M205.4 459.1h.01M207.1 482.4h.01M174.5 468.9h.01M155.6 478.1h.01M187.1 480.3h.01M141.8 420.8h.01M148.3 413.3h.01M165.8 430.8h.01M162.6 400.1h.01M195.4 442h.01M202.8 420.7h.01M154.2 393.9h.01" stroke="#343434" stroke-width="0.9" stroke-linecap="round" fill="none"/><path d="M196 482.9h.01M212.4 458.8h.01M191.6 455.1h.01M213 478.6h.01M153.8 394.2h.01M160 468.1h.01M166.7 406.5h.01M143.3 447.1h.01M234.9 483.2h.01M177.1 425.4h.01M143.7 402.6h.01M192.9 422.8h.01M171.1 417.4h.01M176.4 402.1h.01M169.3 426.7h.01M189.6 393.8h.01M168.5 421.6h.01M161.2 437.8h.01M195.7 432.2h.01M204.4 468.7h.01M197.4 449.2h.01M212.5 481h.01M184.3 485.4h.01M213.1 467.1h.01M165.9 465.4h.01M186.7 401.3h.01M163.1 391.4h.01M220.2 489.2h.01M194.1 455.5h.01M204.4 431h.01M170 486.8h.01M201.3 462.1h.01M153.5 483.1h.01M175.7 480.9h.01M208.7 486.8h.01M199.4 470.7h.01M156.9 473.5h.01M182.6 485.2h.01M160.9 419.6h.01M226.2 489.1h.01M164.2 402.2h.01M161.8 391.4h.01M164.4 401.6h.01M163 430.5h.01M173.4 443.4h.01M178.9 440.9h.01M189.7 420.3h.01M177.3 467.3h.01M206.2 486.6h.01M174.8 441.7h.01M200.5 463.6h.01M184.5 449.5h.01M171.2 406h.01M219.7 473.8h.01M180.9 446h.01M174.3 406.3h.01M212.8 454.8h.01M191.3 422.6h.01M188.4 446.7h.01M171.3 429.7h.01" stroke="#777" stroke-width="1.0" stroke-linecap="round" fill="none"/><path d="M150.5 437.4h.01M139 456.2h.01M155.7 462.4h.01M169.3 462.4h.01M201.6 448.9h.01M187 455.1h.01M198.5 460.3h.01M205.8 467.6h.01M219.4 478.1h.01M146.3 412.9h.01M139 409.2h.01M159.9 397.7h.01M232.9 396.7h.01M236.1 438.4h.01M207.9 429h.01M212.1 433.2h.01M215.2 426.9h.01M191.2 448.9h.01M181.8 414.4h.01M164 415.5h.01M168.2 438.4h.01M156.7 448.9h.01M204.7 400.8h.01M217.3 408.1h.01" stroke="#b0b0b0" stroke-width="1.2" stroke-linecap="round" fill="none"/><path d="M177.6 396.7h.01M177.6 399.8h.01M186 407.1h.01M198.5 412.3h.01M205.8 412.3h.01M185.5 415.5h.01M188 419.2h.01M167.2 425.5h.01M210 421.7h.01M179.3 440.5h.01M186 445.7h.01M197 445.1h.01M193.3 459.7h.01M213.1 470.8h.01M213.7 473.9h.01M211.6 472.2h.01M168.2 479.8h.01M173.4 482.3h.01M188.7 478.5h.01M182.8 481.2h.01" stroke="#fff" stroke-width="1.9" stroke-linecap="round" fill="none"/></g>
</svg>
<svg x="240" y="390.4" width="100.3" height="99.6" viewBox="240 390.4 100.3 99.6" overflow="hidden">
<rect x="240" y="390.4" width="100.3" height="99.6" fill="#060b07"/>
<g filter="url(#hb)" fill="#000" opacity="0.85"><ellipse cx="264" cy="433.4" rx="8" ry="11.5"/><ellipse cx="300.5" cy="430.4" rx="6.5" ry="8.5"/><ellipse cx="272" cy="455.4" rx="4.5" ry="5.5"/></g>
<g filter="url(#sb)"><path d="M286.3 456.8h.01M319.1 468.5h.01M294.6 459.9h.01M301.5 460.6h.01M287.2 431.5h.01M306.2 404.1h.01M272.3 400.3h.01M302.2 478.7h.01M300.3 466.9h.01M281 449h.01M338.2 449.4h.01M284.8 420h.01M279.7 402.4h.01M306.6 478.3h.01M286.5 453.5h.01M284 486.7h.01M322.6 467.8h.01M305.4 468.9h.01M280.2 477.2h.01M270.1 467.2h.01M292 460.4h.01M279.1 452.7h.01M301.7 392.2h.01M284.4 421.8h.01M251.8 439h.01M274.2 486h.01M257.9 462.6h.01M241.2 464.4h.01M253.9 457.5h.01M245.1 453.1h.01M283.6 419.8h.01M291.3 430.7h.01M283.7 452.2h.01M282 468h.01M282.5 444.8h.01M337.6 478.4h.01M265.8 405.3h.01M275.4 428.9h.01M297.4 407.8h.01M288 454.4h.01M293.2 450.9h.01M279.8 461.4h.01M284.2 453h.01M300 469.5h.01M301.6 408.7h.01M274.4 472h.01M314.8 452.4h.01M315.8 455.5h.01M316.1 419.9h.01M281.4 420.9h.01M272.5 462.8h.01M288 456.5h.01M285.2 446.7h.01M275.7 442h.01M263.6 414.4h.01M306.2 470.6h.01M317.8 429.5h.01M283.7 462.1h.01M303.8 469.8h.01M250.3 443h.01M272.2 406.3h.01M280.1 412.6h.01M309 415.3h.01M306.3 470.1h.01M271.9 477.3h.01M277.8 453.2h.01M299.4 459.1h.01M312.1 462.7h.01M317 470.8h.01M279.7 472.3h.01M293 413.8h.01M320.7 462.2h.01M302.2 484.6h.01M288.3 476h.01M295.9 476.4h.01M277.5 439.2h.01M274.5 431.6h.01M281 482h.01M276.1 483.5h.01M271.8 461.9h.01M294.7 487.7h.01M291.9 405.5h.01M260.4 404.5h.01M290.5 475.7h.01M243.2 459.9h.01M316.5 460h.01M267.9 445.1h.01M278.2 425.2h.01M295.5 472.1h.01M308.6 474.3h.01M261.6 460.4h.01M287.4 442.6h.01M282.8 441h.01M289.2 414.6h.01M307.3 435.3h.01M279.5 424h.01M277.6 399.4h.01M256 474.9h.01M286.2 418.9h.01M279.5 488.1h.01M273.4 412.1h.01M314.7 417.8h.01M334.8 455.1h.01M275 474.4h.01M265.5 478.5h.01M278 478.6h.01M277.3 483.9h.01M276.6 408.9h.01M323.4 455.1h.01M306.1 479.7h.01M278.2 430.4h.01M306.9 483.2h.01M302.4 487.7h.01M320.3 489.1h.01M325.3 464.2h.01M320.4 463.8h.01M295.3 487.4h.01M281.6 394.8h.01M264.7 464.9h.01M276.2 486.5h.01M290.9 456.4h.01M295.3 405.7h.01M329.8 474.1h.01M296.4 422.7h.01M243.6 413.2h.01M292.2 488.7h.01M338.9 478.2h.01M284.4 454.5h.01M315.9 468.7h.01M288.9 467.1h.01M293 420.1h.01M293.7 479.6h.01M326.4 452.4h.01M245.1 486.6h.01M292.3 444.2h.01M272.2 476.2h.01M290.5 488.6h.01M285.6 435.7h.01M273.5 432.2h.01M313.3 422.5h.01M304.5 471h.01M291.3 476.9h.01M267 406.2h.01M327.6 464.8h.01M276 471h.01M283.9 409.4h.01M309.4 453.6h.01M305.5 457.4h.01M313 488.4h.01M288.3 486h.01M321.4 475.4h.01M290.1 442.8h.01M289.4 399.3h.01M253 439.8h.01M282.7 482.2h.01M246.2 462.7h.01M288.1 440.7h.01M291.2 466.4h.01M267.7 457.1h.01M325.1 396.2h.01M285.6 481.6h.01M280.3 408.5h.01M265.5 478.6h.01M262.6 478.7h.01M263 408.2h.01M292.7 410.9h.01M282.9 418h.01M300.4 416.3h.01M296.9 473.7h.01M250.2 477.3h.01M301.1 410.9h.01M308.3 481.5h.01M299.9 484.5h.01M327.8 467.6h.01M316.6 450.7h.01M292.5 484.8h.01M260.8 461.6h.01M296.9 457.7h.01M269.8 448.5h.01M240.6 416.6h.01M284.8 431.7h.01M281.4 404.7h.01M253.3 460.3h.01M286.6 477.3h.01M244.5 393.9h.01M290.1 471.7h.01M276.3 464.6h.01M275.4 433.6h.01M275.6 445.3h.01M276.2 473.5h.01M278.4 433.2h.01M288.4 464.1h.01M281.5 423.4h.01M243.3 435.4h.01M322.6 465.4h.01M317 481.1h.01M284.7 454.3h.01M283.5 402.9h.01M310 468.7h.01M246.7 433.9h.01M308.5 458.3h.01M285.6 486.6h.01M296.5 479.1h.01M275.9 487.8h.01M258.5 482.6h.01M320 463.3h.01M296.9 464.8h.01M280 421.7h.01M280 418.5h.01M276.3 409.9h.01M261.2 485.9h.01M302.4 487.9h.01M256.1 441.4h.01M303.8 467.6h.01M281.5 408.1h.01M252.8 443.6h.01M285.7 442.2h.01M265.1 465h.01M292.2 470.2h.01M281.7 465.5h.01M316.8 482.7h.01M284.9 489h.01M296.5 471.4h.01M338.3 454.2h.01M280.2 419.6h.01M312.6 488.2h.01M289.1 457.4h.01M251 425.5h.01M335.7 484.2h.01M283.5 437.7h.01M287.7 470.5h.01M265.3 397.7h.01M283 447.2h.01M317.4 452.9h.01M325.1 477.3h.01M288.8 450.8h.01M274 477.2h.01M280.7 442.9h.01M304.3 480h.01M286.2 475.4h.01M277.5 477h.01M287.8 464h.01M277 458.6h.01M284.9 422.2h.01M279 482.8h.01M265.7 480.2h.01M326.6 487.3h.01M281.7 476.5h.01M320.9 442.4h.01M329.6 404.2h.01M312.3 480.8h.01M288.6 401.6h.01M302.1 451.7h.01M293.8 397.2h.01M275.5 481.4h.01M286.7 474.6h.01M297.9 416.2h.01M268.8 407.2h.01M284.7 472.4h.01M296.7 441.2h.01M302.4 481.6h.01M300.9 474.2h.01M287.7 448.9h.01M331.4 438.9h.01M315.9 456.4h.01M303.6 458.2h.01M295.1 401.6h.01M249.3 442.8h.01M269.9 408h.01M288.2 424.7h.01M291.2 465.6h.01M334.1 443h.01M301 484.5h.01M321 475.3h.01M288.6 457.7h.01M276.3 412.6h.01M253.2 460h.01M257 411.8h.01M313.1 405.1h.01M317 464.2h.01M271.8 418.4h.01M254 440.1h.01M282.6 420.6h.01M286.9 463.4h.01M275.9 420.4h.01M273.9 465.9h.01M328.5 481h.01M274.6 415.7h.01M302.6 462.2h.01M285.3 446.6h.01M288.2 439.4h.01M334 448.7h.01M291.7 477.3h.01M293.4 456h.01M280.9 407.8h.01M285.1 464.1h.01M254.1 487.7h.01M293.7 460.5h.01M265.9 453.4h.01M286.4 474.4h.01M288.1 482.9h.01M288.3 432h.01M253.8 488.9h.01M276.6 467.6h.01M299.1 422h.01M334.2 485.8h.01M252.2 432h.01M303.8 393.9h.01M300.6 470.1h.01M293.7 474.8h.01M293.3 459h.01M300.6 466.8h.01M287.5 427.9h.01M284.7 449.3h.01M276.2 432.8h.01M288.2 395.6h.01M314.5 405.6h.01M292.1 476.8h.01M285.4 458.3h.01M252 420.7h.01M310.5 473.7h.01M334.7 479.5h.01M284.4 464.6h.01M269.7 397.9h.01M267.3 419.5h.01M291.5 419h.01M309.2 476.3h.01M330.3 476.3h.01M312.2 406.7h.01M286.1 483.4h.01M259.5 474.9h.01M317.8 459.8h.01M289.6 475.6h.01M270.3 485.8h.01M288.4 482.9h.01M294.6 478.5h.01M286.1 472.6h.01M280.4 436.7h.01M285.5 442.5h.01M270.9 462.7h.01M328.1 479h.01M286.1 459.6h.01M308.9 479.3h.01M315.9 432.2h.01M287.2 472.1h.01M303.9 410.9h.01M305.3 445.3h.01M281.8 474.9h.01M276.6 408.2h.01M294.7 474.2h.01M276.3 427.1h.01M313.9 454.8h.01M311.9 484.7h.01M284.4 453.9h.01M314.2 461.5h.01M306 484.2h.01M274.4 440.3h.01M287 425.1h.01M288 408.5h.01M306.5 460.1h.01M292.6 482h.01M321 445.2h.01M316.3 469h.01M256.7 418.6h.01M320.6 477.8h.01M332 461.8h.01M250.6 442.7h.01M317.8 448h.01M296.8 447.3h.01M274.7 446.5h.01M250.8 437.6h.01M243.9 417.7h.01M252.7 473.1h.01M265.9 408.6h.01M297.4 477.8h.01M290.9 431.5h.01M297.4 418.7h.01M294.7 482.8h.01M284.3 435.7h.01M280.5 447.9h.01M295.9 457.8h.01M295.3 483.7h.01M280 488.3h.01M273.1 430.1h.01M310.6 469.4h.01M301.9 404.4h.01M242.6 407.2h.01M255.9 482.9h.01M307.2 480h.01M276.6 454h.01M280.7 443.6h.01M284.5 414.6h.01M278.5 444.8h.01M250.7 484.9h.01M294.9 456.8h.01M289 448h.01M264.8 404.6h.01M321.8 442.6h.01M293.9 465.8h.01M287.7 483.8h.01M261.4 395.6h.01M287.4 404.9h.01M268.6 474.2h.01M291.5 478.5h.01M263 460.1h.01M287.6 438.8h.01M271.5 403.9h.01M243.9 457.9h.01M268.7 488.4h.01M285.9 433.3h.01M284.4 480.2h.01M264.2 479.3h.01M281.4 417.3h.01M247.1 452.1h.01M287 430.2h.01M320 471.4h.01M299.8 477.8h.01M317.6 475.3h.01M259 396.6h.01M327.9 462.9h.01M288.8 424.2h.01M290.3 480.1h.01M277.8 470h.01M282.9 475.9h.01M310.4 461h.01M248.8 453.7h.01M310.2 411.4h.01M280.9 460.6h.01M334.2 482.3h.01M251.9 451.1h.01M279.4 423.7h.01M300.6 477.1h.01M275.5 413.5h.01M310.4 479.2h.01M279.5 471.7h.01M264.8 406h.01M329.4 419.3h.01M280.3 444.6h.01M275.8 463.7h.01M270.2 480.9h.01M316.1 459.9h.01M291.9 483.1h.01M306.9 469.9h.01M291.6 413h.01M291.8 437.4h.01M324.1 448.6h.01M262.8 472.6h.01M270.8 409.7h.01M284.5 457.8h.01M263.5 460.5h.01M283.8 455.5h.01M283.2 422.4h.01M289.6 400.9h.01M255.8 486.4h.01M276.7 480.3h.01M276.1 475.8h.01M269.2 475.1h.01M279.7 445.4h.01M286.8 486.9h.01M302 466.5h.01M281.6 414.8h.01M318.1 469.9h.01M270.7 411.6h.01M322.9 416.6h.01M279.2 414h.01M280.3 420.8h.01M268.2 447.8h.01M276.9 412.2h.01M287.1 409.2h.01M287.8 468.8h.01M279.8 464.2h.01M292.1 434.3h.01M301.4 487h.01M313 458.2h.01M264.4 461.3h.01M301.2 404h.01M312.7 455.4h.01M282.2 481.9h.01M303.1 449.8h.01M310.1 416.5h.01M299 400.3h.01M286.1 415.4h.01M325.8 422.2h.01M251.8 447.8h.01M329.1 464.1h.01M297.5 413.4h.01M291.5 407.8h.01M272 479.3h.01M290.1 474.3h.01M312.2 465.8h.01M266.9 411h.01M289.6 433.2h.01M271.9 473.8h.01M301.3 442.3h.01M256.5 423.3h.01M311.5 429.7h.01M255 481.5h.01M297.7 470.1h.01M286.5 442.6h.01M336.2 401.6h.01M281.8 416.6h.01M264.1 420.6h.01M291.4 456.9h.01M281.5 416.9h.01M293.7 473.2h.01M298.7 409.7h.01M261.4 483.7h.01M275.8 422.6h.01M281.4 473.9h.01M281.1 436.9h.01M255.9 449.8h.01M324.5 443.4h.01M292.5 480.7h.01M277.6 461.1h.01M278.9 426.5h.01M298.8 487h.01M298.5 473.9h.01M294.9 425.9h.01M263.2 461.4h.01M267.9 459.8h.01M266.1 472.8h.01M255.5 458.9h.01M273.6 470.1h.01M279 452.2h.01M287.9 448.9h.01M269 473.9h.01M324 418.9h.01M294.5 489.1h.01M312.1 406.7h.01M296.2 402.1h.01M316 459.8h.01M291.1 481.9h.01M286.7 485h.01M272.4 434.1h.01M300.4 459.1h.01M288.6 423.7h.01M294 450.9h.01M285.4 410.7h.01M304.8 473.8h.01M294.9 459.3h.01M301.3 408.9h.01M274.9 470h.01M258.6 454.1h.01M250.8 464.5h.01M284.3 465.8h.01M255.9 391.2h.01M260 392.8h.01M287.3 468.6h.01M318.6 485.3h.01M251.2 486.5h.01M281.1 404.8h.01M258.2 410.7h.01M295.8 469.8h.01M285.7 485h.01M245.1 451.2h.01M327.9 436.7h.01M271.5 397.8h.01M319.9 466.8h.01M319.3 428.5h.01M283.3 452.6h.01M281.6 474.7h.01M315.9 465.3h.01M270.9 486.8h.01M286.4 406.5h.01M274.3 461.2h.01M284 417.4h.01M281.8 400.7h.01M334.1 477.4h.01M292.4 480.1h.01M312 412.1h.01M254.4 467h.01M243.1 473.2h.01M282.1 448.6h.01M325.6 454.8h.01M304.6 458.1h.01M278.5 414.4h.01M318.1 436.6h.01M292.5 484.8h.01M292.7 463.8h.01M281.6 428.8h.01M281.8 456.2h.01M288.4 451.2h.01M271.3 478.1h.01M299.9 409h.01M296.9 457.3h.01M277.4 484.5h.01M318.5 470.8h.01M314.8 453.7h.01M283.6 460.7h.01M310.6 473.8h.01M294.8 465.6h.01M271.2 478.8h.01M281.1 446.8h.01M281.8 435.2h.01M284.8 471.7h.01M288.1 461h.01M290.2 482.3h.01M310.2 430.9h.01M289.2 414.5h.01M265.9 485.3h.01M318.3 441.3h.01M295.6 473.6h.01M308.2 434.5h.01M276.8 414.6h.01M275.4 444.4h.01M284.1 472.1h.01M313 445.7h.01M276.5 409.9h.01M261.4 483.4h.01M245.3 427.7h.01M278.4 472.1h.01M279.6 466.7h.01M259.3 479.5h.01M329.1 472.7h.01M300.3 464.3h.01M262.2 474.7h.01M283.4 472.5h.01M277.2 435.4h.01M278.2 473.7h.01M281.7 422.8h.01M273.6 440.5h.01M313.9 468.7h.01M303.7 456.5h.01M271.4 461.7h.01M276 428.8h.01M280.7 456h.01M276.8 444.6h.01M312.7 483.8h.01M271.7 392.3h.01M280.8 405.5h.01M281.2 474.8h.01M276.3 399.6h.01M311.5 464.3h.01M324.5 483.4h.01M281.1 467.2h.01M282.3 394.6h.01M306.8 448.3h.01M320.4 444.9h.01M299.8 460.5h.01M302 461.1h.01M315.7 440.8h.01M278.4 407.3h.01M300.9 465.8h.01M276.7 416.2h.01M276.5 415h.01M281 408.8h.01M301.5 408.7h.01M286 445.9h.01M268.1 470.7h.01M282.6 444.9h.01M289.5 476.4h.01M292.9 429.6h.01M300.5 445.5h.01M318.4 478.6h.01M257.6 450.2h.01M316.5 415.4h.01M278.8 415.7h.01M290.9 397.5h.01M288.1 427.3h.01M290.9 412.8h.01M299.4 470.3h.01M273.8 476.6h.01M279.9 486h.01M288.8 484.1h.01M292.2 466.2h.01M253.5 451.9h.01M269.9 403h.01M280.1 453.1h.01M250.5 396.2h.01M261.6 458.1h.01M318.5 461h.01M244.5 465.2h.01M284 442.2h.01M285.1 474.7h.01M293.6 487.2h.01M302.6 477.8h.01M254 456.4h.01M275.3 406.1h.01M283.6 442.6h.01M285.3 422h.01M280.4 415.5h.01M272.8 463.8h.01M246.4 404.3h.01M282.4 413.5h.01M328.3 460.3h.01M293.5 418.7h.01M257 464.5h.01M244.7 392.4h.01M327.4 394.1h.01M271.5 472.5h.01M291.3 488h.01M253 478.4h.01M303.8 413.5h.01M324.4 474.2h.01M293.9 427.4h.01M272.6 420.8h.01M248.9 455.7h.01M320.2 433.3h.01M289.4 463.5h.01M279.9 422.7h.01M278.8 412.3h.01M311.7 449.8h.01M284.1 444.6h.01M277.1 442.9h.01M278.3 400.1h.01M298.6 409.6h.01M293.7 455.4h.01M287.9 448.7h.01M302.5 410.3h.01M285.1 476.3h.01M313.9 479.4h.01M292.6 413h.01M295.4 468.3h.01M322.9 487.1h.01M300 473.5h.01M318.4 445.4h.01M293.9 474h.01M290.7 487.1h.01M267 471h.01M253.3 443.8h.01M262.3 483.4h.01M322.4 460.1h.01M309.1 474.4h.01M279.8 478.9h.01M257.5 475.3h.01M319 458h.01M302.3 416.2h.01M322.8 416.7h.01M334.9 441.9h.01M291.7 486.4h.01M252.3 442.2h.01M284.9 475.1h.01M281.6 423.9h.01M283.2 408.2h.01M285.1 451.3h.01M302.9 406.7h.01M284.1 479.3h.01M281.3 423.8h.01M282.6 462.6h.01M268.8 485.1h.01M284.4 459h.01M286.6 422h.01M289.7 432h.01M276.7 462.7h.01M293 472h.01M247.3 483.5h.01M298.9 410h.01M279 451.7h.01M288 452.3h.01M273.8 467.5h.01" stroke="#1a1a72" stroke-width="1.5" stroke-linecap="round" fill="none"/><path d="M251.3 450h.01M277.4 448.7h.01M281.9 393.2h.01M279.8 449.4h.01M279.1 454.4h.01M279.5 413h.01M327.7 472.3h.01M274.5 409.6h.01M302.9 475.5h.01M334.4 471.5h.01M320.4 483.6h.01M277.2 436.6h.01M283.5 410.8h.01M294.8 409.8h.01M307 474.1h.01M292.4 443.4h.01M282.5 440.7h.01M307 459.2h.01M287.7 462.4h.01M260 409.5h.01M269.1 445.3h.01M330 472.1h.01M329.2 480.3h.01M309 482.5h.01M288.4 486.6h.01M297.3 465.6h.01M318.1 453.3h.01M318.2 442.7h.01M314.4 428.6h.01M285 418.5h.01M261.5 399.3h.01M269.5 473.9h.01M296 468.9h.01M319.3 447.2h.01M277.5 407.9h.01M330.5 479.6h.01M326.7 486.7h.01M306.7 463.9h.01M306.5 418.8h.01M295.1 404.5h.01M278.8 421.2h.01M315.8 476.8h.01M245.2 460h.01M296.2 487.4h.01M291.7 469.1h.01M297.9 457.9h.01M281.4 467.8h.01M288 408.7h.01M286 444.3h.01M288.6 466.3h.01M324.8 444h.01M286.5 424.2h.01M287.4 463.4h.01M287.9 460.6h.01M295.3 467.5h.01M311.7 447.5h.01M259.2 415.1h.01M265.4 486.8h.01M284.9 478.2h.01M277.9 406.2h.01M294.9 442.9h.01M295 473.4h.01M276.1 447.4h.01M246.9 473.5h.01M307.8 396.4h.01M289.8 454.5h.01M282.5 461.1h.01M293.7 464.4h.01M269.3 464.5h.01M253.2 468h.01M284.8 455.3h.01M289.3 442.8h.01M319.7 428.5h.01M271.4 411.2h.01M267.1 472h.01M280 484.7h.01M276.6 416.6h.01M299.1 456.6h.01M289.1 418.5h.01M311.8 444.4h.01M336.1 461.9h.01M288.1 476.4h.01M249.9 463.6h.01M284.1 471.6h.01M249.6 457.2h.01M282.5 427.9h.01M301.6 413.6h.01M289.1 467.1h.01M268 465.7h.01M285.3 413.8h.01M271.6 406.9h.01M277.7 436.5h.01M291.9 447.3h.01M258.3 460.7h.01M278.7 449.2h.01M281 481.5h.01M309.9 460.6h.01M261.3 484.4h.01M307.6 472.2h.01M268.3 447.5h.01M264.6 485.7h.01M284.6 461h.01M310.6 489.4h.01M307.3 475.3h.01M317 479.8h.01M310.3 480h.01M307.8 460.8h.01M271.8 406.3h.01M303.1 473.7h.01M325.2 475.8h.01M280 465.9h.01M285.4 448.5h.01M284.2 488.9h.01M281.5 482.6h.01M276.4 479.5h.01M296.5 415.4h.01M310.6 468.9h.01M267.8 466.6h.01M245.1 427.9h.01M287.8 448h.01M301.9 462.4h.01M255.7 414.7h.01M281.1 408.2h.01M318.6 456.1h.01M272.2 426.5h.01M296.2 475.2h.01M259.3 454.9h.01M284.1 415.1h.01M301.2 407h.01M246.5 464.3h.01M302.7 406.7h.01M276.1 426.4h.01M324.2 453.9h.01M318.1 486.1h.01M323.7 476.7h.01M335.9 468h.01M300.6 474.5h.01M283.4 432.5h.01M281.7 424.6h.01M284.8 443h.01M250.2 438.5h.01M334 465.3h.01M316.4 476.5h.01M316.5 480.1h.01M281.2 474.7h.01M308.4 474.2h.01M284.4 406.4h.01M252.4 455.1h.01M295 445.8h.01M287.7 477.4h.01M299.9 449.2h.01M304.2 486.6h.01M293.9 463.4h.01M255.1 476.5h.01M305.8 470.8h.01M268.8 408.8h.01M275.5 426.7h.01M282 487.7h.01M271 416.6h.01M276.2 418.1h.01M321.7 460.1h.01M319.2 403h.01M300.4 480.1h.01M288.2 423.9h.01M290.7 445.7h.01M284.6 417.8h.01M285.7 470.6h.01M305.4 471h.01M291.5 421.9h.01M279.8 421.1h.01M291.1 400.2h.01M277.2 410h.01M325.6 479.7h.01M299.7 472.3h.01M252.9 465h.01M274.1 413.2h.01M283.9 463.3h.01M292.5 460.6h.01M286.7 468.9h.01M258.6 411.9h.01M290.3 457.5h.01M275.6 482.2h.01M308.4 431h.01M272.6 466h.01M279.3 487.2h.01M280.6 433.5h.01M247.9 449.3h.01M250.4 442.8h.01M306.1 483.7h.01M257.5 447.4h.01M312.9 473.1h.01M283.3 469.9h.01M315.5 473.8h.01M279.4 472.6h.01M280.4 485.5h.01M258.9 402.5h.01M302.5 408.7h.01M271.2 422.2h.01M283.3 440.1h.01M319.4 464.3h.01M261.3 447.5h.01M299.4 453.7h.01M304.8 466.5h.01M313.3 462.6h.01M298.1 461.2h.01M301.4 421.8h.01M288.5 462.7h.01M278.1 392.4h.01M271.5 405.3h.01M288.9 446h.01M294.9 466.4h.01M290.6 393.4h.01M282.4 464.8h.01M274.1 471.5h.01M280 431.2h.01M273.8 466h.01M278 476.6h.01M291.5 416.3h.01M308.8 474.1h.01M271.7 483h.01M324.9 458.2h.01M302 472.5h.01M325.6 472h.01M304.3 446.6h.01M286.1 466.9h.01M249.5 467.6h.01M328.7 474.5h.01M288.1 482h.01M272.4 409h.01M284.7 462.2h.01M310.6 470.7h.01M278.3 429.5h.01M310.5 439.2h.01M291.3 488.4h.01M274 428h.01M317.2 467.6h.01M328.5 428.8h.01M260.1 409.9h.01M307.9 434.6h.01M288.1 465.7h.01M292.2 415.4h.01M329 393.8h.01M320.7 466.9h.01M325.4 428.7h.01M318.9 440.4h.01M297.6 447.1h.01M270.5 474.6h.01M299.6 474.3h.01M277.3 423.2h.01M292.4 425h.01M318.1 431.3h.01M290.8 448.8h.01M281.9 416.1h.01M317 423.6h.01M293.5 454.3h.01M287.8 410.4h.01M274.1 431h.01M264.8 483.6h.01M326.2 455.6h.01M292.2 434.7h.01M281.7 451h.01M264.6 408.5h.01M325.5 481.1h.01M287 457.7h.01M292.8 426.4h.01M279.3 450.3h.01M303.1 394.5h.01M298.6 473.2h.01M241.1 405.6h.01M310.4 416.9h.01M264.1 407.3h.01M295.7 419.6h.01M284.1 463.1h.01M321 482h.01M279.2 413h.01M296.8 468.3h.01M311.6 473.6h.01M284.8 440.7h.01M281.6 468.7h.01M245.1 463.8h.01M302.2 457.7h.01M259.3 475.7h.01M297.1 403h.01M317.8 487.6h.01M297.3 463.5h.01M293.7 476h.01M314.2 473.7h.01M273.6 429.5h.01M273.4 401.4h.01M279.1 469.9h.01M302.2 464.4h.01M294.3 463h.01M260 406.4h.01M308.4 488.5h.01M245.2 458.4h.01M267.9 412.6h.01M290 414h.01M285.3 475.3h.01M289.5 425.7h.01M287.2 423.6h.01M306.7 477.2h.01M288.7 465.8h.01M326.1 483.2h.01M284.8 441.1h.01M313.3 462.8h.01M275.1 476.4h.01M268.1 447.4h.01M285.6 408.6h.01M284.4 423.1h.01M320.8 457.2h.01M285.3 436.8h.01M286.6 466.7h.01M292.8 479.2h.01M243.2 482.5h.01M284.9 482.5h.01M290.6 449.9h.01M297.3 457.6h.01M315.3 436.7h.01M254.4 446.7h.01M282 408.7h.01M281.3 476.6h.01M318.9 421.8h.01M278.3 488.2h.01M294.7 478.7h.01M283 457.9h.01M278.6 460.8h.01M281.3 489.3h.01M308.2 478.1h.01M284.8 467.9h.01M294.5 411.9h.01M291.3 466.8h.01M298.3 472.9h.01M290.8 461.1h.01M311.1 482.4h.01M251.4 478.1h.01M295.6 463.8h.01M302 461.2h.01M285.6 440.2h.01M288.1 422.1h.01M307.4 440h.01M304 450.7h.01M250.5 478.1h.01M289.6 471.5h.01M293.4 462.6h.01M298.2 479.3h.01M289.6 437.6h.01M284.3 442.8h.01M285.8 488.6h.01M278.2 438.4h.01M266.2 411.3h.01M286.7 435.4h.01M299.5 459.6h.01M287.8 417.8h.01M282.5 415.2h.01M314.4 457.9h.01M284.5 402.3h.01M267.5 410.1h.01M264.1 449.5h.01M287.8 421.2h.01M300.8 470h.01M283.9 430.1h.01M272.3 478.4h.01M330.2 426h.01M313 466.1h.01M323.3 412.4h.01M297.3 438.7h.01M288.8 407.6h.01M284.8 473.2h.01M258.4 417.4h.01M339.2 440.2h.01M241.4 435.2h.01M277.2 473.9h.01M276.5 428.2h.01M284.2 442.5h.01M272.9 432.1h.01M310.3 472.7h.01M279.7 417.1h.01M290.8 424.9h.01M311.5 423.3h.01M278 458.1h.01M288 429.3h.01M292.7 454.7h.01M311.6 407.8h.01M274.7 471.4h.01M313.1 479.7h.01M264.7 459.1h.01M288.1 442.8h.01M306.8 467.3h.01M304.9 411.9h.01M268.4 471h.01M309.4 481.5h.01M274.1 393.9h.01M311.6 452.9h.01M297.4 482.2h.01M284.1 399.6h.01M287.2 450.6h.01M302.7 467.8h.01M284.5 439.6h.01M314.1 438.7h.01M316.2 446.5h.01" stroke="#232392" stroke-width="1.4" stroke-linecap="round" fill="none"/><path d="M254.1 472.3h.01M266.4 449.7h.01M289.6 467.6h.01M272.1 435.4h.01M290.8 471.8h.01M276.8 486.7h.01M273.4 438.1h.01M279.7 409.3h.01M269.6 471.5h.01M303.2 422.6h.01M310.7 421.9h.01M290.9 433h.01M273.1 466h.01M305.2 451.6h.01M333.7 422.6h.01M338.6 481.5h.01M286.5 436h.01M281.4 410.9h.01M249.1 439.5h.01M329.3 472h.01M283.4 462.5h.01M291.3 467.9h.01M308.3 477.5h.01M267.2 482.7h.01M324.2 467.7h.01M277.4 447.3h.01M290.2 462.2h.01M269 408h.01M280.3 470.6h.01M318.2 431.4h.01M288.7 471.3h.01M293.2 459.5h.01M300 478.3h.01M285.1 477.9h.01M286.3 479.7h.01M304.5 461.6h.01M293.4 480.2h.01M293 470.4h.01M323.7 428.6h.01M273.2 461.5h.01M287.3 478.7h.01M294.7 423.2h.01M285.5 481.5h.01M295.5 413.8h.01M304.2 481.9h.01M302.5 407.6h.01M282.4 410.9h.01M272.9 475.7h.01M280.4 455.8h.01M287.3 438h.01M291.2 437h.01M273 474.4h.01M249.2 482h.01M294.2 482.7h.01M317.7 421.7h.01M293.9 414h.01M266.5 474.7h.01M281.2 449.9h.01M282.2 471.3h.01M297.9 465.8h.01M309.1 487.6h.01M249.4 464.1h.01M305.7 393.6h.01M248.8 449.5h.01M274.1 408.5h.01M282.2 424h.01M258 474.9h.01M254.1 462h.01M301.6 473.8h.01M259.8 474.8h.01M292.4 476.5h.01M278.7 429.4h.01M257.3 418.9h.01M314.8 410.4h.01M309.3 471.2h.01M273.9 477.1h.01M249.2 474.7h.01M264 409.3h.01M272.7 411.1h.01M317.8 476h.01M277.1 419.1h.01M314.9 415h.01M292.4 473.6h.01M285.5 466.1h.01M267.1 464h.01M277.6 429h.01M306.2 478h.01M338.8 454.5h.01M274 427.4h.01M310.5 427.7h.01M321.2 456.6h.01M247 461.5h.01M276 464.2h.01M282.2 400.5h.01M309.5 392.4h.01M280.1 456.8h.01M279.2 416.7h.01M274.9 472.5h.01M286.5 448.2h.01M285.3 417.2h.01M309.1 473.9h.01M275.2 464.1h.01M266.3 444.4h.01M260.2 475h.01M298.6 449.5h.01M301 397.8h.01M278.9 421.9h.01M286.4 445.4h.01M319.8 427.5h.01M270.4 474.6h.01M290.6 460h.01M291.1 428h.01M328.3 427.4h.01M290.2 469.7h.01M307.7 420.4h.01M247.5 482.3h.01M268.3 415.8h.01M250 457.5h.01M322.6 419.4h.01M313.4 453.5h.01M284.7 442.1h.01M246.8 447h.01M317.1 450.7h.01M277.9 465.6h.01M256.4 429h.01M293.5 470.2h.01M299.4 408.1h.01M319 447.6h.01M309.1 417.6h.01M295.8 471.3h.01M328.1 400.4h.01M267.8 405.6h.01M313.9 459.3h.01M293.8 464.8h.01M276.8 442.5h.01M295.6 418.3h.01M297.4 469h.01M318.6 462h.01M288.8 405.8h.01M311.3 483.5h.01M290.9 464.4h.01M313.2 425.6h.01M266.8 467.5h.01M273.6 394.6h.01M275.4 471.3h.01M273.9 434.2h.01M329.4 403.3h.01M315.1 487.1h.01M326.1 459.5h.01M287.9 415h.01" stroke="#3232b4" stroke-width="1.2" stroke-linecap="round" fill="none"/><path d="M274.4 410.3h.01M322.6 417.8h.01M270.5 403.4h.01M296.6 417.9h.01M308.1 429.7h.01M300.1 442.7h.01M332.3 415.4h.01M325.1 409.5h.01M295.5 458.2h.01M242.7 421.2h.01M281.1 406.3h.01M315.1 402h.01M282.4 409.8h.01M310.8 459.4h.01M319 442.8h.01M300.6 480.1h.01M281.8 484.2h.01M328.2 400h.01M284.7 461.9h.01M298.8 393.6h.01M277.9 472.3h.01M284 423.2h.01M265.3 464.7h.01M245.1 465.7h.01M323 469.9h.01M316.8 408h.01M254.5 476.8h.01M296.3 419.1h.01M280.5 429h.01M323.9 466h.01" stroke="#1a6a2a" stroke-width="0.9" stroke-linecap="round" fill="none"/><path d="M276.5 402.5h.01M285.5 406.7h.01M294.3 396.7h.01M322.5 401.9h.01M311 401.9h.01M270.3 422.1h.01M277.6 421.7h.01M289.1 419.2h.01M277.6 426.9h.01M313.1 425.5h.01M318.3 422.1h.01M291.1 438.4h.01M293.2 436.7h.01M318.3 437.4h.01M336 438h.01M300.5 450.3h.01M294.3 453h.01M311 454.1h.01M247.3 455.5h.01M270.3 463.5h.01M280.7 464.5h.01M285.5 465.6h.01M305.8 467.6h.01M271.3 468.7h.01M301.6 461.4h.01M312 461.4h.01M336 476h.01M295.3 477h.01M268.2 478.5h.01M313.1 480.2h.01M273.4 483.9h.01M260.9 485.8h.01M253.6 465.6h.01M265.1 415.5h.01M256.7 415.5h.01M244.2 417.5h.01M331.9 415.5h.01M306.8 417.5h.01M302.6 409.2h.01M315.2 409.2h.01" stroke="#28b040" stroke-width="1.3" stroke-linecap="round" fill="none"/><path d="M253.6 437.4h.01M242.1 456.2h.01M258.8 462.4h.01M272.4 462.4h.01M304.7 448.9h.01M290.1 455.1h.01M301.6 460.3h.01M308.9 467.6h.01M322.5 478.1h.01M249.4 412.9h.01M242.1 409.2h.01M263 397.7h.01M336 396.7h.01M339.2 438.4h.01M311 429h.01M315.2 433.2h.01M318.3 426.9h.01M294.3 448.9h.01M284.9 414.4h.01M267.1 415.5h.01M271.3 438.4h.01M259.8 448.9h.01M307.8 400.8h.01M320.4 408.1h.01" stroke="#a01830" stroke-width="1.3" stroke-linecap="round" fill="none"/><path d="M280.7 396.7h.01M280.7 399.8h.01M289.1 407.1h.01M301.6 412.3h.01M308.9 412.3h.01M288.6 415.5h.01M291.1 419.2h.01M270.3 425.5h.01M313.1 421.7h.01M282.4 440.5h.01M289.1 445.7h.01M300.1 445.1h.01M296.4 459.7h.01M316.2 470.8h.01M316.8 473.9h.01M314.7 472.2h.01M271.3 479.8h.01M276.5 482.3h.01M291.8 478.5h.01M285.9 481.2h.01" stroke="#f01838" stroke-width="2.2" stroke-linecap="round" fill="none"/></g>
</svg>
<line x1="309.4" y1="371.25" x2="326" y2="371.25" stroke="#fff" stroke-width="2.0" />
<line x1="310.2" y1="366.75" x2="310.2" y2="375.75" stroke="#fff" stroke-width="1.7" />
<line x1="325.2" y1="366.75" x2="325.2" y2="375.75" stroke="#fff" stroke-width="1.7" />
<line x1="309.4" y1="475.2" x2="326" y2="475.2" stroke="#fff" stroke-width="2.0" />
<line x1="310.2" y1="470.7" x2="310.2" y2="479.7" stroke="#fff" stroke-width="1.7" />
<line x1="325.2" y1="470.7" x2="325.2" y2="479.7" stroke="#fff" stroke-width="1.7" />
<rect x="0" y="0" width="520" height="1.2" fill="#000"/>
<rect x="0" y="0" width="1.3" height="498" fill="#000"/>
<rect x="0" y="496.4" width="520" height="1.6" fill="#000"/>
<rect x="518.9" y="0" width="1.1" height="498" fill="#000"/>
</svg>
</body></html>
